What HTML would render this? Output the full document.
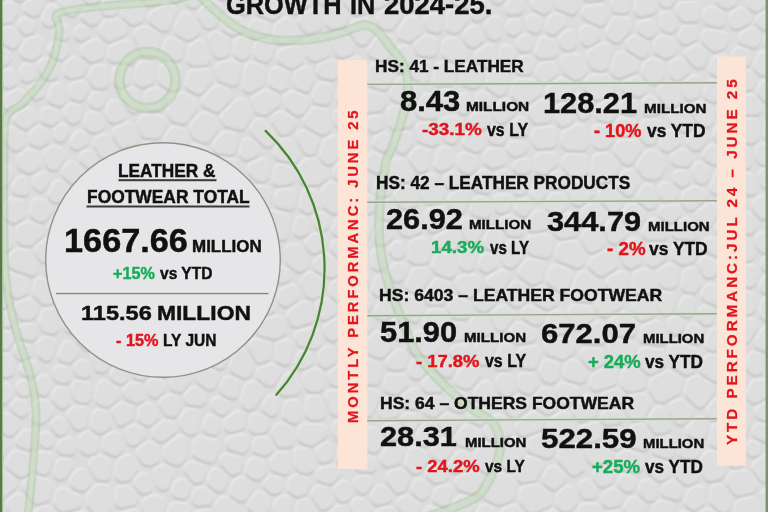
<!DOCTYPE html>
<html><head><meta charset="utf-8">
<style>
html,body{margin:0;padding:0}
body{width:768px;height:512px;overflow:hidden;position:relative;background:#dcdcdc;font-family:"Liberation Sans",Arial,sans-serif}
.t{position:absolute;white-space:nowrap;font-weight:bold;line-height:1;color:#111;transform-origin:0 0;-webkit-text-stroke-width:0.45px}
.abs{position:absolute}
.v{color:#e3141c;-webkit-text-stroke:0.25px #e3141c}
svg{position:absolute;left:0;top:0}
</style></head><body>
<!--BG-->
<svg class="bgx" width="768" height="512" viewBox="0 0 768 512" style="position:absolute;left:0;top:0">
<defs><filter id="bl" x="-2%" y="-2%" width="104%" height="104%"><feGaussianBlur stdDeviation="0.85"/></filter></defs>
<rect width="768" height="512" fill="#dcdcdc"/>
<g filter="url(#bl)">
<path fill="#bdbdbd" transform="translate(-0.2,1.8)" d="M-9 -2 -6 1 -2 2 4 -1 7 -4 8 -7 7 -22 6 -25 3 -27 -1 -28 -5 -26 -12 -14 -12 -9ZM-37 16 -42 19 -43 23 -42 27 -38 30 -13 36 -8 34 -5 28 -5 24 -7 16 -9 13 -11 12 -15 12ZM-6 495 -5 498 -2 499 1 499 4 498 16 488 17 484 15 480 5 472 2 472 -1 473 -8 480 -9 483 -9 486ZM-18 159 -20 161 -21 164 -20 167 -19 170 -14 173 -11 173 -8 173 -6 171 -4 169 -3 166 -4 163 -5 161 -9 158 -12 157 -15 157ZM10 227 -0 221 -3 221 -6 222 -8 224 -9 226 -11 240 -10 244 -8 246 2 251 6 251 9 250 12 247 13 245 12 231ZM-11 61 -7 68 -5 69 -2 69 1 68 10 62 12 58 11 54 9 52 -1 46 -3 46 -7 47 -10 50 -12 58ZM-38 256 -41 259 -42 263 -40 268 -37 270 -4 274 0 272 4 267 4 260 3 256 1 254 -13 248 -17 248ZM-12 135 -8 136 -4 135 6 122 6 120 6 116 5 114 1 111 -2 110 -5 111 -19 119 -22 122 -22 125 -21 129ZM-25 452 -28 451 -42 451 -44 452 -46 454 -48 457 -48 471 -47 473 -45 476 -42 478 -16 480 -14 480 -11 478 -6 471 -5 467 -6 465 -9 462ZM-5 460 -1 461 3 459 4 457 9 447 9 444 7 441 -2 436 -5 436 -7 437 -15 443 -17 447 -17 451 -15 453ZM-39 376 -42 378 -43 381 -43 385 -41 388 -37 389 -15 393 -12 393 -9 392 -3 384 -2 381 -2 378 -4 376 -11 368 -15 367 -18 367ZM-18 300 -16 300 -13 298 -4 288 -3 283 -5 279 -9 277 -40 273 -44 274 -46 276 -48 279 -48 291 -47 294 -45 297 -42 298ZM8 414 4 413 0 415 -3 419 -3 423 -2 428 -0 431 7 436 10 436 14 435 18 430 20 428 20 425 19 423 18 420ZM-11 418 -9 418 -6 416 -4 413 -3 410 -4 406 -11 398 -40 393 -44 393 -47 396 -48 399 -48 409 -47 412 -45 414 -42 415ZM-18 81 -20 83 -21 86 -21 89 -19 92 -9 96 -5 96 -3 94 -1 91 -1 88 -4 81 -5 79 -8 77 -11 77ZM-3 330 -7 331 -9 333 -10 336 -10 339 -7 347 -5 349 -2 350 6 350 8 349 10 347 14 341 14 338 13 335 11 333 9 332ZM-9 189 -16 194 -17 197 -17 200 -16 202 -9 209 -5 210 -2 209 0 206 3 200 3 197 2 194 -3 190 -6 189ZM-8 299 -10 302 -9 305 -8 308 -5 310 -2 310 5 308 7 306 9 304 9 301 8 298 5 294 2 293 -0 293 -3 293ZM11 273 6 273 2 276 1 280 3 286 12 296 15 298 19 298 26 295 28 293 29 290 29 284 28 281 25 278ZM2 84 4 87 7 88 10 88 15 86 17 83 17 81 16 74 14 71 12 69 9 69 6 70 2 73 0 75 -0 78ZM-4 175 -5 180 -4 184 0 187 4 187 7 186 9 184 13 176 14 172 13 170 11 168 8 167 5 167 2 169ZM3 100 2 103 3 107 7 110 10 111 25 105 27 103 28 99 27 97 25 92 22 90 19 89 16 90 6 95 4 97ZM-8 358 -9 362 -8 365 2 376 5 377 8 377 11 376 13 375 14 372 15 364 14 362 10 355 6 354 -3 354 -6 356ZM-16 510 -19 514 -18 519 -17 521 -9 528 -5 528 -2 527 4 521 5 518 6 515 5 513 2 506 -2 504 -5 503 -8 504ZM-3 401 -0 403 4 404 7 403 12 398 13 395 13 393 12 388 10 386 8 384 5 384 2 385 0 386 -5 394 -5 398ZM7 507 11 515 14 516 21 518 24 518 26 517 28 515 30 510 31 506 23 496 20 494 16 494 9 500 7 502ZM12 -6 13 -3 15 -1 18 1 20 1 23 0 32 -5 34 -9 34 -12 28 -43 27 -46 24 -48 18 -48 15 -47 12 -45 11 -43ZM0 6 -2 8 -4 11 -1 21 1 22 4 24 9 23 12 22 18 13 18 10 17 6 13 3 10 2 7 2ZM2 313 -0 315 -2 318 -2 321 -1 324 1 326 4 327 9 327 12 326 14 323 15 320 13 315 11 313 8 312ZM-3 32 -4 36 -2 41 10 48 13 49 16 48 18 46 20 42 21 39 20 36 14 29 11 28 9 27 1 28 -1 30ZM3 211 2 215 4 218 11 223 15 223 23 219 25 217 26 214 26 205 25 202 22 200 11 199 8 200 7 202ZM17 159 17 164 19 169 21 170 27 173 31 173 37 170 39 168 41 166 41 162 38 154 36 151 32 150 29 149 26 151 18 157ZM25 380 21 381 19 382 17 384 16 388 17 391 19 394 21 396 25 396 28 396 30 394 31 392 32 390 31 386 30 383 28 382ZM16 356 18 359 21 360 28 358 31 356 32 354 32 351 32 348 30 346 27 345 21 344 18 344 15 347 14 350 14 353ZM11 149 15 151 20 150 24 146 25 142 24 137 23 134 14 128 10 127 8 128 6 129 3 133 2 136 4 140ZM28 19 25 18 22 19 19 22 18 25 19 29 22 32 24 34 27 35 33 33 35 30 36 28 36 25 34 22ZM7 460 6 465 7 468 19 477 21 477 24 477 29 474 31 471 32 468 31 459 30 456 27 454 18 451 15 451 11 454ZM20 302 16 304 15 308 16 311 19 318 22 320 24 320 31 320 34 318 36 316 38 311 38 307 37 305 32 300 29 299 26 299ZM8 262 9 266 12 269 29 275 32 276 35 275 37 273 38 270 38 266 31 254 30 251 27 250 19 249 15 250 9 256ZM128 549 127 546 112 521 110 518 106 518 99 519 96 522 84 550 83 554 85 558 89 560 122 560 125 559 128 556 128 554ZM40 555 42 558 44 559 49 560 53 558 56 554 58 518 57 515 52 508 48 506 45 506 36 510 34 512 30 521 30 525ZM21 76 22 80 26 82 29 82 33 80 36 77 36 75 36 72 33 67 31 65 28 64 25 64 23 66 20 70ZM13 185 12 188 13 191 14 193 16 195 24 196 27 195 29 192 30 189 29 182 27 179 25 177 21 177 18 178 16 180ZM15 400 11 405 11 408 12 410 14 413 19 416 21 417 25 416 27 414 29 412 29 407 28 404 27 402 24 401 19 399ZM17 239 18 242 21 245 28 246 31 246 42 237 44 234 43 230 42 227 39 226 30 222 26 222 19 226 17 228 16 232ZM18 113 15 116 14 118 14 121 16 124 22 128 25 129 28 129 34 124 36 122 37 119 36 114 35 111 33 109 28 108ZM43 452 39 453 36 456 36 468 36 471 38 473 41 474 45 475 48 473 50 471 54 459 53 455 50 453 47 452ZM21 49 20 54 23 58 25 59 31 60 34 60 41 55 43 52 44 44 44 41 41 38 38 36 28 39 25 41ZM18 437 16 439 16 442 17 445 20 447 29 450 32 449 34 447 35 443 34 435 33 432 31 431 28 430 24 430ZM18 328 17 331 18 335 19 338 22 339 32 341 35 339 38 335 38 332 37 328 35 326 33 324 30 324 23 325 20 326ZM33 -40 39 -8 41 -6 47 -2 51 -1 54 -1 56 -2 62 -8 63 -10 63 -14 54 -44 52 -46 49 -48 38 -48 35 -46 33 -43ZM26 480 23 483 23 488 24 490 33 502 36 504 39 504 46 502 49 500 50 498 53 489 53 485 49 481 47 480 35 477 32 477ZM32 416 32 420 35 423 38 424 44 423 46 422 53 415 54 412 54 409 49 403 47 401 44 400 39 401 36 402 34 405ZM25 363 22 365 20 368 20 372 23 375 25 376 31 377 34 376 38 373 39 370 39 367 38 365 36 363 32 361ZM27 2 25 4 24 7 24 11 26 13 28 14 33 17 36 16 39 15 40 12 43 6 43 3 41 -0 38 -2 35 -2ZM30 213 31 216 33 219 40 222 43 222 47 220 51 214 52 212 53 209 51 206 44 200 42 199 36 199 33 200 31 203ZM33 291 33 295 35 297 42 304 46 305 52 304 55 302 57 300 59 291 58 288 56 285 44 279 41 278 38 278 35 281ZM38 258 40 260 42 262 46 262 48 261 59 253 60 250 59 246 57 244 51 240 48 239 45 240 37 246 36 248 35 252ZM31 96 33 98 36 100 39 99 42 98 44 96 45 91 45 88 44 86 42 84 39 83 36 84 34 85 31 87 30 90 30 92ZM43 311 39 321 39 324 42 330 44 332 46 333 53 334 56 333 59 331 60 327 59 315 58 312 56 310 53 308 45 309ZM39 357 45 361 48 361 51 360 53 357 57 345 56 341 53 339 47 337 44 337 41 339 37 343 37 347 38 355ZM31 132 29 134 29 138 30 143 32 145 37 147 41 147 47 144 49 142 50 139 50 134 48 131 46 129 42 127 39 127 36 128ZM38 378 36 381 35 383 37 392 39 394 41 395 44 396 46 395 49 393 52 386 52 383 50 379 48 376 44 375 41 376ZM33 186 35 189 38 191 41 192 44 190 46 188 50 181 50 179 48 175 46 173 42 173 35 176 33 179ZM41 74 43 77 49 80 51 80 55 79 58 77 59 75 59 67 57 64 49 59 46 58 43 59 40 61 38 65 38 68ZM43 17 42 20 43 23 46 26 50 27 53 26 59 21 61 19 62 15 61 13 58 7 55 6 52 5 49 6 47 8ZM47 149 44 151 43 155 46 165 48 168 51 170 54 170 57 170 59 168 65 159 66 156 65 153 62 149 55 147 51 147ZM49 108 45 108 42 110 41 113 41 118 41 120 43 123 48 125 51 126 54 125 59 121 60 118 60 115 59 113 57 110ZM54 438 49 433 46 432 43 433 41 435 39 437 39 440 40 444 42 446 45 448 48 448 51 447 53 446 54 443 54 441ZM48 228 50 234 52 235 61 241 65 242 69 240 71 238 73 227 72 225 70 222 62 217 58 216 54 218 49 225ZM91 522 91 519 90 516 87 513 84 511 81 512 67 516 64 518 62 522 60 552 60 556 62 558 65 560 71 560 74 559 76 557ZM66 489 62 488 58 490 56 492 54 500 54 504 58 510 60 511 63 512 79 508 81 506 82 503 82 499 80 496ZM59 442 57 448 58 451 60 453 62 454 69 455 72 455 75 453 76 450 77 447 75 442 73 439 71 438 67 438 61 440ZM54 471 54 475 56 478 59 480 63 479 66 478 72 470 73 467 73 464 71 461 69 460 64 459 61 459 57 462ZM53 421 51 424 51 427 52 429 56 434 58 435 61 436 64 435 66 433 68 430 68 427 65 421 64 419 62 418 58 417 56 418ZM62 366 58 366 55 368 53 371 53 375 55 380 58 382 61 383 67 383 69 382 71 380 71 377 71 374 70 370 68 368ZM49 192 48 196 50 199 53 202 57 203 61 202 68 196 69 193 70 190 68 187 63 182 61 181 59 181 56 181 54 183ZM49 265 47 267 46 270 46 273 48 276 56 280 59 280 62 278 63 276 66 268 66 265 65 262 62 260 58 260ZM57 406 60 408 64 409 68 406 70 404 70 399 68 392 66 389 64 388 60 387 57 388 55 390 52 395 52 400ZM56 43 53 43 50 45 48 49 48 52 51 55 57 59 60 60 63 60 65 58 68 55 69 52 69 49 67 46 65 45ZM54 136 55 139 57 141 61 142 64 141 66 139 69 134 70 132 69 128 68 126 65 125 63 124 60 125 54 130 54 133ZM48 96 48 100 50 103 52 104 58 106 60 106 63 105 65 102 66 100 64 87 62 85 59 83 55 84 52 86ZM58 27 55 30 55 32 55 36 57 38 59 39 63 40 66 40 68 38 70 36 70 32 70 29 69 27 66 25 63 25 60 25ZM77 164 73 162 69 162 66 165 62 171 62 175 64 177 70 183 72 184 76 183 81 181 83 179 85 176 85 173 84 171ZM65 251 66 255 70 261 72 263 74 263 81 265 85 264 87 262 91 256 91 252 88 247 85 246 76 243 72 243 68 245 66 248ZM61 299 61 304 64 307 67 308 76 309 78 308 80 306 84 300 84 297 83 294 80 291 68 290 65 291 63 293ZM59 353 58 357 60 361 63 362 69 363 72 362 77 357 78 355 79 352 77 348 72 343 70 342 67 342 65 342 62 345ZM87 28 82 26 79 26 77 28 75 30 74 34 75 37 76 39 79 40 81 41 84 40 87 38 89 36 89 33 89 30ZM64 72 65 76 69 78 71 79 80 77 83 76 85 73 87 70 87 67 85 64 79 59 76 57 74 57 71 59 65 64 64 67ZM72 426 75 429 78 430 83 429 86 427 87 424 88 414 88 410 86 408 83 407 76 407 73 408 69 411 68 414 68 417ZM65 203 63 207 63 211 65 214 72 219 74 220 78 220 82 217 84 215 85 211 84 208 76 201 73 200 71 200ZM64 116 66 119 70 123 73 124 76 123 79 122 81 119 82 113 82 110 81 107 78 105 73 104 70 104 68 106 65 109 64 112ZM70 271 67 280 68 283 70 285 72 286 83 286 86 285 88 282 88 278 85 272 84 270 81 269 75 268 72 269ZM66 13 69 16 74 16 77 14 81 8 81 6 81 3 78 -4 76 -6 71 -7 67 -7 65 -6 61 -1 61 1 61 4ZM64 327 65 330 67 332 70 333 74 333 82 326 83 323 82 319 80 316 77 313 71 313 68 313 65 315 64 317ZM71 478 70 482 71 486 73 488 80 491 83 491 86 490 90 486 91 483 91 480 90 478 86 471 83 469 80 469 77 470ZM79 381 74 382 72 386 71 390 74 398 75 400 78 402 84 403 87 403 89 401 91 398 92 389 92 386 90 384 88 383ZM74 369 76 375 79 377 85 378 88 377 90 375 91 371 91 369 89 363 87 361 84 360 82 360 79 361 76 364 74 367ZM84 45 81 48 81 53 82 56 89 61 91 62 94 62 100 60 103 58 104 56 105 47 103 44 100 41 97 39 94 40ZM71 140 70 144 71 147 74 149 77 150 80 149 87 145 88 143 89 140 89 137 87 135 83 132 80 131 75 133ZM81 450 83 453 87 455 90 455 96 453 98 450 99 448 99 441 97 438 89 432 86 432 82 434 80 437 79 439ZM79 186 77 189 76 191 76 194 78 197 87 205 91 206 95 204 97 201 99 194 99 191 97 188 92 183 89 182 85 183ZM78 101 81 101 84 99 89 92 89 88 87 84 85 82 82 81 73 83 71 85 69 88 70 95 71 98 74 100ZM98 307 96 304 93 303 89 303 86 305 84 309 83 311 84 314 87 319 90 320 92 320 95 320 97 318 99 316 99 313ZM77 232 77 236 80 240 87 242 91 241 97 236 98 233 99 230 96 222 95 220 92 218 89 218 86 219 79 225 77 227ZM83 348 85 350 89 350 97 346 99 343 100 338 100 336 96 329 93 327 90 326 87 327 79 334 77 336 76 339 77 342ZM103 279 99 281 98 285 99 289 101 291 104 292 112 292 114 291 117 288 117 286 117 283 116 279 114 278 109 276ZM90 132 95 133 101 131 103 129 105 125 104 122 101 116 99 114 93 112 90 112 87 114 86 117 84 123 84 125 85 128ZM85 166 88 168 91 168 94 166 97 163 97 160 97 158 93 153 91 151 88 150 85 151 82 153 81 155 80 158 80 161ZM88 494 86 498 87 506 89 508 94 513 97 515 99 515 107 513 109 511 111 508 111 492 111 488 109 486 105 485 97 485 95 486ZM101 410 97 410 93 413 91 425 91 427 93 430 98 433 101 433 104 433 109 429 111 427 112 424 107 413 105 411ZM90 25 94 25 97 24 99 22 100 18 98 12 96 10 93 9 88 8 86 9 83 11 82 14 81 17 84 21ZM100 156 104 159 109 160 113 157 115 153 115 149 110 138 108 136 105 134 101 135 97 137 95 139 94 141 94 146ZM95 171 94 175 94 179 96 181 101 186 105 187 112 185 114 184 116 182 118 176 118 172 114 166 112 164 109 164 103 164ZM92 85 95 88 102 89 105 88 108 86 109 82 108 71 107 68 105 66 102 65 99 65 95 66 92 69 88 77 89 80ZM90 265 89 268 90 272 92 275 95 276 98 276 105 273 108 271 109 269 109 265 107 262 104 260 100 259 97 259 94 260ZM92 359 96 371 99 372 103 373 107 371 112 364 112 361 111 357 103 351 100 350 98 350 94 352 92 355ZM90 98 89 101 90 105 92 107 96 109 99 109 102 107 104 105 105 101 105 98 104 96 102 94 100 93 97 92 94 93 92 95ZM100 28 100 31 101 35 105 40 109 42 112 41 124 36 126 34 128 31 127 28 126 25 121 21 117 19 105 21 103 23ZM83 -4 86 2 89 4 93 5 96 4 98 2 101 -1 101 -4 101 -7 99 -9 95 -13 91 -14 89 -13 85 -11 83 -8ZM107 382 105 381 102 381 100 382 98 384 97 386 95 399 96 402 98 404 106 407 110 406 117 400 119 398 120 395 119 391 118 389ZM94 251 96 253 99 255 110 258 113 257 116 256 118 253 118 244 116 241 114 240 106 237 102 237 100 238 95 244 94 247ZM108 214 104 215 101 219 101 222 103 230 106 233 116 236 119 236 122 235 127 229 127 226 126 223 118 215ZM102 12 104 15 107 16 113 16 116 14 118 11 118 4 118 1 117 -1 115 -3 112 -4 108 -3 106 -2 101 6 101 9ZM121 104 119 102 115 100 111 101 109 104 106 111 105 113 108 120 110 122 113 123 116 123 122 121 125 118 125 116 125 113ZM93 458 90 461 89 466 95 478 97 480 100 480 106 481 109 479 110 477 111 474 112 465 111 461 109 459 102 456 98 456ZM115 474 116 478 119 481 122 482 128 481 131 479 138 470 138 468 138 464 131 456 128 455 125 456 119 459 117 462ZM101 306 103 308 105 310 108 310 110 310 113 308 114 306 115 303 114 300 113 298 110 297 108 296 105 297 103 298 101 300 101 303ZM106 436 104 438 103 441 103 448 105 452 111 455 114 456 117 456 122 452 124 449 124 446 121 436 119 434 117 433 114 432ZM100 321 99 324 100 327 102 331 106 333 108 333 118 330 120 328 121 325 120 318 118 316 115 315 105 316 103 317ZM109 49 108 57 109 60 112 62 114 62 132 64 136 61 137 57 137 55 132 44 130 41 127 40 123 41 111 46ZM115 269 116 273 120 278 122 280 124 281 127 281 130 280 135 275 136 272 135 266 133 263 131 261 124 258 120 259 117 261 116 264ZM108 190 105 192 103 194 101 202 101 205 102 207 105 210 108 210 114 210 116 209 118 206 121 197 121 194 119 191 116 189 113 189ZM123 512 120 514 118 516 117 519 118 522 126 535 130 537 134 536 136 534 143 524 144 521 143 518 140 512 136 510 134 510ZM130 291 127 289 123 289 120 290 118 293 118 297 119 303 121 306 123 308 126 308 129 308 133 305 135 303 135 300 135 297ZM110 337 107 338 105 341 105 344 106 347 116 356 119 356 123 355 125 352 126 349 122 338 120 336 117 335ZM131 -4 126 -3 123 -0 122 14 123 18 130 24 133 25 135 25 138 24 143 21 145 14 145 12 145 9 137 -1 135 -3ZM112 371 110 374 111 378 113 381 117 383 120 384 123 384 127 381 128 379 129 375 128 368 126 365 124 364 120 363 117 364ZM117 127 114 130 113 134 113 136 119 146 121 148 124 148 134 146 137 144 138 142 138 138 135 128 133 125 130 123 127 123ZM116 421 118 425 122 426 125 425 131 421 133 419 134 417 135 412 133 408 130 406 123 403 120 404 115 407 113 409 112 413ZM115 501 116 504 117 506 120 508 123 508 135 505 137 502 138 498 137 495 130 487 127 486 122 486 118 487 116 490ZM120 167 122 169 125 170 135 169 138 168 140 165 141 162 138 154 135 151 132 151 123 152 120 154 118 156 117 161 117 163ZM113 82 115 85 119 88 122 88 128 85 130 83 131 80 131 73 130 70 128 68 125 67 118 67 115 68 113 70 112 73ZM122 208 122 212 124 215 129 220 132 221 134 220 137 219 139 217 145 207 145 202 143 199 141 197 129 197 127 198 125 200ZM134 330 130 332 127 336 127 339 130 348 132 351 134 352 137 353 142 352 144 350 146 347 148 338 147 335 145 332 143 331ZM128 109 131 112 135 113 139 111 141 107 140 94 138 91 134 88 130 88 126 90 124 92 122 95 123 99ZM135 80 136 84 141 87 145 87 153 84 154 81 155 79 154 68 153 64 150 62 144 62 142 62 140 63 137 66 136 69ZM125 435 128 444 130 445 134 446 137 445 145 438 146 435 145 432 144 429 138 426 135 425 132 426 127 428 125 431ZM123 394 125 397 126 399 136 403 138 403 142 402 144 400 145 397 144 394 142 386 140 384 134 383 131 383 125 387 123 391ZM137 357 133 359 131 362 133 375 134 377 136 379 141 380 143 380 146 378 149 374 149 361 147 358 144 356 142 356ZM122 248 123 252 126 255 134 258 138 257 142 255 144 252 146 240 145 237 143 235 138 231 135 230 132 231 123 240 122 242ZM138 295 141 297 144 298 147 297 152 294 154 291 155 287 154 284 152 281 150 280 141 278 138 278 135 281 133 284 133 288ZM151 479 150 476 147 474 145 473 141 474 139 475 135 480 134 483 135 486 139 492 141 493 144 494 148 493 151 491 152 488ZM120 181 120 184 121 187 124 190 127 192 140 193 144 191 146 187 144 177 143 175 140 173 137 173 125 175 122 177ZM156 143 146 143 144 144 141 148 142 152 145 162 148 164 151 165 162 161 164 159 165 155 160 145ZM137 29 134 32 134 36 141 54 143 56 146 58 151 58 154 57 157 54 161 41 161 38 160 36 158 33 147 27 142 27ZM146 516 149 518 152 519 159 519 162 517 164 514 166 504 166 501 164 498 161 497 155 495 146 498 144 500 142 503 142 507ZM147 233 151 234 164 233 167 231 170 225 170 222 168 216 158 207 156 206 152 206 149 208 141 222 140 225 141 228ZM153 262 147 259 145 259 142 260 140 263 139 265 140 270 142 273 144 274 147 275 150 275 152 273 154 271 155 268 155 264ZM125 320 126 323 129 325 139 326 142 326 144 324 145 322 146 319 144 313 142 311 140 309 137 309 134 309 127 314 125 317ZM141 134 143 137 146 138 156 139 159 138 161 136 167 127 168 124 167 120 164 117 161 116 147 115 143 116 139 119 138 122 138 125ZM139 411 138 419 140 422 145 425 148 426 152 425 157 420 159 418 159 415 158 413 154 406 151 404 149 403 146 404 140 407ZM142 463 146 465 150 466 153 465 159 462 160 458 160 451 159 448 157 446 153 443 149 442 146 443 138 449 137 452 137 456ZM149 300 147 303 146 306 149 316 151 318 153 320 156 320 159 319 166 312 167 309 166 306 164 303 157 299 153 298ZM161 333 158 333 155 333 153 336 152 338 151 349 153 352 156 354 162 354 165 353 167 351 172 345 172 341 170 338ZM156 484 157 487 161 490 164 490 168 488 169 486 174 475 174 472 172 469 170 467 163 465 161 466 156 468 155 470 154 473ZM153 169 150 171 148 175 150 186 152 189 155 191 158 191 169 186 171 183 171 180 169 171 167 168 165 166 162 166ZM145 105 147 109 150 111 158 111 161 111 164 108 167 100 168 97 167 95 165 92 158 88 155 88 149 90 147 92 145 95ZM154 428 152 432 153 437 157 441 161 442 165 441 174 434 176 432 177 429 176 426 174 423 171 422 166 420 162 422ZM147 387 149 395 152 397 155 398 158 397 165 391 166 388 166 384 164 382 162 381 155 379 151 379 148 382 147 384ZM146 4 148 6 152 6 161 3 163 0 164 -4 162 -14 160 -17 158 -19 155 -20 151 -18 142 -8 141 -5 142 -2ZM161 -34 161 -31 169 -2 171 0 173 2 176 2 179 1 182 -2 188 -14 188 -17 176 -45 174 -47 172 -48 168 -48 165 -46 163 -43ZM149 17 149 21 151 24 161 31 166 31 169 30 170 28 176 14 177 11 176 8 174 6 170 5 167 5 152 12 150 14ZM148 249 149 253 151 256 156 258 159 257 162 256 163 253 165 245 164 242 162 239 160 238 153 238 150 242ZM158 271 158 274 159 277 162 279 164 280 171 278 173 276 175 273 174 270 173 267 166 264 164 265 161 266 159 268ZM167 64 163 65 159 68 159 71 159 81 161 85 169 90 172 91 175 91 179 89 181 86 183 74 183 71 181 68 179 66ZM163 194 160 197 160 202 161 205 168 209 171 210 174 209 181 202 182 199 181 196 179 191 176 189 171 189ZM172 489 172 493 174 497 177 498 183 499 186 498 188 496 190 491 191 488 190 485 186 481 184 479 181 479 178 480 176 481ZM171 120 174 122 182 124 184 124 187 123 198 109 199 106 197 101 195 99 184 93 180 93 175 95 172 98 168 111 168 115ZM168 152 172 156 174 156 177 156 179 154 188 144 189 142 189 138 186 131 183 129 177 127 175 127 171 128 170 130 164 138 164 141 164 144ZM164 413 166 416 171 417 174 417 177 415 181 409 182 406 181 401 179 398 173 395 170 395 167 396 162 399 160 402 160 405ZM153 364 154 372 156 374 164 377 167 376 169 375 171 372 172 369 171 365 166 360 164 358 161 358 157 359 154 361ZM172 230 171 234 173 238 186 247 189 248 192 248 194 247 196 245 197 243 197 239 191 230 189 228 187 227 177 227 174 228ZM170 386 171 389 174 391 178 392 182 392 191 382 192 379 191 375 189 373 186 371 180 371 178 372 175 374 171 380 170 383ZM165 285 162 286 160 290 160 294 162 297 167 300 171 301 174 300 179 296 181 292 180 288 179 286 177 284 173 282ZM167 515 167 518 169 521 173 524 176 524 186 521 188 520 190 516 191 512 191 509 189 506 187 504 175 503 172 504 170 506ZM164 457 165 460 169 463 176 465 179 465 181 464 187 459 188 456 189 443 188 439 183 436 179 436 167 445 164 449ZM171 359 177 366 180 367 189 367 192 366 196 363 197 361 197 356 196 353 194 351 184 345 181 344 178 345 172 352 170 355ZM175 27 175 30 176 34 178 36 187 40 191 40 197 36 199 34 200 32 200 27 193 16 191 14 187 13 184 13 181 15ZM167 254 167 257 169 260 174 263 176 263 180 263 182 261 184 258 185 255 184 253 182 250 178 247 175 246 172 246 170 248 168 250ZM162 51 162 55 165 59 167 60 178 61 181 60 183 57 185 47 184 44 182 42 174 38 170 38 167 39 165 41ZM165 320 163 323 162 325 163 328 165 330 173 333 176 333 179 330 180 327 180 323 179 321 175 318 172 316 170 316 167 317ZM177 303 175 305 174 308 175 311 177 314 182 318 185 319 190 318 193 316 194 314 195 309 195 306 193 303 187 300 184 299 181 300ZM185 166 182 164 179 164 176 166 174 168 173 172 175 178 176 180 179 182 182 183 184 182 188 179 190 176 191 174 190 171ZM192 280 188 281 185 284 184 288 185 293 188 296 196 300 199 300 202 299 205 297 206 294 204 284 200 281ZM183 333 182 337 184 340 190 344 194 344 197 343 199 340 201 331 201 329 200 326 196 323 194 322 191 322 188 323 186 325ZM178 211 176 215 177 219 181 222 186 223 190 222 192 220 196 215 197 211 196 209 194 206 188 204 184 205ZM186 465 184 468 185 472 192 481 194 483 197 483 200 483 202 482 204 479 206 472 206 470 204 467 201 465 193 462 189 462ZM181 429 184 432 189 435 193 435 197 433 198 430 201 417 201 415 199 412 197 410 194 410 189 409 185 411 180 418 179 421 179 424ZM192 497 192 500 193 503 195 505 198 506 210 505 213 501 214 498 214 495 212 493 206 488 202 487 198 488 196 489ZM185 401 187 404 189 405 201 406 204 404 205 403 207 400 207 397 205 394 199 388 196 387 194 387 190 389 186 394 184 397ZM184 192 187 198 189 200 193 201 196 201 198 200 200 198 201 195 201 192 197 185 194 183 191 183 186 186 184 188ZM189 47 187 60 188 63 191 65 194 66 207 65 210 62 211 59 210 56 206 44 204 42 201 40 197 41 191 45ZM186 152 185 156 185 160 187 162 195 169 198 170 201 169 207 166 209 163 211 157 211 154 209 150 206 147 197 145 194 145 191 147ZM198 234 201 236 203 237 206 237 209 235 216 227 217 224 215 220 207 215 203 214 200 216 196 221 195 225 195 228ZM205 367 200 367 197 369 195 373 196 379 197 382 206 389 209 390 211 390 214 389 216 387 219 380 219 376 216 372ZM201 533 205 535 210 535 213 532 216 526 216 523 212 513 210 511 208 510 205 510 199 511 196 513 195 515 194 520 194 522ZM186 84 186 87 189 90 196 94 200 94 203 93 212 82 213 79 212 74 210 71 207 69 192 70 189 72 188 74ZM186 -2 186 2 187 5 191 8 194 8 197 7 205 0 206 -2 206 -6 205 -9 203 -11 197 -12 194 -12 190 -9ZM184 265 183 268 183 271 185 274 188 276 200 276 203 274 205 271 205 267 201 258 199 256 197 255 193 254 190 256ZM206 201 205 206 207 209 217 216 221 217 224 215 226 213 230 202 230 199 230 196 227 193 224 192 221 192 209 197 207 199ZM193 137 196 140 204 143 207 143 210 141 218 131 219 128 219 125 216 118 214 116 206 113 202 113 200 114 191 124 190 126 190 130ZM198 314 198 317 200 320 204 324 208 325 217 324 219 322 221 320 223 312 222 309 217 303 215 302 210 301 207 301 202 305 200 307ZM207 462 212 463 216 459 220 450 219 444 217 441 214 440 201 437 197 438 195 440 193 443 193 455 196 458ZM203 172 200 175 199 179 200 181 204 189 207 191 209 191 212 191 216 189 218 187 219 183 218 180 213 174 211 172 209 171 206 171ZM200 9 198 13 198 17 204 27 209 29 213 28 216 26 222 14 223 11 223 8 222 5 216 2 214 1 209 2ZM215 252 211 252 207 255 206 259 208 265 210 268 213 269 222 268 224 267 226 264 226 258 223 255ZM220 63 217 65 215 69 216 72 218 80 221 82 231 86 233 86 237 85 239 81 241 70 241 67 240 65 237 62 231 60ZM214 274 211 275 209 276 208 279 208 281 210 292 214 295 217 295 220 294 222 292 228 283 229 279 227 275 224 273ZM208 479 208 482 209 485 216 491 219 492 222 491 225 489 228 482 228 479 226 476 221 471 217 469 214 469 211 471 210 474ZM204 338 204 341 205 344 207 346 211 347 222 343 224 341 225 337 224 335 222 330 219 328 216 328 210 329 207 330 205 333ZM215 416 212 415 209 415 206 417 205 419 203 429 205 432 208 434 215 435 217 434 219 431 220 429 220 422 218 418ZM202 104 204 107 206 108 215 112 219 112 221 110 231 100 232 97 232 93 230 90 221 86 218 86 216 86 213 88 203 98 202 101ZM219 33 216 32 212 33 210 35 209 39 214 55 217 58 221 58 226 57 229 54 229 52 230 42 229 40 227 38ZM229 499 225 497 221 498 219 500 215 506 215 510 218 517 220 519 222 521 225 521 236 518 239 516 240 514 241 510 239 507ZM222 158 218 159 216 161 214 163 214 167 222 178 225 180 229 180 231 179 239 171 240 168 239 165 237 162 235 160ZM210 352 207 353 205 356 205 360 207 363 218 369 222 369 225 367 227 364 229 356 228 353 227 350 224 349 221 348ZM219 -1 224 -0 227 -1 233 -6 235 -9 234 -13 230 -21 228 -23 226 -25 222 -25 219 -23 213 -12 213 -9 214 -6 216 -4ZM225 306 228 308 231 309 242 308 245 305 249 297 249 294 248 288 242 283 240 282 237 281 235 282 232 284 223 298 223 302ZM221 398 217 398 213 399 211 403 211 406 213 410 218 414 221 415 224 415 226 414 229 411 230 408 230 406 228 402ZM221 134 213 145 213 148 214 151 216 153 219 154 231 155 234 154 236 151 238 141 238 138 236 135 234 133 225 132ZM224 425 225 429 229 432 232 432 241 430 244 428 245 426 246 418 245 415 243 413 241 412 238 411 236 412 226 419 225 421ZM220 458 220 462 221 465 230 474 232 475 235 475 239 473 241 471 243 463 242 460 240 457 227 454 223 455ZM218 249 222 249 225 248 227 246 228 243 227 239 225 236 222 234 220 233 217 234 215 235 213 238 212 241 212 244 213 246ZM232 253 230 257 231 266 233 270 236 272 239 271 242 270 250 260 251 258 251 255 250 252 245 248 243 246 240 246 237 247ZM230 339 232 341 235 343 242 342 245 341 251 336 252 332 252 322 247 315 245 313 241 312 232 313 229 314 227 316 225 323 224 325ZM236 223 233 223 230 224 228 227 227 231 228 234 232 239 235 240 238 241 241 239 243 238 245 233 245 231 243 226ZM231 437 228 438 226 441 226 445 228 448 230 450 241 453 244 453 247 451 248 448 249 441 248 439 247 436 244 435 242 434ZM220 386 220 390 222 394 229 398 232 398 236 398 238 395 241 386 240 382 238 380 231 377 229 377 226 378 224 379ZM223 123 225 126 228 127 240 130 243 130 245 128 251 119 252 116 252 113 246 101 244 99 241 99 239 99 236 101 222 115 221 118ZM231 210 231 214 233 218 246 223 248 223 251 222 253 220 255 218 255 215 254 211 245 203 243 201 239 201 236 202 233 205ZM222 22 222 26 223 30 225 32 231 35 234 35 241 33 243 31 245 29 245 23 243 20 241 18 232 16 230 15 226 16 224 18ZM230 489 230 493 231 496 238 501 242 501 245 501 247 499 252 491 253 487 252 484 251 482 245 478 241 477 236 479 234 481ZM241 400 242 405 245 409 249 410 254 409 256 407 263 396 264 392 263 390 262 387 255 382 252 382 249 382 247 384 245 386ZM249 502 248 507 249 509 251 511 254 513 263 514 266 513 269 511 271 502 270 499 269 497 263 493 260 492 257 492 255 494ZM230 366 230 369 232 373 244 378 247 378 250 376 252 374 254 369 253 365 246 352 244 350 241 348 237 349 234 352ZM231 190 235 196 237 197 241 197 245 196 251 187 251 183 250 180 246 177 244 176 241 176 238 177 232 184 230 186ZM243 85 243 88 244 90 246 92 249 93 252 92 262 87 264 83 266 72 266 70 264 67 261 65 253 63 250 63 248 64 245 68ZM238 38 236 40 234 43 234 54 235 56 237 58 241 60 244 60 247 58 250 55 250 42 248 39 245 37 242 37ZM232 0 230 3 229 6 231 9 233 11 245 15 248 14 251 11 253 0 252 -3 249 -5 247 -6 240 -7 238 -5ZM249 426 250 430 253 433 256 434 263 433 266 432 268 430 270 427 270 424 269 420 267 419 259 414 256 414 252 415 250 418ZM247 271 245 275 246 278 247 281 251 282 255 282 262 278 264 275 264 273 264 270 263 268 260 265 257 263 252 265ZM251 36 253 37 256 38 267 36 269 34 270 31 270 28 270 26 267 23 258 20 255 19 253 20 250 24 248 30 249 33ZM257 209 260 211 264 211 267 210 270 206 271 193 270 189 267 187 261 186 257 187 255 188 250 196 250 199 250 202ZM247 238 247 242 248 245 253 249 257 250 260 250 268 245 270 243 271 239 270 236 264 226 261 224 259 223 256 224 251 227ZM251 341 249 345 249 348 256 361 259 363 261 363 267 361 269 360 271 356 272 349 271 346 270 344 267 342 257 339 253 340ZM240 152 240 155 242 158 244 160 248 160 257 156 259 153 260 150 258 146 253 141 250 139 248 139 244 140 242 143ZM250 306 249 309 250 313 253 316 257 318 260 317 272 313 275 311 276 308 275 304 272 301 258 298 255 299 253 300ZM256 458 252 458 249 461 247 463 246 471 246 473 248 476 253 479 257 480 261 479 265 475 267 472 267 470 266 464 264 461 262 460ZM253 517 250 517 248 518 246 520 245 523 248 555 250 558 253 560 267 560 271 557 272 553 270 523 268 521 266 519ZM252 163 249 165 248 168 248 171 249 174 257 181 262 182 266 181 269 177 270 167 270 164 269 162 266 159 262 159ZM264 62 268 62 271 59 275 50 275 47 274 44 272 42 269 40 258 42 256 44 254 47 254 54 255 57 258 60ZM251 126 250 130 252 134 264 146 266 147 269 147 271 146 273 145 276 141 276 136 265 121 262 119 258 119 255 121ZM274 507 275 512 277 515 281 516 287 515 290 513 291 511 293 504 292 501 291 499 288 496 285 496 282 496 276 500 275 502ZM265 251 262 255 262 258 263 261 267 266 270 267 273 267 275 266 280 263 281 260 281 253 280 250 278 248 275 247 273 247ZM253 448 253 451 255 453 265 456 268 455 271 453 273 451 273 448 272 445 269 439 267 438 264 437 258 437 255 439 253 443ZM268 214 266 217 266 222 276 238 278 239 281 240 283 240 286 239 288 235 291 222 291 219 290 217 286 214 275 211 272 211ZM257 372 257 376 258 379 266 385 269 386 272 386 275 384 280 376 281 373 281 370 279 368 275 365 272 364 260 368 258 370ZM274 34 274 37 277 41 279 43 282 44 296 41 299 39 300 35 299 32 292 21 290 19 287 18 283 19 277 24 275 27ZM256 8 256 12 258 15 272 20 275 20 281 15 283 13 283 10 283 7 280 4 266 -2 264 -3 260 -2 258 0 257 2ZM266 480 264 483 264 487 266 489 271 494 274 494 277 494 281 492 283 489 284 483 283 480 281 478 272 476 269 477ZM261 282 259 285 258 288 259 291 260 294 263 295 268 296 272 295 274 294 275 292 276 288 275 286 272 282 270 281 267 280 265 281ZM267 398 262 406 262 409 263 411 266 413 270 416 273 416 276 415 278 412 279 410 280 402 279 399 276 396 273 395 269 396ZM255 111 257 113 260 115 264 115 267 115 279 106 280 102 280 99 279 97 276 94 267 90 263 91 256 95 253 97 252 101ZM280 68 275 68 271 70 270 74 269 83 269 85 272 88 279 91 282 91 286 89 289 87 290 77 289 74 287 72ZM261 336 274 339 277 339 284 335 287 332 287 328 284 320 283 318 280 317 276 316 261 321 258 323 256 326 256 331 258 335ZM271 467 272 470 275 472 284 475 288 474 290 471 291 468 290 457 289 455 287 453 284 452 280 452 277 453 271 459 270 463ZM277 270 275 272 274 276 275 279 277 282 280 283 283 283 287 282 290 280 291 277 291 274 290 271 287 269 282 267ZM273 178 273 183 277 186 280 186 290 184 293 183 295 180 295 177 294 171 292 169 290 167 282 165 278 165 276 166 274 169ZM280 342 278 343 276 346 276 359 277 362 281 364 284 365 287 365 290 364 291 361 294 350 294 346 291 342 288 340 285 340ZM278 296 278 300 280 304 283 306 287 307 289 306 298 300 300 297 300 294 299 289 297 287 294 285 291 285 281 289 280 291ZM284 424 280 423 276 425 272 431 272 435 277 445 279 447 282 448 289 447 292 446 294 442 294 431 291 427ZM279 385 278 388 278 391 281 395 284 396 296 395 299 393 301 390 301 387 297 377 295 375 293 373 289 373 286 375ZM275 149 274 152 274 155 276 158 278 160 293 163 297 162 300 158 300 155 299 152 293 142 290 139 286 139 282 140ZM275 114 272 118 272 122 279 133 282 135 285 135 289 134 291 132 295 128 296 125 296 122 295 120 283 112 280 112ZM288 487 288 490 290 493 295 496 299 497 304 495 307 493 310 486 311 483 309 480 307 478 298 475 295 475 292 477 289 479ZM278 -1 282 -1 285 -3 289 -8 289 -12 278 -31 274 -33 271 -33 268 -31 266 -29 262 -15 262 -12 263 -9 265 -7ZM277 56 277 60 279 63 291 69 294 68 300 65 303 62 303 60 303 57 301 49 299 47 296 46 282 49 279 51ZM303 448 298 448 296 450 294 452 294 455 295 467 297 470 299 472 307 474 309 473 312 472 314 470 315 467 315 464 311 451 308 449ZM279 208 290 210 293 209 295 208 296 205 297 194 295 191 292 189 279 190 277 192 275 196 275 202 276 206ZM284 98 285 105 286 108 295 115 298 116 301 115 304 114 308 108 310 104 309 101 307 98 295 92 292 92 289 92 286 95ZM294 244 289 245 286 248 285 250 286 261 287 264 296 271 299 272 302 272 307 269 308 267 310 261 309 259 300 246 297 245ZM290 323 292 326 296 327 308 324 311 323 313 320 313 317 311 306 310 304 306 302 302 302 289 311 288 313 287 316ZM291 423 295 424 297 423 300 421 301 418 301 405 299 401 296 400 293 400 288 401 285 403 284 406 283 414 283 417 286 420ZM287 5 288 10 290 12 295 14 310 6 312 4 313 1 310 -7 308 -9 305 -10 294 -8 292 -6 288 3ZM303 217 301 217 298 217 296 219 295 222 294 232 295 235 299 237 302 237 304 236 309 233 310 230 310 226 309 220 307 218ZM299 179 301 183 304 185 319 185 326 180 328 178 328 175 327 172 317 160 313 159 307 159 304 161 298 167 298 170ZM314 518 316 516 316 512 315 509 310 502 308 500 305 500 301 500 299 502 297 505 296 511 296 514 297 517 303 521 305 522 309 521ZM300 331 296 333 295 337 296 341 299 346 314 349 318 348 322 344 322 341 322 338 319 331 316 328 312 328ZM303 30 306 33 309 34 318 31 321 29 322 26 322 16 321 13 319 11 316 9 313 9 300 16 299 19 298 22ZM304 276 302 279 301 282 305 294 307 297 310 298 314 299 322 295 324 293 325 291 327 286 326 282 324 280 312 273 308 273ZM296 361 296 364 297 367 300 369 303 369 306 368 312 365 314 362 314 359 313 355 311 353 305 352 302 351 300 352 298 354ZM297 71 295 74 294 76 294 83 295 86 297 89 303 91 306 92 309 91 311 88 315 80 314 77 312 71 310 68 306 67 303 68ZM307 131 303 131 299 132 297 135 297 139 304 152 308 155 312 155 315 153 316 151 319 144 319 141 316 137ZM305 387 307 390 311 392 318 392 322 390 324 388 325 385 324 376 323 373 319 370 316 369 313 369 305 373 304 375 303 378ZM318 1 321 4 325 5 336 0 339 -3 341 -9 341 -13 333 -27 330 -30 326 -30 322 -29 314 -14 313 -10ZM298 437 299 441 302 443 310 446 313 446 326 437 328 433 328 430 327 427 323 425 305 424 302 425 299 428 298 431ZM306 117 304 120 304 123 306 126 308 128 322 135 327 134 330 131 331 127 329 115 327 111 325 110 317 108 314 108 312 110ZM318 458 319 461 323 463 328 462 331 460 333 457 334 450 333 447 332 445 329 443 326 443 318 447 317 449 316 452ZM306 213 309 214 312 212 317 209 318 206 318 194 316 191 313 190 306 190 303 192 302 194 300 208 302 211ZM310 38 306 40 305 44 307 56 309 59 312 61 315 62 328 57 330 54 330 50 327 40 326 37 323 36 320 35ZM312 493 312 495 313 498 320 509 324 510 326 509 329 508 332 505 333 502 333 500 330 492 328 488 321 486 318 486 314 488ZM324 141 320 155 320 158 324 163 328 165 333 164 335 162 342 152 342 149 341 140 338 137 335 136 332 136 327 139ZM317 314 318 317 320 319 323 320 326 320 335 315 337 311 337 308 335 305 329 300 326 299 323 299 318 301 316 305 316 307ZM318 361 319 364 321 366 324 368 328 368 336 363 337 361 337 357 333 349 330 347 326 347 323 348 319 353 318 356ZM308 239 305 242 306 246 309 251 312 253 314 254 317 253 323 250 326 247 327 243 327 240 325 237 323 235 317 234 315 234 312 235ZM312 396 308 397 306 401 305 413 306 416 308 418 311 420 321 420 324 418 326 414 322 400 320 398 318 396ZM326 23 328 27 331 29 334 29 342 28 345 26 348 22 349 19 348 16 342 7 339 5 335 5 329 8 326 11 326 14ZM313 100 315 103 318 104 324 105 328 104 331 101 333 92 333 89 332 86 329 84 324 83 321 83 319 84 317 86 313 94 312 97ZM317 472 317 476 318 480 321 482 328 484 331 484 333 483 338 478 340 474 339 472 338 469 335 466 332 466 322 468 319 469ZM314 225 316 228 318 230 322 231 325 230 328 228 330 223 330 220 330 218 327 215 323 213 320 213 318 213 315 215 313 218 313 221ZM327 277 332 278 338 275 340 272 341 268 339 264 331 256 328 255 325 254 323 255 316 259 314 262 313 265 314 267 315 270ZM333 390 330 391 328 392 326 394 325 397 326 400 331 413 333 415 337 416 347 412 350 410 351 407 350 397 349 394 345 391ZM325 186 323 189 322 191 323 205 324 208 332 213 335 214 344 211 346 210 348 206 348 199 340 186 335 183 332 183 329 183ZM321 64 318 66 317 70 317 73 320 77 322 78 332 80 335 79 337 78 339 74 339 67 338 64 337 62 334 61 331 60ZM337 421 334 424 332 428 333 434 336 439 339 441 351 442 354 442 356 441 358 438 363 427 363 423 361 420 355 416 352 416ZM336 497 339 501 343 502 347 501 351 498 352 495 353 492 351 485 348 482 345 481 342 481 336 486 334 490ZM334 122 335 125 338 127 341 128 345 127 353 120 354 116 353 113 351 110 348 109 340 109 337 110 335 112 334 115ZM326 337 329 340 333 341 335 341 344 335 345 332 346 330 344 324 343 321 340 320 336 319 326 325 324 327 323 330ZM338 241 334 241 332 244 331 247 331 250 333 252 338 257 341 258 344 257 347 255 350 251 351 248 350 245 349 243 346 241ZM335 221 332 230 333 233 335 235 338 237 346 236 349 234 350 231 349 221 348 218 345 216 341 216 337 219ZM330 290 330 293 331 296 338 302 342 304 345 303 348 301 352 291 351 288 347 281 345 279 342 278 339 279 333 282 331 285ZM335 53 337 56 342 58 351 55 354 52 355 49 354 45 346 35 344 33 341 32 336 33 334 35 332 37 332 41ZM332 511 330 514 329 518 331 520 336 526 339 527 342 527 347 524 349 522 350 518 350 516 347 510 345 507 342 506 338 506 336 507ZM336 96 337 101 339 104 342 105 350 105 353 104 355 102 357 96 357 93 356 91 354 88 346 86 344 85 340 87 339 89ZM334 169 333 173 334 177 337 180 341 181 344 179 356 171 358 168 358 165 357 162 355 160 349 157 346 157 342 159ZM342 357 345 360 350 362 353 362 356 361 361 356 363 353 363 345 361 342 358 340 350 337 347 338 340 342 338 345 338 348ZM329 380 330 384 334 386 346 387 349 386 351 384 353 381 351 369 349 367 345 365 343 365 340 365 330 372 328 375ZM337 458 338 462 341 466 344 467 348 466 351 463 354 455 354 453 354 450 352 447 349 446 344 446 342 446 338 450ZM343 -3 343 0 344 3 353 14 356 15 362 15 365 13 367 12 368 8 366 -3 365 -5 363 -7 360 -8 348 -9 345 -6ZM357 142 354 143 352 144 351 147 351 150 352 153 354 154 357 156 360 156 363 155 365 153 366 150 367 148 365 145 363 143 361 142ZM356 314 353 314 351 315 348 318 348 322 350 330 352 333 354 334 361 337 364 336 367 335 373 328 374 325 373 322 371 318 369 316ZM349 259 348 262 349 265 351 268 354 269 356 269 364 267 366 266 367 263 367 253 365 250 362 249 358 249 356 250ZM356 489 358 492 361 494 363 494 366 493 368 491 372 485 373 483 372 479 369 477 367 476 361 476 358 477 356 479 354 482ZM350 25 349 29 350 33 357 43 360 45 364 45 367 44 375 34 376 32 376 28 373 22 371 20 368 18 365 18 356 20 353 21ZM353 501 351 504 351 508 356 519 359 521 362 522 365 522 367 520 370 517 372 510 371 507 367 502 364 499 360 499 356 499ZM362 388 357 390 355 393 354 396 355 409 357 412 363 416 366 417 368 417 371 416 373 413 380 399 380 395 379 392 376 390ZM343 75 344 79 347 81 355 84 358 84 361 83 363 81 363 78 365 64 363 60 360 58 357 57 346 61 344 63 343 66ZM348 191 351 194 354 194 367 191 369 188 371 182 371 179 370 177 369 175 365 173 362 173 359 173 349 181 348 183 347 187ZM357 198 354 200 352 203 353 207 355 210 358 212 368 214 371 213 374 211 375 209 376 203 375 200 372 197 370 196 367 195ZM359 110 362 112 365 113 381 111 384 108 387 103 387 101 387 98 385 96 382 94 369 91 365 91 362 95 359 104 358 107ZM355 235 357 239 360 241 364 242 367 240 369 238 374 226 374 223 372 220 369 218 362 217 359 217 356 219 354 223ZM364 311 368 311 371 309 373 303 373 300 372 297 368 294 365 293 358 293 356 294 354 296 352 302 352 305 354 307 356 309ZM355 462 355 466 356 468 357 470 360 472 373 472 376 469 377 466 377 463 375 459 365 454 362 454 359 455 358 458ZM352 282 356 287 359 288 363 289 366 288 369 285 370 281 370 278 369 275 367 273 364 272 355 274 353 276 352 279ZM371 2 372 6 374 8 377 8 380 8 391 1 393 -2 392 -6 390 -8 386 -11 383 -11 375 -9 372 -7 371 -5 371 -2ZM368 128 370 131 373 132 376 132 381 130 383 128 384 125 383 119 382 117 379 116 376 116 370 117 368 119 366 122 366 125ZM372 493 371 496 371 500 373 503 376 505 379 505 388 503 390 502 392 499 392 496 391 493 386 487 383 486 380 486 378 486ZM358 364 356 367 356 370 357 379 359 383 362 384 374 385 377 385 379 383 381 380 383 372 381 366 379 363 370 359 367 359 364 360ZM362 440 361 444 363 448 365 449 373 453 376 452 379 451 382 446 383 443 383 439 377 430 375 428 373 427 369 428 366 430ZM365 159 364 163 366 168 368 169 376 173 379 173 382 171 386 163 385 159 384 157 375 153 373 153 370 154ZM377 136 374 139 373 142 373 145 375 147 377 149 384 152 387 151 389 150 391 148 392 145 391 139 390 136 387 134 384 133ZM372 264 373 268 376 270 381 270 385 268 388 264 388 260 388 258 384 251 381 250 378 249 375 250 373 251 371 255ZM367 350 368 353 370 355 377 358 381 358 384 357 391 350 393 347 392 344 390 340 382 334 379 332 376 332 373 334 367 340 367 344ZM374 294 377 296 380 296 388 294 391 291 392 289 392 285 387 278 385 277 382 276 379 276 377 277 375 279 372 289 372 291ZM375 311 375 315 377 318 381 320 385 320 393 316 395 313 396 310 395 302 393 300 390 298 387 298 381 301 378 304ZM369 48 368 50 368 53 369 55 371 57 382 61 386 61 388 59 390 57 395 44 395 40 394 37 391 35 384 34 382 34 378 36ZM367 80 368 84 371 86 381 90 384 90 387 89 389 87 393 80 393 76 389 69 387 66 377 64 374 64 371 65 369 68ZM375 183 374 190 375 193 377 196 381 197 383 197 389 195 391 192 392 190 392 187 390 184 386 180 382 179 379 179 377 181ZM379 211 379 216 381 218 384 220 389 220 392 220 394 218 396 215 397 212 396 209 393 203 391 201 387 200 384 201 381 203ZM391 471 388 473 386 475 386 479 387 482 396 493 400 493 404 492 406 489 410 482 410 479 409 476 403 471 401 469 398 469ZM384 384 384 388 386 392 389 393 396 395 398 394 407 387 409 384 409 382 407 377 404 375 392 374 388 375 386 377ZM388 110 387 114 389 125 390 127 393 129 396 130 410 127 412 125 414 123 415 120 414 117 412 112 409 110 395 106 391 107ZM374 235 374 239 376 243 378 245 383 245 386 244 393 238 395 235 395 232 393 228 391 226 389 224 383 224 380 225 378 227ZM400 555 403 559 407 560 419 560 422 558 424 555 425 547 425 545 418 524 417 521 415 520 403 518 400 519 398 522 394 530 394 533ZM381 463 384 466 388 467 396 465 399 464 401 462 404 453 404 450 403 447 401 445 398 445 391 444 388 446 381 456 380 459ZM390 275 394 281 398 282 401 281 404 279 408 270 407 267 405 264 402 263 400 263 395 263 392 266 389 269 389 273ZM380 509 377 511 375 513 375 517 376 520 378 522 385 526 388 526 391 525 393 522 395 516 396 513 395 510 393 508 389 507ZM379 409 379 413 380 416 382 419 385 419 396 417 398 415 400 411 399 408 396 401 393 399 390 398 387 398 384 400ZM388 169 387 172 388 176 394 182 396 184 399 184 409 182 411 180 413 177 413 174 412 172 405 162 402 159 397 159 393 160 391 162ZM397 190 394 196 395 199 399 206 402 208 406 209 414 207 417 205 418 203 418 199 416 190 414 188 412 186 408 186 399 188ZM377 21 381 28 384 29 390 30 393 29 402 18 403 14 402 11 398 7 394 6 391 7 380 13 378 16 377 19ZM390 322 387 324 386 327 386 330 387 333 398 340 402 340 405 339 410 331 410 328 409 325 399 319 396 319ZM396 351 387 360 386 363 387 366 388 368 392 370 399 370 403 369 405 367 408 358 407 355 405 351 403 350 400 349ZM390 97 392 99 394 101 407 105 411 105 414 103 419 95 420 92 420 89 417 86 407 79 404 78 401 78 397 81 391 91 390 94ZM389 423 385 425 383 428 383 432 386 437 388 439 390 440 396 440 399 439 401 437 402 434 402 431 399 426 397 424 395 423ZM389 252 393 257 396 259 399 259 402 257 404 255 405 252 405 248 403 244 401 242 397 242 395 242 392 245 390 247 389 250ZM399 29 398 34 399 38 402 40 408 42 412 41 420 35 421 32 422 29 418 19 416 17 412 16 410 17 407 18ZM409 413 406 413 404 415 402 418 402 421 406 429 409 431 412 431 415 430 416 428 420 423 420 419 418 416 416 414ZM398 220 397 223 397 227 401 234 405 236 410 237 417 234 420 233 422 231 422 228 421 217 420 214 418 212 414 211 403 214 401 216ZM409 295 404 296 400 299 400 302 400 313 403 316 411 321 413 322 416 322 419 321 420 318 424 310 424 306 419 299ZM403 405 405 408 408 409 415 409 418 408 420 405 422 399 422 396 421 394 418 390 416 389 413 389 410 390 403 395 402 397 401 401ZM396 147 397 150 400 153 403 154 407 152 412 146 414 144 414 140 412 135 409 133 407 132 401 133 398 134 396 136 396 139ZM393 66 397 71 399 73 404 72 406 70 413 60 413 58 413 54 409 48 407 46 404 46 402 46 399 47 398 49 392 63ZM402 -8 400 -5 399 -3 398 -0 400 3 408 11 411 12 415 10 417 7 419 -3 419 -6 418 -9 415 -11 412 -12ZM410 352 412 354 415 355 431 356 434 355 438 350 439 348 439 344 437 341 424 332 421 331 418 331 415 333 408 342 407 347ZM402 497 398 500 397 504 399 509 401 512 403 513 414 515 416 515 419 513 420 510 421 508 420 505 418 503 408 496 405 496ZM423 177 419 179 418 184 422 199 424 201 426 203 429 204 439 203 442 201 444 198 445 193 437 178 435 176 431 174 428 175ZM411 262 415 264 423 264 426 263 429 261 432 252 432 250 429 241 427 239 424 237 421 238 414 240 410 242 409 245 409 257 409 260ZM416 170 418 172 422 172 426 171 428 169 432 156 431 152 429 150 421 147 418 148 415 149 411 154 409 157 410 161ZM424 529 426 532 429 533 432 534 435 532 445 519 445 515 444 512 442 511 432 507 429 507 427 508 425 511 422 518ZM423 123 419 124 416 128 416 131 418 140 421 143 430 146 433 146 436 145 439 143 439 139 436 127 434 125 432 123ZM409 369 409 373 411 377 415 379 418 379 421 378 428 371 429 368 429 366 428 362 425 360 416 359 414 360 412 362ZM406 461 405 465 407 468 413 474 417 474 420 473 422 471 427 462 428 459 426 453 424 451 418 448 414 448 411 449 409 451ZM407 282 406 287 409 291 416 293 420 292 422 290 430 278 430 275 430 272 428 270 426 268 416 268 412 271ZM416 63 411 71 411 74 412 77 414 79 420 82 422 83 426 82 429 80 431 67 431 64 428 62 422 60 419 61ZM417 41 415 45 415 48 417 53 419 55 422 56 431 57 434 56 437 54 439 43 438 40 435 38 429 36 426 36ZM422 446 426 446 429 445 437 439 439 436 439 432 436 425 434 423 431 422 427 421 424 423 417 436 417 440 418 442 419 444ZM412 487 411 490 413 494 419 499 422 500 425 499 427 498 429 496 430 491 430 487 429 485 423 480 420 479 416 480 414 482ZM424 320 424 324 425 328 434 334 438 335 441 334 443 333 448 324 449 321 448 318 445 312 443 310 439 309 432 309 429 311 427 313ZM424 408 424 412 427 416 432 417 436 417 442 412 444 410 444 406 443 401 441 398 438 397 430 397 426 400ZM426 302 428 304 431 305 441 305 443 304 452 293 452 290 451 285 447 282 439 279 436 279 434 281 425 294 424 298ZM431 208 427 210 425 214 426 227 429 231 432 232 435 232 449 225 451 223 453 219 452 216 445 208 441 207ZM428 478 434 483 437 483 444 482 446 480 448 477 448 474 446 469 444 467 442 465 435 464 432 464 430 466 427 471 426 475ZM424 390 426 392 428 393 440 392 442 391 443 388 444 386 444 383 442 381 436 376 433 375 430 375 428 377 422 383 422 387ZM434 271 437 274 448 278 451 278 454 277 456 274 457 271 455 259 454 256 452 254 449 254 441 253 437 254 435 257 432 264 432 268ZM417 106 416 109 416 112 418 116 421 118 433 119 436 118 438 115 438 111 435 99 434 97 431 95 428 94 424 95ZM431 14 428 15 425 17 424 21 425 24 427 29 429 31 435 33 438 33 441 31 442 28 443 21 442 18 441 16 438 14ZM435 361 435 368 437 370 443 376 446 377 448 377 452 376 453 373 455 369 455 366 454 364 446 357 443 355 439 356 437 358ZM435 163 434 165 435 168 439 171 443 171 450 168 452 166 454 163 454 154 453 150 451 148 447 147 444 147 441 148 437 152ZM434 78 434 83 438 86 441 86 452 85 454 83 456 81 457 73 457 71 455 68 453 67 444 62 440 63 437 64 436 67ZM446 6 447 3 447 -1 446 -4 443 -6 429 -8 425 -6 423 -3 422 5 424 8 426 10 429 10 441 9 444 8ZM456 10 453 9 450 10 448 12 447 15 447 29 449 32 452 33 456 33 459 32 466 24 468 21 468 18 466 15ZM446 118 442 120 440 124 444 139 445 141 448 143 451 144 454 144 457 142 458 140 465 128 465 123 462 120 456 117 453 116ZM442 440 431 449 431 452 432 456 435 459 442 461 445 460 448 459 453 450 454 447 453 444 452 441 449 440 445 439ZM443 431 445 433 447 435 450 435 453 433 460 424 460 420 458 417 456 416 449 414 446 414 442 417 440 419 439 423ZM433 496 433 500 435 503 441 506 445 506 448 505 449 502 453 494 453 491 452 487 448 485 445 485 439 487 437 488 435 490ZM448 310 453 317 456 319 464 319 467 318 471 315 472 312 472 309 471 305 468 302 460 298 456 298 454 298 449 303 448 306ZM450 38 446 39 443 42 442 52 442 55 445 58 456 63 459 64 461 63 466 61 467 58 468 56 468 52 458 39 455 38ZM456 390 451 390 447 393 447 397 448 406 449 408 452 410 458 412 462 412 464 411 466 409 469 402 470 398 468 396 466 394ZM451 461 449 464 450 468 453 472 456 473 459 472 468 468 471 466 471 463 471 457 469 454 467 452 462 451 460 451 457 453ZM446 185 448 188 451 189 454 189 458 187 460 185 462 182 462 180 461 177 458 173 455 172 452 172 448 174 445 176 444 178 444 182ZM448 199 448 204 449 207 455 212 458 213 460 214 463 212 465 210 470 199 470 195 470 193 468 191 465 190 463 189 451 195 449 197ZM452 326 448 333 448 337 451 340 453 341 456 341 463 340 466 338 467 335 467 332 466 327 465 325 462 323 457 323 454 324ZM440 102 442 105 445 107 448 107 451 106 453 103 454 101 454 96 452 92 450 90 448 90 444 90 441 91 440 94 439 96ZM456 377 455 382 457 386 465 389 468 389 472 387 479 378 481 375 481 372 479 369 475 366 464 368 460 370ZM435 244 436 247 439 249 454 250 457 248 460 245 461 243 461 240 457 231 454 229 451 229 436 237 434 240ZM457 345 453 347 451 349 450 353 452 356 458 362 460 363 463 364 469 362 471 360 472 357 471 349 470 347 468 345 466 344ZM459 477 456 479 455 483 457 488 459 490 473 494 476 494 479 491 482 482 482 479 481 476 477 473 474 471 472 471ZM457 107 458 111 461 114 465 114 469 113 471 110 473 107 472 99 470 96 468 94 465 94 463 94 460 95 458 99ZM458 158 458 167 460 170 464 173 468 174 472 173 478 168 479 165 479 162 478 159 476 157 467 153 464 153 461 154 459 156ZM452 507 451 512 453 515 461 519 465 519 468 518 470 516 475 507 475 503 474 500 471 498 460 496 458 497 456 499ZM467 45 471 47 474 48 477 46 483 42 484 39 483 35 479 29 477 27 474 26 470 27 464 33 463 36 463 39ZM458 -12 454 -11 451 -8 450 -4 452 1 454 4 462 8 465 8 468 8 470 6 475 -1 476 -4 475 -7 473 -9 470 -11ZM457 279 455 284 457 290 459 293 468 297 471 297 474 296 481 286 482 284 481 280 479 278 475 275 473 275 462 276 460 277ZM458 443 460 446 467 448 470 449 473 448 479 443 481 440 481 437 480 432 478 430 471 426 467 425 465 426 462 428 457 436 456 440ZM460 266 462 269 466 271 470 271 474 269 475 266 477 254 476 251 474 248 471 247 466 246 464 248 460 251 459 255ZM469 219 466 218 463 220 461 223 461 227 466 240 470 242 475 243 477 242 479 239 484 231 484 226 483 224 481 222ZM469 412 468 416 469 420 476 424 478 425 481 425 484 423 488 418 489 415 489 411 487 409 477 405 475 405 472 407ZM471 332 474 336 478 338 486 336 489 334 491 332 491 328 485 318 482 316 478 315 476 316 473 318 471 320 470 323ZM461 79 462 83 464 85 471 88 475 88 479 86 481 84 484 76 484 73 482 70 480 69 473 64 469 64 464 67 462 69ZM476 514 475 518 476 521 484 529 487 530 490 530 492 529 494 527 496 524 497 513 496 510 494 508 487 505 483 505 480 507ZM473 178 471 181 471 184 474 190 476 191 479 192 486 193 489 193 491 190 492 186 491 176 490 173 488 171 485 170 481 170ZM464 139 463 143 465 147 467 149 475 152 478 152 481 151 485 146 485 142 483 135 480 133 475 131 471 130 468 132 466 134ZM471 17 473 19 475 21 479 21 481 20 491 13 492 9 491 5 488 2 486 0 482 -0 479 1 471 11 471 14ZM477 450 475 453 474 456 476 465 478 468 484 472 486 473 489 473 493 472 496 470 498 468 498 464 496 450 494 446 489 444 485 444 483 445ZM476 307 478 310 480 311 484 312 487 311 496 304 497 300 496 297 494 294 489 292 486 291 483 292 476 300 475 304ZM479 264 479 268 481 270 484 272 487 273 489 272 496 268 498 265 498 262 497 258 495 256 489 254 486 254 484 254 481 257ZM477 359 478 362 481 365 485 365 489 363 490 361 495 348 494 345 493 342 490 341 487 340 480 342 477 344 475 348ZM502 555 504 558 507 560 518 560 522 559 525 555 528 518 527 516 519 507 516 505 512 505 505 508 502 510 501 512 498 541ZM472 115 470 118 470 122 471 124 474 126 481 129 484 129 487 128 490 124 491 120 490 116 489 114 486 112 477 112 475 113ZM471 206 471 210 471 212 473 214 475 216 485 218 488 217 491 213 491 211 490 202 488 200 485 198 480 197 476 198 474 200ZM475 390 474 393 474 396 475 399 478 401 490 404 493 403 496 400 496 396 493 385 491 383 489 381 486 381 483 382ZM478 51 476 54 475 56 476 60 477 62 487 68 491 68 495 66 496 61 496 51 495 49 494 46 490 45 487 45ZM487 93 484 92 481 92 479 93 476 96 476 99 476 103 478 105 480 107 483 108 487 108 490 106 492 104 493 101 492 98 490 95ZM484 154 483 157 484 163 486 165 491 168 495 168 503 166 505 164 506 162 506 158 504 153 503 151 500 149 490 149 487 150ZM484 239 483 243 485 247 487 249 494 251 497 250 499 249 503 243 504 240 504 237 502 234 498 230 494 229 491 229 489 231ZM483 493 484 497 486 500 497 505 501 505 512 501 514 499 515 496 517 486 513 479 511 477 503 474 500 474 490 477 488 479 487 481ZM487 21 485 24 484 28 488 37 491 39 494 40 497 40 499 39 501 37 502 33 503 23 501 19 499 17 495 17 492 17ZM488 139 490 142 493 144 500 145 503 144 505 142 506 138 504 130 503 128 500 127 497 126 494 127 488 132 488 136ZM495 118 496 121 499 123 503 123 506 122 516 113 517 109 516 106 511 101 509 100 505 99 500 101 499 103 494 110 493 113ZM493 312 491 315 491 318 496 328 498 330 500 331 503 331 505 330 514 318 514 315 513 312 507 306 503 306 499 307ZM485 435 487 438 489 440 496 442 499 441 511 434 512 430 511 424 503 416 500 415 497 415 494 417 485 428 484 431ZM506 194 498 195 496 196 494 199 494 202 495 208 496 211 499 213 503 213 507 212 510 210 513 203 513 200 512 197 509 195ZM497 70 490 73 488 75 486 83 486 87 488 89 498 96 501 96 504 95 506 93 507 91 509 80 508 77 506 74 500 71ZM500 347 494 364 495 366 496 368 498 370 501 370 507 370 511 368 513 366 513 363 514 351 513 346 510 344 507 343 505 343 502 344ZM491 276 487 279 487 282 487 285 490 288 497 291 501 291 504 289 510 278 510 276 509 273 507 271 504 270 500 271ZM494 -11 491 -9 490 -7 490 -4 490 -2 493 2 495 3 497 4 501 3 508 -4 509 -6 508 -10 506 -12 502 -14 500 -14ZM496 184 497 187 501 189 504 190 508 188 510 185 512 178 511 175 509 172 507 170 504 170 498 172 496 176ZM512 48 510 46 506 45 503 46 501 48 500 52 500 59 501 61 504 64 507 65 510 64 513 62 515 58 516 56 516 53ZM501 257 504 265 506 267 510 268 512 268 516 266 523 258 524 256 524 252 522 245 520 242 517 241 513 241 510 241 508 243 501 254ZM506 293 505 297 507 301 513 306 517 307 521 306 527 301 528 298 529 291 528 289 527 287 521 283 517 282 514 282 512 284ZM514 141 510 142 508 146 507 150 510 154 512 156 515 157 523 155 525 153 527 151 528 148 527 146 526 143 522 141ZM504 443 501 445 500 449 502 466 504 468 506 470 508 471 511 471 515 468 523 456 524 453 524 450 521 442 519 440 517 438 512 438ZM516 -11 518 -7 523 -3 526 -2 530 -3 535 -7 536 -9 537 -12 536 -14 528 -30 525 -33 523 -34 520 -33 518 -32 516 -30 513 -20ZM507 4 505 7 505 10 507 14 510 15 513 15 519 14 522 13 524 9 524 6 523 3 520 -1 517 -2 514 -2 512 -1ZM499 392 502 395 506 397 510 396 514 392 515 388 513 379 512 377 510 375 507 374 501 374 499 376 497 378 496 382ZM519 160 516 162 513 165 513 169 515 172 517 173 520 174 526 174 529 172 531 170 532 167 531 164 530 161 528 159 525 159ZM505 217 502 219 500 222 500 225 502 228 508 235 511 236 517 237 521 235 523 233 523 230 523 225 521 222 512 216 509 215ZM507 402 504 406 505 410 510 416 514 418 516 418 519 416 528 409 530 405 530 402 528 399 520 396 516 397ZM516 64 515 68 516 71 518 74 522 75 528 75 531 73 533 70 534 63 533 60 532 58 528 56 525 56 520 58ZM510 331 509 335 510 338 515 343 518 344 532 342 535 340 537 337 537 334 535 331 521 323 518 323 515 324ZM506 28 507 32 509 34 511 35 514 36 517 35 520 32 522 30 522 27 522 24 520 21 518 20 514 19 511 20 508 22 507 25ZM565 523 565 520 564 517 556 511 553 510 550 511 536 517 534 518 532 522 529 552 530 556 531 558 534 559 536 560 551 560 555 558 557 555ZM527 511 531 513 534 513 549 507 551 505 552 502 552 498 550 495 540 486 538 485 534 485 523 487 520 491 519 500 520 503ZM514 186 514 190 515 193 518 195 522 195 525 193 527 191 529 186 529 184 528 181 526 179 524 178 520 178 518 179 516 181ZM520 268 518 272 520 277 530 284 533 285 539 283 542 281 543 278 545 268 545 265 542 262 531 259 526 260ZM516 430 518 433 520 435 523 436 526 436 543 429 545 425 545 420 543 417 536 413 534 412 531 413 518 422 516 426ZM518 480 520 482 523 483 534 481 537 480 538 477 543 468 543 465 542 462 539 460 532 457 530 457 526 458 525 460 517 473 517 476ZM525 373 521 374 518 377 518 381 519 388 520 390 522 392 527 394 530 394 533 392 538 387 539 384 539 382 536 377 534 375 532 374ZM519 215 522 216 526 216 528 214 531 210 532 207 532 205 531 202 528 200 525 199 521 199 519 200 517 202 515 207 515 210 517 213ZM511 124 509 127 509 130 510 134 513 136 515 137 523 137 526 136 528 134 529 128 529 125 526 120 524 118 521 117 518 118ZM535 15 532 15 529 16 526 19 526 22 528 30 531 32 535 33 538 33 541 30 542 28 543 23 542 21 541 18ZM532 236 528 237 526 241 526 245 529 253 532 255 544 258 546 258 550 257 552 254 554 243 554 240 551 237 549 235 546 234ZM513 84 511 95 513 98 520 104 524 105 527 104 538 97 541 94 541 92 540 88 535 81 533 80 529 79 518 79 515 81ZM534 145 536 148 539 149 551 148 554 147 556 145 557 142 558 134 557 130 555 128 551 127 538 128 535 129 533 132 531 137 532 141ZM519 50 522 52 524 52 528 52 531 50 532 48 533 43 533 40 531 37 528 35 525 35 520 37 518 39 517 42 516 44 517 47ZM531 107 529 109 528 113 529 116 533 122 537 124 546 123 548 123 550 121 552 117 551 107 550 104 548 102 545 100 541 100ZM524 308 522 311 522 314 522 316 524 319 534 325 538 325 542 323 544 317 543 314 541 312 532 306 528 306ZM533 199 536 201 540 201 543 199 546 195 547 191 547 189 543 183 541 182 538 182 536 183 534 185 531 194 532 197ZM536 50 535 53 537 56 539 58 542 59 553 58 557 55 558 52 558 49 554 41 552 40 545 37 542 38 539 40ZM528 220 527 224 528 228 531 231 534 232 544 230 547 229 549 226 550 220 550 218 548 215 543 211 540 210 535 212ZM535 396 534 399 534 401 535 406 537 408 545 414 548 414 552 413 556 410 557 407 557 404 552 391 550 389 546 388 542 388ZM518 361 519 366 522 368 531 369 534 369 537 366 541 357 541 354 540 350 538 348 535 346 522 348 520 350 518 353ZM550 339 546 341 544 345 545 351 548 355 560 359 563 360 565 359 572 355 574 353 576 348 576 346 574 341 571 339 568 338ZM536 72 536 76 539 81 542 83 545 83 548 82 556 76 558 73 558 70 557 66 554 63 551 62 543 63 541 64 539 65ZM537 288 534 291 532 296 533 300 535 303 544 308 547 309 550 309 557 305 558 302 558 300 556 295 545 287 541 286ZM527 448 528 451 531 453 545 458 548 458 551 457 553 455 556 450 556 447 555 444 549 436 547 435 543 434 531 438 529 440 527 443ZM534 -1 532 1 531 4 532 7 534 10 543 14 546 14 550 11 551 9 551 6 550 -1 548 -4 545 -5 542 -6ZM559 468 554 466 550 467 548 469 543 477 543 481 544 484 551 489 554 490 557 489 564 483 565 481 566 478 565 475ZM542 153 538 154 536 157 535 159 536 168 536 170 538 173 540 174 543 174 546 174 556 166 558 163 558 159 557 155 554 153ZM548 316 545 329 546 331 548 333 550 335 561 334 565 333 567 330 568 327 565 316 564 313 561 311 558 310 556 311 551 313ZM547 201 546 205 546 208 550 212 553 214 557 214 564 211 566 209 568 206 568 203 565 196 563 194 561 193 555 193 553 194 551 195ZM546 27 547 31 549 34 553 35 556 34 565 26 566 23 566 19 564 17 562 15 557 14 553 14 548 19ZM549 87 546 91 547 95 549 98 552 100 555 101 567 99 573 92 574 89 574 85 572 83 563 78 558 79ZM547 278 547 282 549 285 558 291 562 292 565 291 568 289 572 278 572 275 571 272 569 270 559 266 555 265 553 266 550 268ZM542 379 545 382 550 383 553 383 557 380 559 376 560 369 560 366 558 363 556 362 549 360 546 360 543 362 540 369 539 372 540 374ZM550 186 552 188 555 189 562 188 564 186 566 183 567 181 566 178 563 174 561 172 558 172 555 172 551 175 549 178 548 182ZM556 120 558 124 562 127 566 126 570 124 572 122 574 119 573 116 569 107 567 105 565 104 561 104 559 105 557 107 555 111ZM553 228 553 232 556 236 559 238 561 239 573 237 576 236 579 233 580 229 581 226 576 215 574 213 570 213 557 218 555 221ZM549 427 550 432 558 441 560 443 564 443 571 441 573 439 574 437 576 428 576 425 569 414 566 412 563 412 561 413 552 418 550 421ZM561 143 563 147 567 150 582 151 585 150 588 147 589 144 587 131 587 128 584 125 579 124 565 131 562 134ZM558 493 556 498 556 505 558 508 564 512 567 512 570 511 578 503 578 499 576 491 574 489 572 487 569 486 566 487ZM565 383 562 383 559 385 557 388 556 391 561 403 564 405 567 406 571 404 578 397 579 395 579 392 579 389 576 387ZM576 305 573 305 571 307 569 309 568 313 572 326 575 329 579 329 582 328 592 320 594 318 594 314 593 310 590 307ZM567 55 563 57 561 60 561 63 563 72 565 74 574 80 578 80 581 79 586 74 587 71 587 68 582 57 580 55 577 54ZM554 -2 556 8 559 10 572 15 575 14 577 12 580 6 580 4 578 -4 576 -7 566 -11 563 -12 559 -10 556 -8 554 -5ZM562 163 563 167 568 174 572 177 575 177 584 176 587 174 588 171 588 160 587 157 584 155 570 154 567 155 563 158ZM571 291 571 296 574 300 576 301 589 302 592 301 594 299 599 288 599 283 597 280 588 273 584 271 582 272 579 273 578 275ZM561 36 559 39 559 42 561 47 563 49 565 50 568 51 572 50 575 48 577 45 577 43 576 35 574 32 571 30 567 31 565 32ZM568 188 568 192 572 202 575 205 578 206 582 205 592 197 594 195 595 188 595 185 592 182 590 180 587 179 573 182 570 184ZM576 419 580 421 583 421 593 418 596 416 597 414 598 408 595 399 593 397 589 395 585 396 574 407 573 409 573 413ZM558 455 557 458 558 461 571 475 573 476 577 475 582 472 585 470 585 465 581 450 580 447 578 445 573 445 563 448 560 450ZM556 254 556 258 558 261 576 268 579 268 582 266 584 264 585 260 585 256 579 244 577 242 575 241 572 241 560 243 558 246ZM581 40 582 43 584 45 586 46 590 46 599 40 600 37 600 33 599 31 597 29 589 26 585 26 582 28 580 31ZM571 360 566 364 565 367 564 374 565 378 568 380 579 383 582 383 585 381 587 378 587 374 579 362 577 361 574 360ZM578 509 577 513 577 516 578 518 581 520 591 522 594 522 598 520 600 518 602 512 601 510 600 507 598 505 596 504 584 504 581 505ZM573 98 572 101 572 104 579 117 581 119 583 120 586 119 588 118 591 115 593 108 593 105 591 102 584 95 582 94 577 95ZM584 232 581 238 582 240 586 249 589 252 592 253 595 252 602 249 604 246 605 243 604 240 601 233 598 230 595 230 587 229ZM579 435 580 439 583 443 587 443 596 441 599 439 601 437 602 432 602 429 599 424 596 422 593 423 582 427 580 429ZM585 81 583 85 584 89 593 98 595 100 600 100 610 95 613 93 614 91 615 85 614 83 609 77 607 75 593 75 590 76ZM588 348 585 349 582 350 581 353 580 355 581 359 588 367 591 369 594 369 604 364 605 361 605 359 604 353 603 351 599 349ZM592 173 594 177 599 183 602 183 608 182 611 181 618 172 619 169 619 166 618 163 609 154 606 153 598 154 595 156 593 158ZM591 377 590 385 591 388 593 390 596 391 599 390 613 386 616 384 617 381 617 372 616 370 614 368 610 367 607 367 593 375ZM596 308 600 315 603 316 606 317 608 316 621 308 623 305 622 301 619 298 608 293 605 293 602 293 600 296 596 304ZM589 263 588 266 590 269 597 275 601 276 604 276 615 269 617 267 618 264 615 254 613 251 609 250 606 251 592 258 590 260ZM584 332 582 335 581 339 583 342 587 344 602 344 605 342 608 338 608 334 605 326 603 324 600 322 598 322 595 323ZM591 483 589 480 585 480 581 482 579 485 579 489 582 496 583 498 586 499 593 499 595 498 597 495 597 492 597 490ZM583 -3 585 -0 588 1 600 0 604 -1 605 -4 606 -8 603 -18 602 -20 597 -22 594 -22 592 -21 583 -10 582 -7ZM598 469 595 471 593 476 594 479 598 485 601 487 605 487 612 483 613 480 615 475 614 471 613 469 610 468 608 467ZM608 410 604 412 601 416 601 420 604 424 606 425 610 425 618 424 622 422 623 420 623 417 623 415 621 412 617 411ZM588 460 590 463 594 465 606 463 609 462 611 460 612 458 612 455 610 452 603 445 599 444 592 446 588 448 586 451 586 454ZM583 221 585 223 588 225 599 225 602 224 605 220 606 218 606 214 605 212 598 204 596 203 592 203 584 208 582 211 581 215ZM610 359 612 363 619 366 622 365 630 362 633 359 635 350 636 347 635 345 633 342 630 341 616 340 612 341 610 343 608 347ZM598 194 598 196 599 200 609 210 611 212 614 212 618 211 623 205 623 201 622 198 613 189 611 187 608 187 602 188 600 190ZM600 125 595 126 592 129 592 132 593 144 595 147 597 149 606 149 609 147 614 141 615 139 615 136 612 129 610 127 608 126ZM582 11 582 15 584 19 599 26 602 26 605 24 609 16 609 13 607 8 605 6 602 5 587 6 584 8ZM601 71 605 70 608 68 612 51 612 49 611 46 609 44 606 43 602 44 590 50 588 52 587 55 587 58 591 68 595 70ZM596 112 596 116 598 120 601 121 608 122 610 122 613 120 616 116 617 113 615 104 613 102 609 101 606 101 599 105 597 108ZM616 -3 612 -1 611 3 611 6 613 11 615 13 618 13 624 14 628 12 630 9 631 3 631 1 630 -2 627 -3 625 -4ZM606 225 605 228 605 231 609 241 612 243 615 244 618 243 626 237 627 233 626 230 618 220 615 219 612 220 610 221ZM602 498 602 502 604 505 606 507 609 508 616 507 619 506 622 502 623 498 622 495 618 491 616 489 613 488 610 489 604 493 603 495ZM625 53 623 52 619 53 617 54 615 57 611 71 613 75 617 78 621 78 634 73 637 71 638 69 638 65 637 61ZM607 36 609 39 613 42 617 43 620 42 631 31 632 29 632 25 631 21 629 19 626 18 617 17 614 19 612 20 607 30 606 32ZM611 512 608 513 605 515 604 519 605 522 616 534 619 536 623 535 625 533 627 531 628 524 627 520 620 512 617 511ZM612 448 615 449 618 450 621 448 623 446 625 435 624 432 621 429 618 428 611 429 608 431 606 433 605 438 605 441 607 443ZM616 128 619 134 622 136 630 136 632 135 635 133 636 131 637 126 636 123 634 121 632 120 625 118 621 118 618 120 616 124ZM610 277 608 279 606 283 607 286 609 289 621 294 625 293 627 291 629 287 629 278 628 275 626 273 623 272 620 272ZM606 392 603 394 601 398 602 402 604 405 607 406 616 406 620 405 622 403 624 399 624 396 623 393 621 391 616 389ZM629 99 626 99 623 100 621 103 620 107 621 110 623 113 629 115 632 115 635 114 637 112 638 109 638 106 636 102ZM615 146 614 150 615 154 623 163 627 165 630 165 633 163 640 152 642 149 641 146 640 144 637 141 634 140 621 140 618 142ZM629 417 631 419 634 421 640 420 644 418 650 407 651 405 651 401 647 396 645 394 642 394 632 395 629 398 627 400 625 408 626 411ZM626 475 623 475 621 476 619 479 618 483 619 486 624 491 627 492 629 492 633 491 634 489 636 484 636 481 635 479 633 477ZM617 467 619 469 621 470 636 472 638 472 641 471 643 469 645 462 645 459 643 457 641 455 628 451 625 451 619 454 617 457 616 463ZM623 263 626 267 631 269 638 266 641 264 642 260 642 245 640 241 638 239 635 238 631 239 620 248 619 252ZM621 382 622 386 625 390 627 391 631 392 641 390 643 389 646 386 646 381 645 377 636 368 634 367 631 366 625 369 623 371 622 374ZM611 331 612 334 615 336 631 337 634 336 636 333 637 326 630 314 627 313 624 312 612 318 610 320 609 325ZM627 547 628 555 630 558 632 559 634 560 644 560 647 559 649 558 651 554 654 525 653 521 652 519 649 518 646 518 636 522 633 523 632 526ZM631 498 628 500 625 505 624 509 626 512 629 516 633 518 636 517 643 514 645 512 646 509 646 507 645 504 636 498 634 497ZM618 179 616 183 617 187 624 194 627 196 630 196 633 194 640 183 640 181 639 178 634 172 630 170 627 170 625 171ZM638 300 633 302 632 304 632 307 632 310 638 319 641 321 644 321 653 317 655 315 656 312 654 303 653 301 650 299 648 298ZM626 81 623 83 622 87 623 90 625 93 638 97 642 96 646 92 647 89 646 86 640 78 637 77 635 77ZM623 211 622 215 623 219 630 228 633 229 636 230 639 228 646 218 646 214 644 211 634 204 631 204 628 205ZM628 40 626 43 626 45 627 49 629 51 641 58 645 58 649 54 650 51 650 47 649 44 647 42 636 36 632 37ZM634 9 634 11 636 14 638 16 641 17 653 14 656 11 657 8 656 5 652 -1 646 -5 643 -5 640 -4 637 -2ZM647 120 644 121 641 124 640 136 641 138 645 144 648 145 651 145 653 144 656 142 662 129 662 125 661 122 658 120 655 119ZM639 489 639 492 640 495 647 501 650 501 653 501 655 500 657 497 658 490 657 486 655 484 650 480 646 480 643 481 640 484ZM633 288 635 293 639 295 651 294 654 292 656 290 657 286 653 275 652 272 650 270 644 269 635 272 634 274 633 276ZM628 441 629 445 631 447 641 450 644 451 647 449 649 447 652 440 652 437 650 434 644 426 641 424 635 425 632 426 630 429ZM640 335 640 338 641 341 643 343 646 343 661 345 665 343 667 340 667 337 663 325 661 323 658 321 655 321 643 326 641 329ZM643 177 647 179 655 180 662 176 663 173 666 167 664 158 662 156 655 151 650 150 646 152 637 164 637 167 637 169ZM638 194 637 197 638 201 646 208 648 209 651 209 654 208 656 206 657 203 657 201 655 189 652 186 648 184 644 185 642 187ZM642 104 643 112 644 114 646 116 650 116 656 115 658 114 661 111 661 108 660 105 655 98 653 97 650 96 647 97 643 101ZM637 358 637 361 638 364 646 373 649 374 653 374 663 369 665 367 666 364 664 354 663 351 660 350 646 348 643 348 639 351ZM644 229 642 232 643 236 645 238 648 240 663 240 666 238 668 235 668 231 667 228 658 220 655 219 652 219 649 221ZM643 21 639 22 637 25 637 29 638 32 647 38 650 38 653 37 656 34 657 31 656 25 655 23 653 21 651 20ZM642 69 642 72 643 75 649 83 652 84 655 84 657 84 663 80 665 76 665 67 664 64 662 61 655 59 651 59 645 62 644 64ZM649 388 650 392 655 400 659 402 664 402 678 395 680 393 681 390 683 381 681 379 679 377 671 372 667 371 652 379 650 382ZM672 14 669 12 666 12 662 13 660 16 660 19 661 28 663 31 665 32 670 33 673 33 675 31 678 28 678 25 678 22ZM655 505 653 509 653 513 656 517 659 519 666 519 668 518 671 516 674 512 675 509 674 506 672 504 670 503 663 501 661 501 658 502ZM647 468 647 471 649 474 657 480 659 481 663 481 668 478 670 476 671 474 671 468 669 464 667 463 657 460 653 460 650 462 649 464ZM648 424 655 433 658 434 665 433 669 431 671 428 671 424 666 411 664 409 662 407 658 407 655 409 648 419 648 422ZM655 41 654 45 654 50 655 53 658 55 664 58 668 58 675 55 677 51 678 49 677 46 675 40 672 38 664 36 661 36 658 38ZM646 250 647 263 648 265 651 267 653 267 657 266 664 261 666 260 667 256 668 250 667 247 664 245 661 244 652 244 649 245 647 247ZM671 293 662 292 659 294 658 297 657 300 660 312 663 314 667 315 671 313 673 311 676 299 676 297 673 294ZM661 86 658 89 658 93 659 96 666 106 669 108 671 108 678 105 680 102 680 99 677 88 676 86 671 83 668 82 665 83ZM656 441 653 450 653 453 656 455 658 456 669 459 673 457 675 453 674 442 673 439 670 437 667 437 658 439ZM671 184 668 183 664 183 661 184 659 187 659 190 660 197 662 199 665 201 668 201 674 200 677 198 678 196 678 193 677 190ZM701 -9 703 -6 705 -4 707 -3 711 -4 713 -5 726 -19 727 -22 728 -41 727 -45 724 -47 721 -48 701 -48 698 -47 696 -44 695 -40ZM670 346 669 349 668 352 671 364 672 367 685 375 688 375 694 372 695 369 700 357 700 354 698 351 696 349 680 343 674 344ZM660 142 660 145 661 149 664 151 668 152 679 146 681 143 681 140 681 137 679 135 674 131 670 130 667 131 665 133ZM662 491 662 494 665 497 675 500 678 500 681 498 682 496 683 492 683 489 681 486 675 482 672 481 669 482 664 485 662 488ZM660 283 662 287 665 288 671 289 675 287 678 284 679 274 679 271 678 268 673 265 670 264 667 265 660 269 658 271 658 274ZM669 330 671 333 673 334 676 335 679 334 682 331 684 327 684 324 683 322 681 320 676 317 673 317 671 318 669 320 668 323ZM674 421 677 424 680 425 682 425 685 423 693 415 693 412 692 409 683 400 680 399 678 400 672 403 670 405 670 410ZM670 74 671 77 673 79 676 81 680 80 688 74 689 71 689 68 688 65 681 59 679 59 676 59 672 61 670 63 669 66ZM665 206 662 207 660 209 659 212 659 215 661 218 667 222 669 223 673 222 681 216 682 212 681 209 679 206 676 205ZM660 4 663 7 668 8 671 6 675 2 677 -0 677 -3 675 -10 672 -12 669 -13 665 -13 659 -6 658 -4 658 -1ZM685 500 685 504 687 507 692 510 696 510 704 505 705 503 706 493 706 490 704 487 700 486 697 486 691 489 688 492ZM673 112 671 114 669 117 670 121 671 123 683 132 687 132 691 130 693 126 693 123 687 111 685 109 681 109ZM679 243 675 245 672 248 672 256 673 260 680 264 683 265 685 265 694 262 696 259 699 252 699 249 697 247 693 244ZM675 -27 675 -23 681 -4 684 -2 686 -2 692 -2 694 -3 696 -6 697 -9 691 -38 689 -42 687 -43 684 -44 681 -43 679 -41 678 -39ZM680 170 677 171 675 172 673 175 673 178 674 182 678 185 681 187 684 187 687 185 689 183 690 181 690 178 689 174 687 172 685 171ZM678 5 676 9 676 12 677 15 682 21 686 22 694 22 697 21 699 19 700 16 701 8 700 5 698 3 694 2 683 3 680 3ZM672 233 674 237 677 239 691 240 694 240 696 238 698 236 698 233 697 230 692 221 689 219 687 218 683 219 674 227 673 229ZM679 308 679 312 681 315 686 317 690 317 692 315 694 313 696 305 696 302 694 299 692 297 687 296 685 297 681 300ZM683 463 679 463 676 467 675 473 676 477 684 484 687 485 690 485 696 482 699 480 700 476 696 466 693 464ZM676 517 675 520 675 524 677 528 681 530 684 530 687 529 691 524 692 522 693 518 691 516 686 512 683 511 681 512ZM689 441 684 440 680 443 679 446 679 454 681 457 684 458 692 459 695 459 698 457 700 454 701 451 700 449 698 445ZM675 153 672 155 671 159 672 162 675 165 677 166 686 167 690 165 692 162 693 159 692 156 691 153 686 150 681 149ZM679 40 681 43 685 45 688 44 695 41 697 39 698 37 698 32 697 29 695 27 693 26 687 26 683 27 682 29 679 35 678 37ZM682 199 682 203 685 208 688 210 692 210 695 209 705 200 707 197 707 194 706 192 704 189 696 187 693 187 684 192 683 194ZM682 284 682 288 684 291 687 292 693 293 696 292 698 290 702 285 702 281 696 270 693 268 690 268 686 269 684 272ZM685 391 685 394 687 397 696 406 700 408 703 407 705 405 714 394 715 390 714 387 712 385 699 377 695 377 691 378 688 381ZM684 95 686 99 690 100 693 100 698 97 700 94 702 83 701 80 700 78 697 76 693 76 683 83 682 85 682 88ZM689 136 687 139 687 144 689 147 692 150 695 150 698 150 701 149 707 141 709 138 708 135 707 132 705 131 700 130 696 131ZM686 333 685 337 687 340 689 342 696 344 699 344 702 341 704 334 704 331 702 328 698 325 694 324 692 324 689 326ZM696 45 687 50 685 53 685 55 687 59 696 68 700 68 704 67 705 65 708 59 708 55 707 53 702 47 699 45ZM715 8 710 7 706 9 704 12 703 18 704 20 705 23 708 25 718 27 721 27 724 25 725 23 725 16 723 13ZM711 238 707 239 704 242 703 247 705 251 707 252 722 259 725 259 728 258 730 255 730 253 730 246 729 243 725 241ZM705 419 701 417 697 418 689 426 687 428 687 431 687 433 689 436 698 440 702 440 705 438 706 435 708 425 707 422ZM700 184 703 184 707 182 709 179 711 172 710 169 708 167 703 164 700 163 697 163 695 165 693 168 692 171 695 180 697 182ZM697 122 701 126 708 127 711 125 714 121 713 111 712 108 709 105 702 102 699 102 695 103 693 105 692 108 692 112ZM709 258 705 257 702 258 700 261 699 265 704 276 707 278 710 278 714 277 716 275 719 270 719 267 719 264 717 262ZM699 225 702 227 705 228 708 228 711 226 719 213 719 209 716 204 712 203 709 203 697 212 696 215 696 217ZM698 314 698 317 698 320 704 325 707 325 710 325 712 324 714 321 715 313 713 310 711 308 706 306 702 307 699 310ZM703 43 712 51 715 52 722 50 725 48 728 43 729 40 729 37 727 34 724 33 710 30 707 30 704 31 702 35 702 40ZM704 477 707 481 712 481 721 479 726 473 726 471 726 468 721 455 718 453 712 451 708 451 705 453 701 459 700 462 700 465ZM701 367 700 370 702 374 713 381 715 382 719 381 721 379 727 373 728 369 727 366 721 358 719 356 716 355 710 355 706 357 704 359ZM701 511 699 514 698 516 699 520 701 522 705 525 709 525 712 524 715 521 716 518 716 515 714 512 712 510 709 509 707 509ZM715 527 713 530 713 533 718 555 720 557 722 558 725 559 727 558 730 556 731 554 736 527 735 523 731 518 729 517 725 517 722 519ZM708 147 704 152 703 156 704 158 706 161 712 164 715 165 720 164 723 161 724 157 723 153 716 146 713 145 710 146ZM710 439 710 444 712 446 717 448 720 448 723 447 729 441 731 439 731 435 727 427 725 425 722 424 717 424 714 425 712 427ZM702 291 701 296 703 299 705 301 715 305 717 306 720 305 724 303 726 300 727 296 725 293 714 285 711 284 707 285ZM713 136 716 140 724 148 726 149 731 149 735 146 737 144 738 141 738 139 735 131 734 128 730 127 720 126 717 127 714 131ZM710 66 709 71 711 74 724 79 726 80 730 78 731 76 734 71 734 68 733 66 728 57 724 55 720 55 715 57 713 59ZM706 343 706 347 709 350 712 351 718 351 721 350 727 342 729 339 729 336 728 334 725 332 718 329 714 329 711 330 709 332ZM711 191 714 194 719 195 731 188 733 186 734 184 735 178 733 174 727 169 725 168 722 168 718 169 716 172 711 186 710 188ZM709 418 713 420 721 420 724 419 726 417 728 414 728 411 726 403 723 400 719 398 715 399 708 408 707 410 707 413 708 416ZM704 92 704 96 706 99 711 102 715 102 718 101 727 95 728 93 729 90 728 87 725 84 715 81 712 80 710 81 707 83ZM711 491 710 502 712 505 721 512 724 513 727 512 730 510 733 502 732 498 724 487 722 485 719 485 714 485 712 488ZM718 319 719 322 721 325 726 328 729 328 733 326 736 322 737 320 738 317 736 313 731 308 728 307 726 307 722 309 720 311ZM720 276 719 279 720 282 721 285 726 288 729 289 731 289 734 288 736 286 737 283 736 272 735 269 733 267 730 266 726 267 724 269ZM730 22 731 26 732 28 735 29 739 29 749 24 751 21 751 17 750 15 745 9 743 8 739 8 733 12 731 13 730 17ZM732 372 725 382 725 385 727 389 730 391 738 391 742 390 744 388 747 382 748 379 746 375 743 372 740 371 736 371ZM728 477 726 481 727 485 734 494 737 496 740 496 753 493 755 491 757 488 758 486 757 482 749 472 746 471 743 470 732 472 730 474ZM727 349 725 353 725 356 731 364 733 365 736 366 738 365 740 364 742 362 745 353 744 350 743 347 737 344 734 344 730 345ZM726 237 729 236 732 235 733 233 734 229 732 220 729 217 725 216 723 217 720 219 716 226 715 229 716 232 718 234 720 236ZM742 449 739 445 734 444 731 445 726 450 725 453 725 456 729 464 732 467 735 468 740 467 742 466 744 463 745 459ZM737 518 740 520 742 521 755 519 758 518 760 515 761 512 759 502 757 500 754 498 752 497 740 500 738 502 736 504 734 512 735 515ZM733 88 735 91 738 92 750 90 753 89 754 87 756 82 756 78 752 73 749 71 747 71 740 72 738 74 733 82 732 84ZM718 116 719 120 723 122 732 123 736 121 738 118 739 114 734 103 731 100 728 100 720 105 717 109ZM728 159 728 162 729 165 735 170 738 171 741 171 749 168 751 166 752 163 752 161 750 151 748 148 744 147 740 147 731 153 729 155ZM723 208 725 211 731 213 735 214 746 208 747 205 747 201 745 198 738 193 735 192 733 192 724 197 722 199 721 203ZM731 -21 732 -17 739 -7 741 -6 745 -5 747 -5 752 -9 754 -11 755 -15 749 -43 748 -45 745 -47 742 -48 738 -48 735 -47 733 -45 732 -41ZM724 8 727 9 730 8 736 5 737 2 738 -1 737 -4 733 -9 730 -11 726 -11 724 -10 718 -4 717 -2 716 1 718 4 720 6ZM742 313 746 315 751 314 753 313 756 309 757 300 756 297 753 293 741 290 737 291 733 294 731 296 731 300 732 304ZM736 416 733 418 731 420 730 423 730 425 736 435 739 436 743 436 746 434 747 432 751 424 750 419 748 417 745 415ZM734 255 736 260 740 262 749 261 752 260 754 257 755 253 752 243 750 241 748 239 746 238 741 238 737 240 735 244ZM742 48 738 48 735 49 733 52 732 56 733 59 738 65 741 67 745 67 748 66 750 63 752 58 752 56 749 51ZM735 330 734 334 736 339 743 343 747 343 750 341 751 339 758 328 758 324 756 321 753 319 746 319 742 321ZM756 442 753 441 750 442 748 443 746 446 746 450 747 453 749 455 752 457 754 457 757 456 760 454 761 451 762 448 761 446 759 444ZM740 411 743 410 745 408 746 405 745 402 743 398 741 396 738 395 734 395 732 397 730 400 730 403 731 407 732 410 735 411 737 412ZM767 402 757 408 755 411 755 414 756 416 759 419 766 421 769 421 772 419 776 410 776 407 775 405 773 403 771 402ZM738 184 738 187 740 189 748 195 751 195 754 195 756 193 757 191 757 187 755 178 753 175 751 174 747 173 741 176 739 179ZM743 32 740 34 739 38 739 41 741 44 753 48 757 47 759 45 761 42 760 35 759 33 756 30 753 28 750 28ZM742 120 739 125 739 128 742 139 744 142 747 143 751 144 754 143 758 141 760 137 761 127 760 123 758 121 755 119 745 119ZM738 228 739 231 742 234 750 234 753 233 757 229 758 227 758 223 752 215 749 213 745 213 740 216 738 219 737 222ZM757 353 753 352 750 354 748 357 745 365 746 368 747 370 752 374 755 375 758 375 761 374 763 372 763 369 763 358 761 355ZM748 399 752 403 756 403 758 402 770 396 772 393 772 390 769 382 767 381 764 380 757 380 753 381 751 383 747 392 747 395ZM741 280 742 284 745 286 750 288 754 286 756 284 760 274 759 271 758 268 755 266 753 265 746 266 744 267 742 269 741 271ZM742 110 743 113 746 115 757 115 759 114 761 112 762 109 762 107 761 104 755 96 753 95 749 95 743 96 740 99 739 103ZM766 234 763 233 760 233 757 235 755 239 755 241 758 249 760 251 763 253 766 253 772 251 774 248 775 246 775 242 774 240ZM755 462 753 464 752 467 752 469 754 472 762 482 765 482 769 481 775 474 777 471 777 467 772 458 770 456 766 455ZM763 319 765 321 771 322 776 322 791 315 793 311 792 306 790 303 777 296 774 296 765 299 763 300 761 302 760 312 760 316ZM750 -3 748 1 748 5 750 9 753 11 756 12 759 11 766 7 768 4 769 0 767 -3 765 -5 761 -7 756 -7ZM752 205 752 207 753 210 759 217 762 219 765 219 768 218 774 213 776 210 776 207 774 204 769 198 765 196 761 196 755 200 753 201ZM754 64 754 67 755 70 760 75 764 76 767 75 769 73 775 64 776 60 774 56 772 55 766 52 762 52 760 53 758 55ZM775 118 770 118 766 121 765 123 764 135 765 138 768 140 776 143 778 143 790 136 792 133 793 130 792 127 789 125ZM756 159 758 162 761 165 769 165 772 164 775 162 776 159 776 152 776 149 774 147 771 146 764 144 760 144 756 147 755 150ZM773 169 763 169 761 171 759 174 759 176 762 186 764 188 768 188 772 187 777 180 779 178 779 175 778 172 775 170ZM772 490 769 488 765 490 762 493 762 496 765 513 768 515 774 516 778 515 785 508 786 506 787 503 786 500 784 498ZM763 441 768 442 771 440 773 436 773 432 771 428 769 426 761 424 757 424 755 426 753 428 753 431 753 434 755 437ZM767 363 768 367 770 369 774 370 777 370 785 362 787 359 786 355 785 353 781 351 778 350 775 351 770 354 768 356 767 358ZM756 340 755 343 756 347 758 349 764 351 767 351 772 348 774 346 775 343 773 332 771 329 768 328 764 328 762 330ZM760 284 760 288 761 291 764 293 768 294 771 293 774 290 775 288 775 281 774 279 772 277 770 276 767 276 765 277 763 278ZM760 84 757 90 758 94 763 100 765 101 768 102 771 101 777 95 777 91 776 88 768 81 765 81 762 82ZM760 15 757 18 756 22 758 26 762 29 765 30 767 29 775 26 777 23 778 20 777 15 776 12 773 11 771 10 768 10ZM766 257 762 260 761 264 762 268 765 271 778 273 785 270 787 267 788 263 787 260 779 254 775 254ZM773 219 768 223 767 226 768 229 770 232 774 235 777 236 781 235 784 233 785 230 785 226 784 224 781 220 779 219 776 218ZM765 43 766 46 768 48 773 50 777 50 779 49 788 41 790 37 789 34 787 31 784 29 781 28 778 29 767 34 765 37ZM773 -8 772 -4 773 0 776 3 780 4 812 -8 814 -10 815 -12 816 -15 816 -42 814 -46 812 -47 809 -48 805 -48 802 -46ZM774 104 773 107 773 110 775 113 777 115 805 127 812 127 814 125 815 123 816 120 816 96 815 93 812 90 808 90 784 93 782 95ZM777 201 779 203 784 203 811 193 814 192 815 189 815 187 815 184 813 181 810 180 790 177 786 178 783 179 774 191 773 196ZM774 72 773 76 774 80 780 87 783 88 786 89 797 87 800 85 802 83 802 79 800 75 784 67 781 67 778 68Z"/>
<path fill="#f2f2f2" transform="translate(-0.6,-1.3)" d="M-9 -2 -6 1 -2 2 4 -1 7 -4 8 -7 7 -22 6 -25 3 -27 -1 -28 -5 -26 -12 -14 -12 -9ZM-37 16 -42 19 -43 23 -42 27 -38 30 -13 36 -8 34 -5 28 -5 24 -7 16 -9 13 -11 12 -15 12ZM-6 495 -5 498 -2 499 1 499 4 498 16 488 17 484 15 480 5 472 2 472 -1 473 -8 480 -9 483 -9 486ZM-18 159 -20 161 -21 164 -20 167 -19 170 -14 173 -11 173 -8 173 -6 171 -4 169 -3 166 -4 163 -5 161 -9 158 -12 157 -15 157ZM10 227 -0 221 -3 221 -6 222 -8 224 -9 226 -11 240 -10 244 -8 246 2 251 6 251 9 250 12 247 13 245 12 231ZM-11 61 -7 68 -5 69 -2 69 1 68 10 62 12 58 11 54 9 52 -1 46 -3 46 -7 47 -10 50 -12 58ZM-38 256 -41 259 -42 263 -40 268 -37 270 -4 274 0 272 4 267 4 260 3 256 1 254 -13 248 -17 248ZM-12 135 -8 136 -4 135 6 122 6 120 6 116 5 114 1 111 -2 110 -5 111 -19 119 -22 122 -22 125 -21 129ZM-25 452 -28 451 -42 451 -44 452 -46 454 -48 457 -48 471 -47 473 -45 476 -42 478 -16 480 -14 480 -11 478 -6 471 -5 467 -6 465 -9 462ZM-5 460 -1 461 3 459 4 457 9 447 9 444 7 441 -2 436 -5 436 -7 437 -15 443 -17 447 -17 451 -15 453ZM-39 376 -42 378 -43 381 -43 385 -41 388 -37 389 -15 393 -12 393 -9 392 -3 384 -2 381 -2 378 -4 376 -11 368 -15 367 -18 367ZM-18 300 -16 300 -13 298 -4 288 -3 283 -5 279 -9 277 -40 273 -44 274 -46 276 -48 279 -48 291 -47 294 -45 297 -42 298ZM8 414 4 413 0 415 -3 419 -3 423 -2 428 -0 431 7 436 10 436 14 435 18 430 20 428 20 425 19 423 18 420ZM-11 418 -9 418 -6 416 -4 413 -3 410 -4 406 -11 398 -40 393 -44 393 -47 396 -48 399 -48 409 -47 412 -45 414 -42 415ZM-18 81 -20 83 -21 86 -21 89 -19 92 -9 96 -5 96 -3 94 -1 91 -1 88 -4 81 -5 79 -8 77 -11 77ZM-3 330 -7 331 -9 333 -10 336 -10 339 -7 347 -5 349 -2 350 6 350 8 349 10 347 14 341 14 338 13 335 11 333 9 332ZM-9 189 -16 194 -17 197 -17 200 -16 202 -9 209 -5 210 -2 209 0 206 3 200 3 197 2 194 -3 190 -6 189ZM-8 299 -10 302 -9 305 -8 308 -5 310 -2 310 5 308 7 306 9 304 9 301 8 298 5 294 2 293 -0 293 -3 293ZM11 273 6 273 2 276 1 280 3 286 12 296 15 298 19 298 26 295 28 293 29 290 29 284 28 281 25 278ZM2 84 4 87 7 88 10 88 15 86 17 83 17 81 16 74 14 71 12 69 9 69 6 70 2 73 0 75 -0 78ZM-4 175 -5 180 -4 184 0 187 4 187 7 186 9 184 13 176 14 172 13 170 11 168 8 167 5 167 2 169ZM3 100 2 103 3 107 7 110 10 111 25 105 27 103 28 99 27 97 25 92 22 90 19 89 16 90 6 95 4 97ZM-8 358 -9 362 -8 365 2 376 5 377 8 377 11 376 13 375 14 372 15 364 14 362 10 355 6 354 -3 354 -6 356ZM-16 510 -19 514 -18 519 -17 521 -9 528 -5 528 -2 527 4 521 5 518 6 515 5 513 2 506 -2 504 -5 503 -8 504ZM-3 401 -0 403 4 404 7 403 12 398 13 395 13 393 12 388 10 386 8 384 5 384 2 385 0 386 -5 394 -5 398ZM7 507 11 515 14 516 21 518 24 518 26 517 28 515 30 510 31 506 23 496 20 494 16 494 9 500 7 502ZM12 -6 13 -3 15 -1 18 1 20 1 23 0 32 -5 34 -9 34 -12 28 -43 27 -46 24 -48 18 -48 15 -47 12 -45 11 -43ZM0 6 -2 8 -4 11 -1 21 1 22 4 24 9 23 12 22 18 13 18 10 17 6 13 3 10 2 7 2ZM2 313 -0 315 -2 318 -2 321 -1 324 1 326 4 327 9 327 12 326 14 323 15 320 13 315 11 313 8 312ZM-3 32 -4 36 -2 41 10 48 13 49 16 48 18 46 20 42 21 39 20 36 14 29 11 28 9 27 1 28 -1 30ZM3 211 2 215 4 218 11 223 15 223 23 219 25 217 26 214 26 205 25 202 22 200 11 199 8 200 7 202ZM17 159 17 164 19 169 21 170 27 173 31 173 37 170 39 168 41 166 41 162 38 154 36 151 32 150 29 149 26 151 18 157ZM25 380 21 381 19 382 17 384 16 388 17 391 19 394 21 396 25 396 28 396 30 394 31 392 32 390 31 386 30 383 28 382ZM16 356 18 359 21 360 28 358 31 356 32 354 32 351 32 348 30 346 27 345 21 344 18 344 15 347 14 350 14 353ZM11 149 15 151 20 150 24 146 25 142 24 137 23 134 14 128 10 127 8 128 6 129 3 133 2 136 4 140ZM28 19 25 18 22 19 19 22 18 25 19 29 22 32 24 34 27 35 33 33 35 30 36 28 36 25 34 22ZM7 460 6 465 7 468 19 477 21 477 24 477 29 474 31 471 32 468 31 459 30 456 27 454 18 451 15 451 11 454ZM20 302 16 304 15 308 16 311 19 318 22 320 24 320 31 320 34 318 36 316 38 311 38 307 37 305 32 300 29 299 26 299ZM8 262 9 266 12 269 29 275 32 276 35 275 37 273 38 270 38 266 31 254 30 251 27 250 19 249 15 250 9 256ZM128 549 127 546 112 521 110 518 106 518 99 519 96 522 84 550 83 554 85 558 89 560 122 560 125 559 128 556 128 554ZM40 555 42 558 44 559 49 560 53 558 56 554 58 518 57 515 52 508 48 506 45 506 36 510 34 512 30 521 30 525ZM21 76 22 80 26 82 29 82 33 80 36 77 36 75 36 72 33 67 31 65 28 64 25 64 23 66 20 70ZM13 185 12 188 13 191 14 193 16 195 24 196 27 195 29 192 30 189 29 182 27 179 25 177 21 177 18 178 16 180ZM15 400 11 405 11 408 12 410 14 413 19 416 21 417 25 416 27 414 29 412 29 407 28 404 27 402 24 401 19 399ZM17 239 18 242 21 245 28 246 31 246 42 237 44 234 43 230 42 227 39 226 30 222 26 222 19 226 17 228 16 232ZM18 113 15 116 14 118 14 121 16 124 22 128 25 129 28 129 34 124 36 122 37 119 36 114 35 111 33 109 28 108ZM43 452 39 453 36 456 36 468 36 471 38 473 41 474 45 475 48 473 50 471 54 459 53 455 50 453 47 452ZM21 49 20 54 23 58 25 59 31 60 34 60 41 55 43 52 44 44 44 41 41 38 38 36 28 39 25 41ZM18 437 16 439 16 442 17 445 20 447 29 450 32 449 34 447 35 443 34 435 33 432 31 431 28 430 24 430ZM18 328 17 331 18 335 19 338 22 339 32 341 35 339 38 335 38 332 37 328 35 326 33 324 30 324 23 325 20 326ZM33 -40 39 -8 41 -6 47 -2 51 -1 54 -1 56 -2 62 -8 63 -10 63 -14 54 -44 52 -46 49 -48 38 -48 35 -46 33 -43ZM26 480 23 483 23 488 24 490 33 502 36 504 39 504 46 502 49 500 50 498 53 489 53 485 49 481 47 480 35 477 32 477ZM32 416 32 420 35 423 38 424 44 423 46 422 53 415 54 412 54 409 49 403 47 401 44 400 39 401 36 402 34 405ZM25 363 22 365 20 368 20 372 23 375 25 376 31 377 34 376 38 373 39 370 39 367 38 365 36 363 32 361ZM27 2 25 4 24 7 24 11 26 13 28 14 33 17 36 16 39 15 40 12 43 6 43 3 41 -0 38 -2 35 -2ZM30 213 31 216 33 219 40 222 43 222 47 220 51 214 52 212 53 209 51 206 44 200 42 199 36 199 33 200 31 203ZM33 291 33 295 35 297 42 304 46 305 52 304 55 302 57 300 59 291 58 288 56 285 44 279 41 278 38 278 35 281ZM38 258 40 260 42 262 46 262 48 261 59 253 60 250 59 246 57 244 51 240 48 239 45 240 37 246 36 248 35 252ZM31 96 33 98 36 100 39 99 42 98 44 96 45 91 45 88 44 86 42 84 39 83 36 84 34 85 31 87 30 90 30 92ZM43 311 39 321 39 324 42 330 44 332 46 333 53 334 56 333 59 331 60 327 59 315 58 312 56 310 53 308 45 309ZM39 357 45 361 48 361 51 360 53 357 57 345 56 341 53 339 47 337 44 337 41 339 37 343 37 347 38 355ZM31 132 29 134 29 138 30 143 32 145 37 147 41 147 47 144 49 142 50 139 50 134 48 131 46 129 42 127 39 127 36 128ZM38 378 36 381 35 383 37 392 39 394 41 395 44 396 46 395 49 393 52 386 52 383 50 379 48 376 44 375 41 376ZM33 186 35 189 38 191 41 192 44 190 46 188 50 181 50 179 48 175 46 173 42 173 35 176 33 179ZM41 74 43 77 49 80 51 80 55 79 58 77 59 75 59 67 57 64 49 59 46 58 43 59 40 61 38 65 38 68ZM43 17 42 20 43 23 46 26 50 27 53 26 59 21 61 19 62 15 61 13 58 7 55 6 52 5 49 6 47 8ZM47 149 44 151 43 155 46 165 48 168 51 170 54 170 57 170 59 168 65 159 66 156 65 153 62 149 55 147 51 147ZM49 108 45 108 42 110 41 113 41 118 41 120 43 123 48 125 51 126 54 125 59 121 60 118 60 115 59 113 57 110ZM54 438 49 433 46 432 43 433 41 435 39 437 39 440 40 444 42 446 45 448 48 448 51 447 53 446 54 443 54 441ZM48 228 50 234 52 235 61 241 65 242 69 240 71 238 73 227 72 225 70 222 62 217 58 216 54 218 49 225ZM91 522 91 519 90 516 87 513 84 511 81 512 67 516 64 518 62 522 60 552 60 556 62 558 65 560 71 560 74 559 76 557ZM66 489 62 488 58 490 56 492 54 500 54 504 58 510 60 511 63 512 79 508 81 506 82 503 82 499 80 496ZM59 442 57 448 58 451 60 453 62 454 69 455 72 455 75 453 76 450 77 447 75 442 73 439 71 438 67 438 61 440ZM54 471 54 475 56 478 59 480 63 479 66 478 72 470 73 467 73 464 71 461 69 460 64 459 61 459 57 462ZM53 421 51 424 51 427 52 429 56 434 58 435 61 436 64 435 66 433 68 430 68 427 65 421 64 419 62 418 58 417 56 418ZM62 366 58 366 55 368 53 371 53 375 55 380 58 382 61 383 67 383 69 382 71 380 71 377 71 374 70 370 68 368ZM49 192 48 196 50 199 53 202 57 203 61 202 68 196 69 193 70 190 68 187 63 182 61 181 59 181 56 181 54 183ZM49 265 47 267 46 270 46 273 48 276 56 280 59 280 62 278 63 276 66 268 66 265 65 262 62 260 58 260ZM57 406 60 408 64 409 68 406 70 404 70 399 68 392 66 389 64 388 60 387 57 388 55 390 52 395 52 400ZM56 43 53 43 50 45 48 49 48 52 51 55 57 59 60 60 63 60 65 58 68 55 69 52 69 49 67 46 65 45ZM54 136 55 139 57 141 61 142 64 141 66 139 69 134 70 132 69 128 68 126 65 125 63 124 60 125 54 130 54 133ZM48 96 48 100 50 103 52 104 58 106 60 106 63 105 65 102 66 100 64 87 62 85 59 83 55 84 52 86ZM58 27 55 30 55 32 55 36 57 38 59 39 63 40 66 40 68 38 70 36 70 32 70 29 69 27 66 25 63 25 60 25ZM77 164 73 162 69 162 66 165 62 171 62 175 64 177 70 183 72 184 76 183 81 181 83 179 85 176 85 173 84 171ZM65 251 66 255 70 261 72 263 74 263 81 265 85 264 87 262 91 256 91 252 88 247 85 246 76 243 72 243 68 245 66 248ZM61 299 61 304 64 307 67 308 76 309 78 308 80 306 84 300 84 297 83 294 80 291 68 290 65 291 63 293ZM59 353 58 357 60 361 63 362 69 363 72 362 77 357 78 355 79 352 77 348 72 343 70 342 67 342 65 342 62 345ZM87 28 82 26 79 26 77 28 75 30 74 34 75 37 76 39 79 40 81 41 84 40 87 38 89 36 89 33 89 30ZM64 72 65 76 69 78 71 79 80 77 83 76 85 73 87 70 87 67 85 64 79 59 76 57 74 57 71 59 65 64 64 67ZM72 426 75 429 78 430 83 429 86 427 87 424 88 414 88 410 86 408 83 407 76 407 73 408 69 411 68 414 68 417ZM65 203 63 207 63 211 65 214 72 219 74 220 78 220 82 217 84 215 85 211 84 208 76 201 73 200 71 200ZM64 116 66 119 70 123 73 124 76 123 79 122 81 119 82 113 82 110 81 107 78 105 73 104 70 104 68 106 65 109 64 112ZM70 271 67 280 68 283 70 285 72 286 83 286 86 285 88 282 88 278 85 272 84 270 81 269 75 268 72 269ZM66 13 69 16 74 16 77 14 81 8 81 6 81 3 78 -4 76 -6 71 -7 67 -7 65 -6 61 -1 61 1 61 4ZM64 327 65 330 67 332 70 333 74 333 82 326 83 323 82 319 80 316 77 313 71 313 68 313 65 315 64 317ZM71 478 70 482 71 486 73 488 80 491 83 491 86 490 90 486 91 483 91 480 90 478 86 471 83 469 80 469 77 470ZM79 381 74 382 72 386 71 390 74 398 75 400 78 402 84 403 87 403 89 401 91 398 92 389 92 386 90 384 88 383ZM74 369 76 375 79 377 85 378 88 377 90 375 91 371 91 369 89 363 87 361 84 360 82 360 79 361 76 364 74 367ZM84 45 81 48 81 53 82 56 89 61 91 62 94 62 100 60 103 58 104 56 105 47 103 44 100 41 97 39 94 40ZM71 140 70 144 71 147 74 149 77 150 80 149 87 145 88 143 89 140 89 137 87 135 83 132 80 131 75 133ZM81 450 83 453 87 455 90 455 96 453 98 450 99 448 99 441 97 438 89 432 86 432 82 434 80 437 79 439ZM79 186 77 189 76 191 76 194 78 197 87 205 91 206 95 204 97 201 99 194 99 191 97 188 92 183 89 182 85 183ZM78 101 81 101 84 99 89 92 89 88 87 84 85 82 82 81 73 83 71 85 69 88 70 95 71 98 74 100ZM98 307 96 304 93 303 89 303 86 305 84 309 83 311 84 314 87 319 90 320 92 320 95 320 97 318 99 316 99 313ZM77 232 77 236 80 240 87 242 91 241 97 236 98 233 99 230 96 222 95 220 92 218 89 218 86 219 79 225 77 227ZM83 348 85 350 89 350 97 346 99 343 100 338 100 336 96 329 93 327 90 326 87 327 79 334 77 336 76 339 77 342ZM103 279 99 281 98 285 99 289 101 291 104 292 112 292 114 291 117 288 117 286 117 283 116 279 114 278 109 276ZM90 132 95 133 101 131 103 129 105 125 104 122 101 116 99 114 93 112 90 112 87 114 86 117 84 123 84 125 85 128ZM85 166 88 168 91 168 94 166 97 163 97 160 97 158 93 153 91 151 88 150 85 151 82 153 81 155 80 158 80 161ZM88 494 86 498 87 506 89 508 94 513 97 515 99 515 107 513 109 511 111 508 111 492 111 488 109 486 105 485 97 485 95 486ZM101 410 97 410 93 413 91 425 91 427 93 430 98 433 101 433 104 433 109 429 111 427 112 424 107 413 105 411ZM90 25 94 25 97 24 99 22 100 18 98 12 96 10 93 9 88 8 86 9 83 11 82 14 81 17 84 21ZM100 156 104 159 109 160 113 157 115 153 115 149 110 138 108 136 105 134 101 135 97 137 95 139 94 141 94 146ZM95 171 94 175 94 179 96 181 101 186 105 187 112 185 114 184 116 182 118 176 118 172 114 166 112 164 109 164 103 164ZM92 85 95 88 102 89 105 88 108 86 109 82 108 71 107 68 105 66 102 65 99 65 95 66 92 69 88 77 89 80ZM90 265 89 268 90 272 92 275 95 276 98 276 105 273 108 271 109 269 109 265 107 262 104 260 100 259 97 259 94 260ZM92 359 96 371 99 372 103 373 107 371 112 364 112 361 111 357 103 351 100 350 98 350 94 352 92 355ZM90 98 89 101 90 105 92 107 96 109 99 109 102 107 104 105 105 101 105 98 104 96 102 94 100 93 97 92 94 93 92 95ZM100 28 100 31 101 35 105 40 109 42 112 41 124 36 126 34 128 31 127 28 126 25 121 21 117 19 105 21 103 23ZM83 -4 86 2 89 4 93 5 96 4 98 2 101 -1 101 -4 101 -7 99 -9 95 -13 91 -14 89 -13 85 -11 83 -8ZM107 382 105 381 102 381 100 382 98 384 97 386 95 399 96 402 98 404 106 407 110 406 117 400 119 398 120 395 119 391 118 389ZM94 251 96 253 99 255 110 258 113 257 116 256 118 253 118 244 116 241 114 240 106 237 102 237 100 238 95 244 94 247ZM108 214 104 215 101 219 101 222 103 230 106 233 116 236 119 236 122 235 127 229 127 226 126 223 118 215ZM102 12 104 15 107 16 113 16 116 14 118 11 118 4 118 1 117 -1 115 -3 112 -4 108 -3 106 -2 101 6 101 9ZM121 104 119 102 115 100 111 101 109 104 106 111 105 113 108 120 110 122 113 123 116 123 122 121 125 118 125 116 125 113ZM93 458 90 461 89 466 95 478 97 480 100 480 106 481 109 479 110 477 111 474 112 465 111 461 109 459 102 456 98 456ZM115 474 116 478 119 481 122 482 128 481 131 479 138 470 138 468 138 464 131 456 128 455 125 456 119 459 117 462ZM101 306 103 308 105 310 108 310 110 310 113 308 114 306 115 303 114 300 113 298 110 297 108 296 105 297 103 298 101 300 101 303ZM106 436 104 438 103 441 103 448 105 452 111 455 114 456 117 456 122 452 124 449 124 446 121 436 119 434 117 433 114 432ZM100 321 99 324 100 327 102 331 106 333 108 333 118 330 120 328 121 325 120 318 118 316 115 315 105 316 103 317ZM109 49 108 57 109 60 112 62 114 62 132 64 136 61 137 57 137 55 132 44 130 41 127 40 123 41 111 46ZM115 269 116 273 120 278 122 280 124 281 127 281 130 280 135 275 136 272 135 266 133 263 131 261 124 258 120 259 117 261 116 264ZM108 190 105 192 103 194 101 202 101 205 102 207 105 210 108 210 114 210 116 209 118 206 121 197 121 194 119 191 116 189 113 189ZM123 512 120 514 118 516 117 519 118 522 126 535 130 537 134 536 136 534 143 524 144 521 143 518 140 512 136 510 134 510ZM130 291 127 289 123 289 120 290 118 293 118 297 119 303 121 306 123 308 126 308 129 308 133 305 135 303 135 300 135 297ZM110 337 107 338 105 341 105 344 106 347 116 356 119 356 123 355 125 352 126 349 122 338 120 336 117 335ZM131 -4 126 -3 123 -0 122 14 123 18 130 24 133 25 135 25 138 24 143 21 145 14 145 12 145 9 137 -1 135 -3ZM112 371 110 374 111 378 113 381 117 383 120 384 123 384 127 381 128 379 129 375 128 368 126 365 124 364 120 363 117 364ZM117 127 114 130 113 134 113 136 119 146 121 148 124 148 134 146 137 144 138 142 138 138 135 128 133 125 130 123 127 123ZM116 421 118 425 122 426 125 425 131 421 133 419 134 417 135 412 133 408 130 406 123 403 120 404 115 407 113 409 112 413ZM115 501 116 504 117 506 120 508 123 508 135 505 137 502 138 498 137 495 130 487 127 486 122 486 118 487 116 490ZM120 167 122 169 125 170 135 169 138 168 140 165 141 162 138 154 135 151 132 151 123 152 120 154 118 156 117 161 117 163ZM113 82 115 85 119 88 122 88 128 85 130 83 131 80 131 73 130 70 128 68 125 67 118 67 115 68 113 70 112 73ZM122 208 122 212 124 215 129 220 132 221 134 220 137 219 139 217 145 207 145 202 143 199 141 197 129 197 127 198 125 200ZM134 330 130 332 127 336 127 339 130 348 132 351 134 352 137 353 142 352 144 350 146 347 148 338 147 335 145 332 143 331ZM128 109 131 112 135 113 139 111 141 107 140 94 138 91 134 88 130 88 126 90 124 92 122 95 123 99ZM135 80 136 84 141 87 145 87 153 84 154 81 155 79 154 68 153 64 150 62 144 62 142 62 140 63 137 66 136 69ZM125 435 128 444 130 445 134 446 137 445 145 438 146 435 145 432 144 429 138 426 135 425 132 426 127 428 125 431ZM123 394 125 397 126 399 136 403 138 403 142 402 144 400 145 397 144 394 142 386 140 384 134 383 131 383 125 387 123 391ZM137 357 133 359 131 362 133 375 134 377 136 379 141 380 143 380 146 378 149 374 149 361 147 358 144 356 142 356ZM122 248 123 252 126 255 134 258 138 257 142 255 144 252 146 240 145 237 143 235 138 231 135 230 132 231 123 240 122 242ZM138 295 141 297 144 298 147 297 152 294 154 291 155 287 154 284 152 281 150 280 141 278 138 278 135 281 133 284 133 288ZM151 479 150 476 147 474 145 473 141 474 139 475 135 480 134 483 135 486 139 492 141 493 144 494 148 493 151 491 152 488ZM120 181 120 184 121 187 124 190 127 192 140 193 144 191 146 187 144 177 143 175 140 173 137 173 125 175 122 177ZM156 143 146 143 144 144 141 148 142 152 145 162 148 164 151 165 162 161 164 159 165 155 160 145ZM137 29 134 32 134 36 141 54 143 56 146 58 151 58 154 57 157 54 161 41 161 38 160 36 158 33 147 27 142 27ZM146 516 149 518 152 519 159 519 162 517 164 514 166 504 166 501 164 498 161 497 155 495 146 498 144 500 142 503 142 507ZM147 233 151 234 164 233 167 231 170 225 170 222 168 216 158 207 156 206 152 206 149 208 141 222 140 225 141 228ZM153 262 147 259 145 259 142 260 140 263 139 265 140 270 142 273 144 274 147 275 150 275 152 273 154 271 155 268 155 264ZM125 320 126 323 129 325 139 326 142 326 144 324 145 322 146 319 144 313 142 311 140 309 137 309 134 309 127 314 125 317ZM141 134 143 137 146 138 156 139 159 138 161 136 167 127 168 124 167 120 164 117 161 116 147 115 143 116 139 119 138 122 138 125ZM139 411 138 419 140 422 145 425 148 426 152 425 157 420 159 418 159 415 158 413 154 406 151 404 149 403 146 404 140 407ZM142 463 146 465 150 466 153 465 159 462 160 458 160 451 159 448 157 446 153 443 149 442 146 443 138 449 137 452 137 456ZM149 300 147 303 146 306 149 316 151 318 153 320 156 320 159 319 166 312 167 309 166 306 164 303 157 299 153 298ZM161 333 158 333 155 333 153 336 152 338 151 349 153 352 156 354 162 354 165 353 167 351 172 345 172 341 170 338ZM156 484 157 487 161 490 164 490 168 488 169 486 174 475 174 472 172 469 170 467 163 465 161 466 156 468 155 470 154 473ZM153 169 150 171 148 175 150 186 152 189 155 191 158 191 169 186 171 183 171 180 169 171 167 168 165 166 162 166ZM145 105 147 109 150 111 158 111 161 111 164 108 167 100 168 97 167 95 165 92 158 88 155 88 149 90 147 92 145 95ZM154 428 152 432 153 437 157 441 161 442 165 441 174 434 176 432 177 429 176 426 174 423 171 422 166 420 162 422ZM147 387 149 395 152 397 155 398 158 397 165 391 166 388 166 384 164 382 162 381 155 379 151 379 148 382 147 384ZM146 4 148 6 152 6 161 3 163 0 164 -4 162 -14 160 -17 158 -19 155 -20 151 -18 142 -8 141 -5 142 -2ZM161 -34 161 -31 169 -2 171 0 173 2 176 2 179 1 182 -2 188 -14 188 -17 176 -45 174 -47 172 -48 168 -48 165 -46 163 -43ZM149 17 149 21 151 24 161 31 166 31 169 30 170 28 176 14 177 11 176 8 174 6 170 5 167 5 152 12 150 14ZM148 249 149 253 151 256 156 258 159 257 162 256 163 253 165 245 164 242 162 239 160 238 153 238 150 242ZM158 271 158 274 159 277 162 279 164 280 171 278 173 276 175 273 174 270 173 267 166 264 164 265 161 266 159 268ZM167 64 163 65 159 68 159 71 159 81 161 85 169 90 172 91 175 91 179 89 181 86 183 74 183 71 181 68 179 66ZM163 194 160 197 160 202 161 205 168 209 171 210 174 209 181 202 182 199 181 196 179 191 176 189 171 189ZM172 489 172 493 174 497 177 498 183 499 186 498 188 496 190 491 191 488 190 485 186 481 184 479 181 479 178 480 176 481ZM171 120 174 122 182 124 184 124 187 123 198 109 199 106 197 101 195 99 184 93 180 93 175 95 172 98 168 111 168 115ZM168 152 172 156 174 156 177 156 179 154 188 144 189 142 189 138 186 131 183 129 177 127 175 127 171 128 170 130 164 138 164 141 164 144ZM164 413 166 416 171 417 174 417 177 415 181 409 182 406 181 401 179 398 173 395 170 395 167 396 162 399 160 402 160 405ZM153 364 154 372 156 374 164 377 167 376 169 375 171 372 172 369 171 365 166 360 164 358 161 358 157 359 154 361ZM172 230 171 234 173 238 186 247 189 248 192 248 194 247 196 245 197 243 197 239 191 230 189 228 187 227 177 227 174 228ZM170 386 171 389 174 391 178 392 182 392 191 382 192 379 191 375 189 373 186 371 180 371 178 372 175 374 171 380 170 383ZM165 285 162 286 160 290 160 294 162 297 167 300 171 301 174 300 179 296 181 292 180 288 179 286 177 284 173 282ZM167 515 167 518 169 521 173 524 176 524 186 521 188 520 190 516 191 512 191 509 189 506 187 504 175 503 172 504 170 506ZM164 457 165 460 169 463 176 465 179 465 181 464 187 459 188 456 189 443 188 439 183 436 179 436 167 445 164 449ZM171 359 177 366 180 367 189 367 192 366 196 363 197 361 197 356 196 353 194 351 184 345 181 344 178 345 172 352 170 355ZM175 27 175 30 176 34 178 36 187 40 191 40 197 36 199 34 200 32 200 27 193 16 191 14 187 13 184 13 181 15ZM167 254 167 257 169 260 174 263 176 263 180 263 182 261 184 258 185 255 184 253 182 250 178 247 175 246 172 246 170 248 168 250ZM162 51 162 55 165 59 167 60 178 61 181 60 183 57 185 47 184 44 182 42 174 38 170 38 167 39 165 41ZM165 320 163 323 162 325 163 328 165 330 173 333 176 333 179 330 180 327 180 323 179 321 175 318 172 316 170 316 167 317ZM177 303 175 305 174 308 175 311 177 314 182 318 185 319 190 318 193 316 194 314 195 309 195 306 193 303 187 300 184 299 181 300ZM185 166 182 164 179 164 176 166 174 168 173 172 175 178 176 180 179 182 182 183 184 182 188 179 190 176 191 174 190 171ZM192 280 188 281 185 284 184 288 185 293 188 296 196 300 199 300 202 299 205 297 206 294 204 284 200 281ZM183 333 182 337 184 340 190 344 194 344 197 343 199 340 201 331 201 329 200 326 196 323 194 322 191 322 188 323 186 325ZM178 211 176 215 177 219 181 222 186 223 190 222 192 220 196 215 197 211 196 209 194 206 188 204 184 205ZM186 465 184 468 185 472 192 481 194 483 197 483 200 483 202 482 204 479 206 472 206 470 204 467 201 465 193 462 189 462ZM181 429 184 432 189 435 193 435 197 433 198 430 201 417 201 415 199 412 197 410 194 410 189 409 185 411 180 418 179 421 179 424ZM192 497 192 500 193 503 195 505 198 506 210 505 213 501 214 498 214 495 212 493 206 488 202 487 198 488 196 489ZM185 401 187 404 189 405 201 406 204 404 205 403 207 400 207 397 205 394 199 388 196 387 194 387 190 389 186 394 184 397ZM184 192 187 198 189 200 193 201 196 201 198 200 200 198 201 195 201 192 197 185 194 183 191 183 186 186 184 188ZM189 47 187 60 188 63 191 65 194 66 207 65 210 62 211 59 210 56 206 44 204 42 201 40 197 41 191 45ZM186 152 185 156 185 160 187 162 195 169 198 170 201 169 207 166 209 163 211 157 211 154 209 150 206 147 197 145 194 145 191 147ZM198 234 201 236 203 237 206 237 209 235 216 227 217 224 215 220 207 215 203 214 200 216 196 221 195 225 195 228ZM205 367 200 367 197 369 195 373 196 379 197 382 206 389 209 390 211 390 214 389 216 387 219 380 219 376 216 372ZM201 533 205 535 210 535 213 532 216 526 216 523 212 513 210 511 208 510 205 510 199 511 196 513 195 515 194 520 194 522ZM186 84 186 87 189 90 196 94 200 94 203 93 212 82 213 79 212 74 210 71 207 69 192 70 189 72 188 74ZM186 -2 186 2 187 5 191 8 194 8 197 7 205 0 206 -2 206 -6 205 -9 203 -11 197 -12 194 -12 190 -9ZM184 265 183 268 183 271 185 274 188 276 200 276 203 274 205 271 205 267 201 258 199 256 197 255 193 254 190 256ZM206 201 205 206 207 209 217 216 221 217 224 215 226 213 230 202 230 199 230 196 227 193 224 192 221 192 209 197 207 199ZM193 137 196 140 204 143 207 143 210 141 218 131 219 128 219 125 216 118 214 116 206 113 202 113 200 114 191 124 190 126 190 130ZM198 314 198 317 200 320 204 324 208 325 217 324 219 322 221 320 223 312 222 309 217 303 215 302 210 301 207 301 202 305 200 307ZM207 462 212 463 216 459 220 450 219 444 217 441 214 440 201 437 197 438 195 440 193 443 193 455 196 458ZM203 172 200 175 199 179 200 181 204 189 207 191 209 191 212 191 216 189 218 187 219 183 218 180 213 174 211 172 209 171 206 171ZM200 9 198 13 198 17 204 27 209 29 213 28 216 26 222 14 223 11 223 8 222 5 216 2 214 1 209 2ZM215 252 211 252 207 255 206 259 208 265 210 268 213 269 222 268 224 267 226 264 226 258 223 255ZM220 63 217 65 215 69 216 72 218 80 221 82 231 86 233 86 237 85 239 81 241 70 241 67 240 65 237 62 231 60ZM214 274 211 275 209 276 208 279 208 281 210 292 214 295 217 295 220 294 222 292 228 283 229 279 227 275 224 273ZM208 479 208 482 209 485 216 491 219 492 222 491 225 489 228 482 228 479 226 476 221 471 217 469 214 469 211 471 210 474ZM204 338 204 341 205 344 207 346 211 347 222 343 224 341 225 337 224 335 222 330 219 328 216 328 210 329 207 330 205 333ZM215 416 212 415 209 415 206 417 205 419 203 429 205 432 208 434 215 435 217 434 219 431 220 429 220 422 218 418ZM202 104 204 107 206 108 215 112 219 112 221 110 231 100 232 97 232 93 230 90 221 86 218 86 216 86 213 88 203 98 202 101ZM219 33 216 32 212 33 210 35 209 39 214 55 217 58 221 58 226 57 229 54 229 52 230 42 229 40 227 38ZM229 499 225 497 221 498 219 500 215 506 215 510 218 517 220 519 222 521 225 521 236 518 239 516 240 514 241 510 239 507ZM222 158 218 159 216 161 214 163 214 167 222 178 225 180 229 180 231 179 239 171 240 168 239 165 237 162 235 160ZM210 352 207 353 205 356 205 360 207 363 218 369 222 369 225 367 227 364 229 356 228 353 227 350 224 349 221 348ZM219 -1 224 -0 227 -1 233 -6 235 -9 234 -13 230 -21 228 -23 226 -25 222 -25 219 -23 213 -12 213 -9 214 -6 216 -4ZM225 306 228 308 231 309 242 308 245 305 249 297 249 294 248 288 242 283 240 282 237 281 235 282 232 284 223 298 223 302ZM221 398 217 398 213 399 211 403 211 406 213 410 218 414 221 415 224 415 226 414 229 411 230 408 230 406 228 402ZM221 134 213 145 213 148 214 151 216 153 219 154 231 155 234 154 236 151 238 141 238 138 236 135 234 133 225 132ZM224 425 225 429 229 432 232 432 241 430 244 428 245 426 246 418 245 415 243 413 241 412 238 411 236 412 226 419 225 421ZM220 458 220 462 221 465 230 474 232 475 235 475 239 473 241 471 243 463 242 460 240 457 227 454 223 455ZM218 249 222 249 225 248 227 246 228 243 227 239 225 236 222 234 220 233 217 234 215 235 213 238 212 241 212 244 213 246ZM232 253 230 257 231 266 233 270 236 272 239 271 242 270 250 260 251 258 251 255 250 252 245 248 243 246 240 246 237 247ZM230 339 232 341 235 343 242 342 245 341 251 336 252 332 252 322 247 315 245 313 241 312 232 313 229 314 227 316 225 323 224 325ZM236 223 233 223 230 224 228 227 227 231 228 234 232 239 235 240 238 241 241 239 243 238 245 233 245 231 243 226ZM231 437 228 438 226 441 226 445 228 448 230 450 241 453 244 453 247 451 248 448 249 441 248 439 247 436 244 435 242 434ZM220 386 220 390 222 394 229 398 232 398 236 398 238 395 241 386 240 382 238 380 231 377 229 377 226 378 224 379ZM223 123 225 126 228 127 240 130 243 130 245 128 251 119 252 116 252 113 246 101 244 99 241 99 239 99 236 101 222 115 221 118ZM231 210 231 214 233 218 246 223 248 223 251 222 253 220 255 218 255 215 254 211 245 203 243 201 239 201 236 202 233 205ZM222 22 222 26 223 30 225 32 231 35 234 35 241 33 243 31 245 29 245 23 243 20 241 18 232 16 230 15 226 16 224 18ZM230 489 230 493 231 496 238 501 242 501 245 501 247 499 252 491 253 487 252 484 251 482 245 478 241 477 236 479 234 481ZM241 400 242 405 245 409 249 410 254 409 256 407 263 396 264 392 263 390 262 387 255 382 252 382 249 382 247 384 245 386ZM249 502 248 507 249 509 251 511 254 513 263 514 266 513 269 511 271 502 270 499 269 497 263 493 260 492 257 492 255 494ZM230 366 230 369 232 373 244 378 247 378 250 376 252 374 254 369 253 365 246 352 244 350 241 348 237 349 234 352ZM231 190 235 196 237 197 241 197 245 196 251 187 251 183 250 180 246 177 244 176 241 176 238 177 232 184 230 186ZM243 85 243 88 244 90 246 92 249 93 252 92 262 87 264 83 266 72 266 70 264 67 261 65 253 63 250 63 248 64 245 68ZM238 38 236 40 234 43 234 54 235 56 237 58 241 60 244 60 247 58 250 55 250 42 248 39 245 37 242 37ZM232 0 230 3 229 6 231 9 233 11 245 15 248 14 251 11 253 0 252 -3 249 -5 247 -6 240 -7 238 -5ZM249 426 250 430 253 433 256 434 263 433 266 432 268 430 270 427 270 424 269 420 267 419 259 414 256 414 252 415 250 418ZM247 271 245 275 246 278 247 281 251 282 255 282 262 278 264 275 264 273 264 270 263 268 260 265 257 263 252 265ZM251 36 253 37 256 38 267 36 269 34 270 31 270 28 270 26 267 23 258 20 255 19 253 20 250 24 248 30 249 33ZM257 209 260 211 264 211 267 210 270 206 271 193 270 189 267 187 261 186 257 187 255 188 250 196 250 199 250 202ZM247 238 247 242 248 245 253 249 257 250 260 250 268 245 270 243 271 239 270 236 264 226 261 224 259 223 256 224 251 227ZM251 341 249 345 249 348 256 361 259 363 261 363 267 361 269 360 271 356 272 349 271 346 270 344 267 342 257 339 253 340ZM240 152 240 155 242 158 244 160 248 160 257 156 259 153 260 150 258 146 253 141 250 139 248 139 244 140 242 143ZM250 306 249 309 250 313 253 316 257 318 260 317 272 313 275 311 276 308 275 304 272 301 258 298 255 299 253 300ZM256 458 252 458 249 461 247 463 246 471 246 473 248 476 253 479 257 480 261 479 265 475 267 472 267 470 266 464 264 461 262 460ZM253 517 250 517 248 518 246 520 245 523 248 555 250 558 253 560 267 560 271 557 272 553 270 523 268 521 266 519ZM252 163 249 165 248 168 248 171 249 174 257 181 262 182 266 181 269 177 270 167 270 164 269 162 266 159 262 159ZM264 62 268 62 271 59 275 50 275 47 274 44 272 42 269 40 258 42 256 44 254 47 254 54 255 57 258 60ZM251 126 250 130 252 134 264 146 266 147 269 147 271 146 273 145 276 141 276 136 265 121 262 119 258 119 255 121ZM274 507 275 512 277 515 281 516 287 515 290 513 291 511 293 504 292 501 291 499 288 496 285 496 282 496 276 500 275 502ZM265 251 262 255 262 258 263 261 267 266 270 267 273 267 275 266 280 263 281 260 281 253 280 250 278 248 275 247 273 247ZM253 448 253 451 255 453 265 456 268 455 271 453 273 451 273 448 272 445 269 439 267 438 264 437 258 437 255 439 253 443ZM268 214 266 217 266 222 276 238 278 239 281 240 283 240 286 239 288 235 291 222 291 219 290 217 286 214 275 211 272 211ZM257 372 257 376 258 379 266 385 269 386 272 386 275 384 280 376 281 373 281 370 279 368 275 365 272 364 260 368 258 370ZM274 34 274 37 277 41 279 43 282 44 296 41 299 39 300 35 299 32 292 21 290 19 287 18 283 19 277 24 275 27ZM256 8 256 12 258 15 272 20 275 20 281 15 283 13 283 10 283 7 280 4 266 -2 264 -3 260 -2 258 0 257 2ZM266 480 264 483 264 487 266 489 271 494 274 494 277 494 281 492 283 489 284 483 283 480 281 478 272 476 269 477ZM261 282 259 285 258 288 259 291 260 294 263 295 268 296 272 295 274 294 275 292 276 288 275 286 272 282 270 281 267 280 265 281ZM267 398 262 406 262 409 263 411 266 413 270 416 273 416 276 415 278 412 279 410 280 402 279 399 276 396 273 395 269 396ZM255 111 257 113 260 115 264 115 267 115 279 106 280 102 280 99 279 97 276 94 267 90 263 91 256 95 253 97 252 101ZM280 68 275 68 271 70 270 74 269 83 269 85 272 88 279 91 282 91 286 89 289 87 290 77 289 74 287 72ZM261 336 274 339 277 339 284 335 287 332 287 328 284 320 283 318 280 317 276 316 261 321 258 323 256 326 256 331 258 335ZM271 467 272 470 275 472 284 475 288 474 290 471 291 468 290 457 289 455 287 453 284 452 280 452 277 453 271 459 270 463ZM277 270 275 272 274 276 275 279 277 282 280 283 283 283 287 282 290 280 291 277 291 274 290 271 287 269 282 267ZM273 178 273 183 277 186 280 186 290 184 293 183 295 180 295 177 294 171 292 169 290 167 282 165 278 165 276 166 274 169ZM280 342 278 343 276 346 276 359 277 362 281 364 284 365 287 365 290 364 291 361 294 350 294 346 291 342 288 340 285 340ZM278 296 278 300 280 304 283 306 287 307 289 306 298 300 300 297 300 294 299 289 297 287 294 285 291 285 281 289 280 291ZM284 424 280 423 276 425 272 431 272 435 277 445 279 447 282 448 289 447 292 446 294 442 294 431 291 427ZM279 385 278 388 278 391 281 395 284 396 296 395 299 393 301 390 301 387 297 377 295 375 293 373 289 373 286 375ZM275 149 274 152 274 155 276 158 278 160 293 163 297 162 300 158 300 155 299 152 293 142 290 139 286 139 282 140ZM275 114 272 118 272 122 279 133 282 135 285 135 289 134 291 132 295 128 296 125 296 122 295 120 283 112 280 112ZM288 487 288 490 290 493 295 496 299 497 304 495 307 493 310 486 311 483 309 480 307 478 298 475 295 475 292 477 289 479ZM278 -1 282 -1 285 -3 289 -8 289 -12 278 -31 274 -33 271 -33 268 -31 266 -29 262 -15 262 -12 263 -9 265 -7ZM277 56 277 60 279 63 291 69 294 68 300 65 303 62 303 60 303 57 301 49 299 47 296 46 282 49 279 51ZM303 448 298 448 296 450 294 452 294 455 295 467 297 470 299 472 307 474 309 473 312 472 314 470 315 467 315 464 311 451 308 449ZM279 208 290 210 293 209 295 208 296 205 297 194 295 191 292 189 279 190 277 192 275 196 275 202 276 206ZM284 98 285 105 286 108 295 115 298 116 301 115 304 114 308 108 310 104 309 101 307 98 295 92 292 92 289 92 286 95ZM294 244 289 245 286 248 285 250 286 261 287 264 296 271 299 272 302 272 307 269 308 267 310 261 309 259 300 246 297 245ZM290 323 292 326 296 327 308 324 311 323 313 320 313 317 311 306 310 304 306 302 302 302 289 311 288 313 287 316ZM291 423 295 424 297 423 300 421 301 418 301 405 299 401 296 400 293 400 288 401 285 403 284 406 283 414 283 417 286 420ZM287 5 288 10 290 12 295 14 310 6 312 4 313 1 310 -7 308 -9 305 -10 294 -8 292 -6 288 3ZM303 217 301 217 298 217 296 219 295 222 294 232 295 235 299 237 302 237 304 236 309 233 310 230 310 226 309 220 307 218ZM299 179 301 183 304 185 319 185 326 180 328 178 328 175 327 172 317 160 313 159 307 159 304 161 298 167 298 170ZM314 518 316 516 316 512 315 509 310 502 308 500 305 500 301 500 299 502 297 505 296 511 296 514 297 517 303 521 305 522 309 521ZM300 331 296 333 295 337 296 341 299 346 314 349 318 348 322 344 322 341 322 338 319 331 316 328 312 328ZM303 30 306 33 309 34 318 31 321 29 322 26 322 16 321 13 319 11 316 9 313 9 300 16 299 19 298 22ZM304 276 302 279 301 282 305 294 307 297 310 298 314 299 322 295 324 293 325 291 327 286 326 282 324 280 312 273 308 273ZM296 361 296 364 297 367 300 369 303 369 306 368 312 365 314 362 314 359 313 355 311 353 305 352 302 351 300 352 298 354ZM297 71 295 74 294 76 294 83 295 86 297 89 303 91 306 92 309 91 311 88 315 80 314 77 312 71 310 68 306 67 303 68ZM307 131 303 131 299 132 297 135 297 139 304 152 308 155 312 155 315 153 316 151 319 144 319 141 316 137ZM305 387 307 390 311 392 318 392 322 390 324 388 325 385 324 376 323 373 319 370 316 369 313 369 305 373 304 375 303 378ZM318 1 321 4 325 5 336 0 339 -3 341 -9 341 -13 333 -27 330 -30 326 -30 322 -29 314 -14 313 -10ZM298 437 299 441 302 443 310 446 313 446 326 437 328 433 328 430 327 427 323 425 305 424 302 425 299 428 298 431ZM306 117 304 120 304 123 306 126 308 128 322 135 327 134 330 131 331 127 329 115 327 111 325 110 317 108 314 108 312 110ZM318 458 319 461 323 463 328 462 331 460 333 457 334 450 333 447 332 445 329 443 326 443 318 447 317 449 316 452ZM306 213 309 214 312 212 317 209 318 206 318 194 316 191 313 190 306 190 303 192 302 194 300 208 302 211ZM310 38 306 40 305 44 307 56 309 59 312 61 315 62 328 57 330 54 330 50 327 40 326 37 323 36 320 35ZM312 493 312 495 313 498 320 509 324 510 326 509 329 508 332 505 333 502 333 500 330 492 328 488 321 486 318 486 314 488ZM324 141 320 155 320 158 324 163 328 165 333 164 335 162 342 152 342 149 341 140 338 137 335 136 332 136 327 139ZM317 314 318 317 320 319 323 320 326 320 335 315 337 311 337 308 335 305 329 300 326 299 323 299 318 301 316 305 316 307ZM318 361 319 364 321 366 324 368 328 368 336 363 337 361 337 357 333 349 330 347 326 347 323 348 319 353 318 356ZM308 239 305 242 306 246 309 251 312 253 314 254 317 253 323 250 326 247 327 243 327 240 325 237 323 235 317 234 315 234 312 235ZM312 396 308 397 306 401 305 413 306 416 308 418 311 420 321 420 324 418 326 414 322 400 320 398 318 396ZM326 23 328 27 331 29 334 29 342 28 345 26 348 22 349 19 348 16 342 7 339 5 335 5 329 8 326 11 326 14ZM313 100 315 103 318 104 324 105 328 104 331 101 333 92 333 89 332 86 329 84 324 83 321 83 319 84 317 86 313 94 312 97ZM317 472 317 476 318 480 321 482 328 484 331 484 333 483 338 478 340 474 339 472 338 469 335 466 332 466 322 468 319 469ZM314 225 316 228 318 230 322 231 325 230 328 228 330 223 330 220 330 218 327 215 323 213 320 213 318 213 315 215 313 218 313 221ZM327 277 332 278 338 275 340 272 341 268 339 264 331 256 328 255 325 254 323 255 316 259 314 262 313 265 314 267 315 270ZM333 390 330 391 328 392 326 394 325 397 326 400 331 413 333 415 337 416 347 412 350 410 351 407 350 397 349 394 345 391ZM325 186 323 189 322 191 323 205 324 208 332 213 335 214 344 211 346 210 348 206 348 199 340 186 335 183 332 183 329 183ZM321 64 318 66 317 70 317 73 320 77 322 78 332 80 335 79 337 78 339 74 339 67 338 64 337 62 334 61 331 60ZM337 421 334 424 332 428 333 434 336 439 339 441 351 442 354 442 356 441 358 438 363 427 363 423 361 420 355 416 352 416ZM336 497 339 501 343 502 347 501 351 498 352 495 353 492 351 485 348 482 345 481 342 481 336 486 334 490ZM334 122 335 125 338 127 341 128 345 127 353 120 354 116 353 113 351 110 348 109 340 109 337 110 335 112 334 115ZM326 337 329 340 333 341 335 341 344 335 345 332 346 330 344 324 343 321 340 320 336 319 326 325 324 327 323 330ZM338 241 334 241 332 244 331 247 331 250 333 252 338 257 341 258 344 257 347 255 350 251 351 248 350 245 349 243 346 241ZM335 221 332 230 333 233 335 235 338 237 346 236 349 234 350 231 349 221 348 218 345 216 341 216 337 219ZM330 290 330 293 331 296 338 302 342 304 345 303 348 301 352 291 351 288 347 281 345 279 342 278 339 279 333 282 331 285ZM335 53 337 56 342 58 351 55 354 52 355 49 354 45 346 35 344 33 341 32 336 33 334 35 332 37 332 41ZM332 511 330 514 329 518 331 520 336 526 339 527 342 527 347 524 349 522 350 518 350 516 347 510 345 507 342 506 338 506 336 507ZM336 96 337 101 339 104 342 105 350 105 353 104 355 102 357 96 357 93 356 91 354 88 346 86 344 85 340 87 339 89ZM334 169 333 173 334 177 337 180 341 181 344 179 356 171 358 168 358 165 357 162 355 160 349 157 346 157 342 159ZM342 357 345 360 350 362 353 362 356 361 361 356 363 353 363 345 361 342 358 340 350 337 347 338 340 342 338 345 338 348ZM329 380 330 384 334 386 346 387 349 386 351 384 353 381 351 369 349 367 345 365 343 365 340 365 330 372 328 375ZM337 458 338 462 341 466 344 467 348 466 351 463 354 455 354 453 354 450 352 447 349 446 344 446 342 446 338 450ZM343 -3 343 0 344 3 353 14 356 15 362 15 365 13 367 12 368 8 366 -3 365 -5 363 -7 360 -8 348 -9 345 -6ZM357 142 354 143 352 144 351 147 351 150 352 153 354 154 357 156 360 156 363 155 365 153 366 150 367 148 365 145 363 143 361 142ZM356 314 353 314 351 315 348 318 348 322 350 330 352 333 354 334 361 337 364 336 367 335 373 328 374 325 373 322 371 318 369 316ZM349 259 348 262 349 265 351 268 354 269 356 269 364 267 366 266 367 263 367 253 365 250 362 249 358 249 356 250ZM356 489 358 492 361 494 363 494 366 493 368 491 372 485 373 483 372 479 369 477 367 476 361 476 358 477 356 479 354 482ZM350 25 349 29 350 33 357 43 360 45 364 45 367 44 375 34 376 32 376 28 373 22 371 20 368 18 365 18 356 20 353 21ZM353 501 351 504 351 508 356 519 359 521 362 522 365 522 367 520 370 517 372 510 371 507 367 502 364 499 360 499 356 499ZM362 388 357 390 355 393 354 396 355 409 357 412 363 416 366 417 368 417 371 416 373 413 380 399 380 395 379 392 376 390ZM343 75 344 79 347 81 355 84 358 84 361 83 363 81 363 78 365 64 363 60 360 58 357 57 346 61 344 63 343 66ZM348 191 351 194 354 194 367 191 369 188 371 182 371 179 370 177 369 175 365 173 362 173 359 173 349 181 348 183 347 187ZM357 198 354 200 352 203 353 207 355 210 358 212 368 214 371 213 374 211 375 209 376 203 375 200 372 197 370 196 367 195ZM359 110 362 112 365 113 381 111 384 108 387 103 387 101 387 98 385 96 382 94 369 91 365 91 362 95 359 104 358 107ZM355 235 357 239 360 241 364 242 367 240 369 238 374 226 374 223 372 220 369 218 362 217 359 217 356 219 354 223ZM364 311 368 311 371 309 373 303 373 300 372 297 368 294 365 293 358 293 356 294 354 296 352 302 352 305 354 307 356 309ZM355 462 355 466 356 468 357 470 360 472 373 472 376 469 377 466 377 463 375 459 365 454 362 454 359 455 358 458ZM352 282 356 287 359 288 363 289 366 288 369 285 370 281 370 278 369 275 367 273 364 272 355 274 353 276 352 279ZM371 2 372 6 374 8 377 8 380 8 391 1 393 -2 392 -6 390 -8 386 -11 383 -11 375 -9 372 -7 371 -5 371 -2ZM368 128 370 131 373 132 376 132 381 130 383 128 384 125 383 119 382 117 379 116 376 116 370 117 368 119 366 122 366 125ZM372 493 371 496 371 500 373 503 376 505 379 505 388 503 390 502 392 499 392 496 391 493 386 487 383 486 380 486 378 486ZM358 364 356 367 356 370 357 379 359 383 362 384 374 385 377 385 379 383 381 380 383 372 381 366 379 363 370 359 367 359 364 360ZM362 440 361 444 363 448 365 449 373 453 376 452 379 451 382 446 383 443 383 439 377 430 375 428 373 427 369 428 366 430ZM365 159 364 163 366 168 368 169 376 173 379 173 382 171 386 163 385 159 384 157 375 153 373 153 370 154ZM377 136 374 139 373 142 373 145 375 147 377 149 384 152 387 151 389 150 391 148 392 145 391 139 390 136 387 134 384 133ZM372 264 373 268 376 270 381 270 385 268 388 264 388 260 388 258 384 251 381 250 378 249 375 250 373 251 371 255ZM367 350 368 353 370 355 377 358 381 358 384 357 391 350 393 347 392 344 390 340 382 334 379 332 376 332 373 334 367 340 367 344ZM374 294 377 296 380 296 388 294 391 291 392 289 392 285 387 278 385 277 382 276 379 276 377 277 375 279 372 289 372 291ZM375 311 375 315 377 318 381 320 385 320 393 316 395 313 396 310 395 302 393 300 390 298 387 298 381 301 378 304ZM369 48 368 50 368 53 369 55 371 57 382 61 386 61 388 59 390 57 395 44 395 40 394 37 391 35 384 34 382 34 378 36ZM367 80 368 84 371 86 381 90 384 90 387 89 389 87 393 80 393 76 389 69 387 66 377 64 374 64 371 65 369 68ZM375 183 374 190 375 193 377 196 381 197 383 197 389 195 391 192 392 190 392 187 390 184 386 180 382 179 379 179 377 181ZM379 211 379 216 381 218 384 220 389 220 392 220 394 218 396 215 397 212 396 209 393 203 391 201 387 200 384 201 381 203ZM391 471 388 473 386 475 386 479 387 482 396 493 400 493 404 492 406 489 410 482 410 479 409 476 403 471 401 469 398 469ZM384 384 384 388 386 392 389 393 396 395 398 394 407 387 409 384 409 382 407 377 404 375 392 374 388 375 386 377ZM388 110 387 114 389 125 390 127 393 129 396 130 410 127 412 125 414 123 415 120 414 117 412 112 409 110 395 106 391 107ZM374 235 374 239 376 243 378 245 383 245 386 244 393 238 395 235 395 232 393 228 391 226 389 224 383 224 380 225 378 227ZM400 555 403 559 407 560 419 560 422 558 424 555 425 547 425 545 418 524 417 521 415 520 403 518 400 519 398 522 394 530 394 533ZM381 463 384 466 388 467 396 465 399 464 401 462 404 453 404 450 403 447 401 445 398 445 391 444 388 446 381 456 380 459ZM390 275 394 281 398 282 401 281 404 279 408 270 407 267 405 264 402 263 400 263 395 263 392 266 389 269 389 273ZM380 509 377 511 375 513 375 517 376 520 378 522 385 526 388 526 391 525 393 522 395 516 396 513 395 510 393 508 389 507ZM379 409 379 413 380 416 382 419 385 419 396 417 398 415 400 411 399 408 396 401 393 399 390 398 387 398 384 400ZM388 169 387 172 388 176 394 182 396 184 399 184 409 182 411 180 413 177 413 174 412 172 405 162 402 159 397 159 393 160 391 162ZM397 190 394 196 395 199 399 206 402 208 406 209 414 207 417 205 418 203 418 199 416 190 414 188 412 186 408 186 399 188ZM377 21 381 28 384 29 390 30 393 29 402 18 403 14 402 11 398 7 394 6 391 7 380 13 378 16 377 19ZM390 322 387 324 386 327 386 330 387 333 398 340 402 340 405 339 410 331 410 328 409 325 399 319 396 319ZM396 351 387 360 386 363 387 366 388 368 392 370 399 370 403 369 405 367 408 358 407 355 405 351 403 350 400 349ZM390 97 392 99 394 101 407 105 411 105 414 103 419 95 420 92 420 89 417 86 407 79 404 78 401 78 397 81 391 91 390 94ZM389 423 385 425 383 428 383 432 386 437 388 439 390 440 396 440 399 439 401 437 402 434 402 431 399 426 397 424 395 423ZM389 252 393 257 396 259 399 259 402 257 404 255 405 252 405 248 403 244 401 242 397 242 395 242 392 245 390 247 389 250ZM399 29 398 34 399 38 402 40 408 42 412 41 420 35 421 32 422 29 418 19 416 17 412 16 410 17 407 18ZM409 413 406 413 404 415 402 418 402 421 406 429 409 431 412 431 415 430 416 428 420 423 420 419 418 416 416 414ZM398 220 397 223 397 227 401 234 405 236 410 237 417 234 420 233 422 231 422 228 421 217 420 214 418 212 414 211 403 214 401 216ZM409 295 404 296 400 299 400 302 400 313 403 316 411 321 413 322 416 322 419 321 420 318 424 310 424 306 419 299ZM403 405 405 408 408 409 415 409 418 408 420 405 422 399 422 396 421 394 418 390 416 389 413 389 410 390 403 395 402 397 401 401ZM396 147 397 150 400 153 403 154 407 152 412 146 414 144 414 140 412 135 409 133 407 132 401 133 398 134 396 136 396 139ZM393 66 397 71 399 73 404 72 406 70 413 60 413 58 413 54 409 48 407 46 404 46 402 46 399 47 398 49 392 63ZM402 -8 400 -5 399 -3 398 -0 400 3 408 11 411 12 415 10 417 7 419 -3 419 -6 418 -9 415 -11 412 -12ZM410 352 412 354 415 355 431 356 434 355 438 350 439 348 439 344 437 341 424 332 421 331 418 331 415 333 408 342 407 347ZM402 497 398 500 397 504 399 509 401 512 403 513 414 515 416 515 419 513 420 510 421 508 420 505 418 503 408 496 405 496ZM423 177 419 179 418 184 422 199 424 201 426 203 429 204 439 203 442 201 444 198 445 193 437 178 435 176 431 174 428 175ZM411 262 415 264 423 264 426 263 429 261 432 252 432 250 429 241 427 239 424 237 421 238 414 240 410 242 409 245 409 257 409 260ZM416 170 418 172 422 172 426 171 428 169 432 156 431 152 429 150 421 147 418 148 415 149 411 154 409 157 410 161ZM424 529 426 532 429 533 432 534 435 532 445 519 445 515 444 512 442 511 432 507 429 507 427 508 425 511 422 518ZM423 123 419 124 416 128 416 131 418 140 421 143 430 146 433 146 436 145 439 143 439 139 436 127 434 125 432 123ZM409 369 409 373 411 377 415 379 418 379 421 378 428 371 429 368 429 366 428 362 425 360 416 359 414 360 412 362ZM406 461 405 465 407 468 413 474 417 474 420 473 422 471 427 462 428 459 426 453 424 451 418 448 414 448 411 449 409 451ZM407 282 406 287 409 291 416 293 420 292 422 290 430 278 430 275 430 272 428 270 426 268 416 268 412 271ZM416 63 411 71 411 74 412 77 414 79 420 82 422 83 426 82 429 80 431 67 431 64 428 62 422 60 419 61ZM417 41 415 45 415 48 417 53 419 55 422 56 431 57 434 56 437 54 439 43 438 40 435 38 429 36 426 36ZM422 446 426 446 429 445 437 439 439 436 439 432 436 425 434 423 431 422 427 421 424 423 417 436 417 440 418 442 419 444ZM412 487 411 490 413 494 419 499 422 500 425 499 427 498 429 496 430 491 430 487 429 485 423 480 420 479 416 480 414 482ZM424 320 424 324 425 328 434 334 438 335 441 334 443 333 448 324 449 321 448 318 445 312 443 310 439 309 432 309 429 311 427 313ZM424 408 424 412 427 416 432 417 436 417 442 412 444 410 444 406 443 401 441 398 438 397 430 397 426 400ZM426 302 428 304 431 305 441 305 443 304 452 293 452 290 451 285 447 282 439 279 436 279 434 281 425 294 424 298ZM431 208 427 210 425 214 426 227 429 231 432 232 435 232 449 225 451 223 453 219 452 216 445 208 441 207ZM428 478 434 483 437 483 444 482 446 480 448 477 448 474 446 469 444 467 442 465 435 464 432 464 430 466 427 471 426 475ZM424 390 426 392 428 393 440 392 442 391 443 388 444 386 444 383 442 381 436 376 433 375 430 375 428 377 422 383 422 387ZM434 271 437 274 448 278 451 278 454 277 456 274 457 271 455 259 454 256 452 254 449 254 441 253 437 254 435 257 432 264 432 268ZM417 106 416 109 416 112 418 116 421 118 433 119 436 118 438 115 438 111 435 99 434 97 431 95 428 94 424 95ZM431 14 428 15 425 17 424 21 425 24 427 29 429 31 435 33 438 33 441 31 442 28 443 21 442 18 441 16 438 14ZM435 361 435 368 437 370 443 376 446 377 448 377 452 376 453 373 455 369 455 366 454 364 446 357 443 355 439 356 437 358ZM435 163 434 165 435 168 439 171 443 171 450 168 452 166 454 163 454 154 453 150 451 148 447 147 444 147 441 148 437 152ZM434 78 434 83 438 86 441 86 452 85 454 83 456 81 457 73 457 71 455 68 453 67 444 62 440 63 437 64 436 67ZM446 6 447 3 447 -1 446 -4 443 -6 429 -8 425 -6 423 -3 422 5 424 8 426 10 429 10 441 9 444 8ZM456 10 453 9 450 10 448 12 447 15 447 29 449 32 452 33 456 33 459 32 466 24 468 21 468 18 466 15ZM446 118 442 120 440 124 444 139 445 141 448 143 451 144 454 144 457 142 458 140 465 128 465 123 462 120 456 117 453 116ZM442 440 431 449 431 452 432 456 435 459 442 461 445 460 448 459 453 450 454 447 453 444 452 441 449 440 445 439ZM443 431 445 433 447 435 450 435 453 433 460 424 460 420 458 417 456 416 449 414 446 414 442 417 440 419 439 423ZM433 496 433 500 435 503 441 506 445 506 448 505 449 502 453 494 453 491 452 487 448 485 445 485 439 487 437 488 435 490ZM448 310 453 317 456 319 464 319 467 318 471 315 472 312 472 309 471 305 468 302 460 298 456 298 454 298 449 303 448 306ZM450 38 446 39 443 42 442 52 442 55 445 58 456 63 459 64 461 63 466 61 467 58 468 56 468 52 458 39 455 38ZM456 390 451 390 447 393 447 397 448 406 449 408 452 410 458 412 462 412 464 411 466 409 469 402 470 398 468 396 466 394ZM451 461 449 464 450 468 453 472 456 473 459 472 468 468 471 466 471 463 471 457 469 454 467 452 462 451 460 451 457 453ZM446 185 448 188 451 189 454 189 458 187 460 185 462 182 462 180 461 177 458 173 455 172 452 172 448 174 445 176 444 178 444 182ZM448 199 448 204 449 207 455 212 458 213 460 214 463 212 465 210 470 199 470 195 470 193 468 191 465 190 463 189 451 195 449 197ZM452 326 448 333 448 337 451 340 453 341 456 341 463 340 466 338 467 335 467 332 466 327 465 325 462 323 457 323 454 324ZM440 102 442 105 445 107 448 107 451 106 453 103 454 101 454 96 452 92 450 90 448 90 444 90 441 91 440 94 439 96ZM456 377 455 382 457 386 465 389 468 389 472 387 479 378 481 375 481 372 479 369 475 366 464 368 460 370ZM435 244 436 247 439 249 454 250 457 248 460 245 461 243 461 240 457 231 454 229 451 229 436 237 434 240ZM457 345 453 347 451 349 450 353 452 356 458 362 460 363 463 364 469 362 471 360 472 357 471 349 470 347 468 345 466 344ZM459 477 456 479 455 483 457 488 459 490 473 494 476 494 479 491 482 482 482 479 481 476 477 473 474 471 472 471ZM457 107 458 111 461 114 465 114 469 113 471 110 473 107 472 99 470 96 468 94 465 94 463 94 460 95 458 99ZM458 158 458 167 460 170 464 173 468 174 472 173 478 168 479 165 479 162 478 159 476 157 467 153 464 153 461 154 459 156ZM452 507 451 512 453 515 461 519 465 519 468 518 470 516 475 507 475 503 474 500 471 498 460 496 458 497 456 499ZM467 45 471 47 474 48 477 46 483 42 484 39 483 35 479 29 477 27 474 26 470 27 464 33 463 36 463 39ZM458 -12 454 -11 451 -8 450 -4 452 1 454 4 462 8 465 8 468 8 470 6 475 -1 476 -4 475 -7 473 -9 470 -11ZM457 279 455 284 457 290 459 293 468 297 471 297 474 296 481 286 482 284 481 280 479 278 475 275 473 275 462 276 460 277ZM458 443 460 446 467 448 470 449 473 448 479 443 481 440 481 437 480 432 478 430 471 426 467 425 465 426 462 428 457 436 456 440ZM460 266 462 269 466 271 470 271 474 269 475 266 477 254 476 251 474 248 471 247 466 246 464 248 460 251 459 255ZM469 219 466 218 463 220 461 223 461 227 466 240 470 242 475 243 477 242 479 239 484 231 484 226 483 224 481 222ZM469 412 468 416 469 420 476 424 478 425 481 425 484 423 488 418 489 415 489 411 487 409 477 405 475 405 472 407ZM471 332 474 336 478 338 486 336 489 334 491 332 491 328 485 318 482 316 478 315 476 316 473 318 471 320 470 323ZM461 79 462 83 464 85 471 88 475 88 479 86 481 84 484 76 484 73 482 70 480 69 473 64 469 64 464 67 462 69ZM476 514 475 518 476 521 484 529 487 530 490 530 492 529 494 527 496 524 497 513 496 510 494 508 487 505 483 505 480 507ZM473 178 471 181 471 184 474 190 476 191 479 192 486 193 489 193 491 190 492 186 491 176 490 173 488 171 485 170 481 170ZM464 139 463 143 465 147 467 149 475 152 478 152 481 151 485 146 485 142 483 135 480 133 475 131 471 130 468 132 466 134ZM471 17 473 19 475 21 479 21 481 20 491 13 492 9 491 5 488 2 486 0 482 -0 479 1 471 11 471 14ZM477 450 475 453 474 456 476 465 478 468 484 472 486 473 489 473 493 472 496 470 498 468 498 464 496 450 494 446 489 444 485 444 483 445ZM476 307 478 310 480 311 484 312 487 311 496 304 497 300 496 297 494 294 489 292 486 291 483 292 476 300 475 304ZM479 264 479 268 481 270 484 272 487 273 489 272 496 268 498 265 498 262 497 258 495 256 489 254 486 254 484 254 481 257ZM477 359 478 362 481 365 485 365 489 363 490 361 495 348 494 345 493 342 490 341 487 340 480 342 477 344 475 348ZM502 555 504 558 507 560 518 560 522 559 525 555 528 518 527 516 519 507 516 505 512 505 505 508 502 510 501 512 498 541ZM472 115 470 118 470 122 471 124 474 126 481 129 484 129 487 128 490 124 491 120 490 116 489 114 486 112 477 112 475 113ZM471 206 471 210 471 212 473 214 475 216 485 218 488 217 491 213 491 211 490 202 488 200 485 198 480 197 476 198 474 200ZM475 390 474 393 474 396 475 399 478 401 490 404 493 403 496 400 496 396 493 385 491 383 489 381 486 381 483 382ZM478 51 476 54 475 56 476 60 477 62 487 68 491 68 495 66 496 61 496 51 495 49 494 46 490 45 487 45ZM487 93 484 92 481 92 479 93 476 96 476 99 476 103 478 105 480 107 483 108 487 108 490 106 492 104 493 101 492 98 490 95ZM484 154 483 157 484 163 486 165 491 168 495 168 503 166 505 164 506 162 506 158 504 153 503 151 500 149 490 149 487 150ZM484 239 483 243 485 247 487 249 494 251 497 250 499 249 503 243 504 240 504 237 502 234 498 230 494 229 491 229 489 231ZM483 493 484 497 486 500 497 505 501 505 512 501 514 499 515 496 517 486 513 479 511 477 503 474 500 474 490 477 488 479 487 481ZM487 21 485 24 484 28 488 37 491 39 494 40 497 40 499 39 501 37 502 33 503 23 501 19 499 17 495 17 492 17ZM488 139 490 142 493 144 500 145 503 144 505 142 506 138 504 130 503 128 500 127 497 126 494 127 488 132 488 136ZM495 118 496 121 499 123 503 123 506 122 516 113 517 109 516 106 511 101 509 100 505 99 500 101 499 103 494 110 493 113ZM493 312 491 315 491 318 496 328 498 330 500 331 503 331 505 330 514 318 514 315 513 312 507 306 503 306 499 307ZM485 435 487 438 489 440 496 442 499 441 511 434 512 430 511 424 503 416 500 415 497 415 494 417 485 428 484 431ZM506 194 498 195 496 196 494 199 494 202 495 208 496 211 499 213 503 213 507 212 510 210 513 203 513 200 512 197 509 195ZM497 70 490 73 488 75 486 83 486 87 488 89 498 96 501 96 504 95 506 93 507 91 509 80 508 77 506 74 500 71ZM500 347 494 364 495 366 496 368 498 370 501 370 507 370 511 368 513 366 513 363 514 351 513 346 510 344 507 343 505 343 502 344ZM491 276 487 279 487 282 487 285 490 288 497 291 501 291 504 289 510 278 510 276 509 273 507 271 504 270 500 271ZM494 -11 491 -9 490 -7 490 -4 490 -2 493 2 495 3 497 4 501 3 508 -4 509 -6 508 -10 506 -12 502 -14 500 -14ZM496 184 497 187 501 189 504 190 508 188 510 185 512 178 511 175 509 172 507 170 504 170 498 172 496 176ZM512 48 510 46 506 45 503 46 501 48 500 52 500 59 501 61 504 64 507 65 510 64 513 62 515 58 516 56 516 53ZM501 257 504 265 506 267 510 268 512 268 516 266 523 258 524 256 524 252 522 245 520 242 517 241 513 241 510 241 508 243 501 254ZM506 293 505 297 507 301 513 306 517 307 521 306 527 301 528 298 529 291 528 289 527 287 521 283 517 282 514 282 512 284ZM514 141 510 142 508 146 507 150 510 154 512 156 515 157 523 155 525 153 527 151 528 148 527 146 526 143 522 141ZM504 443 501 445 500 449 502 466 504 468 506 470 508 471 511 471 515 468 523 456 524 453 524 450 521 442 519 440 517 438 512 438ZM516 -11 518 -7 523 -3 526 -2 530 -3 535 -7 536 -9 537 -12 536 -14 528 -30 525 -33 523 -34 520 -33 518 -32 516 -30 513 -20ZM507 4 505 7 505 10 507 14 510 15 513 15 519 14 522 13 524 9 524 6 523 3 520 -1 517 -2 514 -2 512 -1ZM499 392 502 395 506 397 510 396 514 392 515 388 513 379 512 377 510 375 507 374 501 374 499 376 497 378 496 382ZM519 160 516 162 513 165 513 169 515 172 517 173 520 174 526 174 529 172 531 170 532 167 531 164 530 161 528 159 525 159ZM505 217 502 219 500 222 500 225 502 228 508 235 511 236 517 237 521 235 523 233 523 230 523 225 521 222 512 216 509 215ZM507 402 504 406 505 410 510 416 514 418 516 418 519 416 528 409 530 405 530 402 528 399 520 396 516 397ZM516 64 515 68 516 71 518 74 522 75 528 75 531 73 533 70 534 63 533 60 532 58 528 56 525 56 520 58ZM510 331 509 335 510 338 515 343 518 344 532 342 535 340 537 337 537 334 535 331 521 323 518 323 515 324ZM506 28 507 32 509 34 511 35 514 36 517 35 520 32 522 30 522 27 522 24 520 21 518 20 514 19 511 20 508 22 507 25ZM565 523 565 520 564 517 556 511 553 510 550 511 536 517 534 518 532 522 529 552 530 556 531 558 534 559 536 560 551 560 555 558 557 555ZM527 511 531 513 534 513 549 507 551 505 552 502 552 498 550 495 540 486 538 485 534 485 523 487 520 491 519 500 520 503ZM514 186 514 190 515 193 518 195 522 195 525 193 527 191 529 186 529 184 528 181 526 179 524 178 520 178 518 179 516 181ZM520 268 518 272 520 277 530 284 533 285 539 283 542 281 543 278 545 268 545 265 542 262 531 259 526 260ZM516 430 518 433 520 435 523 436 526 436 543 429 545 425 545 420 543 417 536 413 534 412 531 413 518 422 516 426ZM518 480 520 482 523 483 534 481 537 480 538 477 543 468 543 465 542 462 539 460 532 457 530 457 526 458 525 460 517 473 517 476ZM525 373 521 374 518 377 518 381 519 388 520 390 522 392 527 394 530 394 533 392 538 387 539 384 539 382 536 377 534 375 532 374ZM519 215 522 216 526 216 528 214 531 210 532 207 532 205 531 202 528 200 525 199 521 199 519 200 517 202 515 207 515 210 517 213ZM511 124 509 127 509 130 510 134 513 136 515 137 523 137 526 136 528 134 529 128 529 125 526 120 524 118 521 117 518 118ZM535 15 532 15 529 16 526 19 526 22 528 30 531 32 535 33 538 33 541 30 542 28 543 23 542 21 541 18ZM532 236 528 237 526 241 526 245 529 253 532 255 544 258 546 258 550 257 552 254 554 243 554 240 551 237 549 235 546 234ZM513 84 511 95 513 98 520 104 524 105 527 104 538 97 541 94 541 92 540 88 535 81 533 80 529 79 518 79 515 81ZM534 145 536 148 539 149 551 148 554 147 556 145 557 142 558 134 557 130 555 128 551 127 538 128 535 129 533 132 531 137 532 141ZM519 50 522 52 524 52 528 52 531 50 532 48 533 43 533 40 531 37 528 35 525 35 520 37 518 39 517 42 516 44 517 47ZM531 107 529 109 528 113 529 116 533 122 537 124 546 123 548 123 550 121 552 117 551 107 550 104 548 102 545 100 541 100ZM524 308 522 311 522 314 522 316 524 319 534 325 538 325 542 323 544 317 543 314 541 312 532 306 528 306ZM533 199 536 201 540 201 543 199 546 195 547 191 547 189 543 183 541 182 538 182 536 183 534 185 531 194 532 197ZM536 50 535 53 537 56 539 58 542 59 553 58 557 55 558 52 558 49 554 41 552 40 545 37 542 38 539 40ZM528 220 527 224 528 228 531 231 534 232 544 230 547 229 549 226 550 220 550 218 548 215 543 211 540 210 535 212ZM535 396 534 399 534 401 535 406 537 408 545 414 548 414 552 413 556 410 557 407 557 404 552 391 550 389 546 388 542 388ZM518 361 519 366 522 368 531 369 534 369 537 366 541 357 541 354 540 350 538 348 535 346 522 348 520 350 518 353ZM550 339 546 341 544 345 545 351 548 355 560 359 563 360 565 359 572 355 574 353 576 348 576 346 574 341 571 339 568 338ZM536 72 536 76 539 81 542 83 545 83 548 82 556 76 558 73 558 70 557 66 554 63 551 62 543 63 541 64 539 65ZM537 288 534 291 532 296 533 300 535 303 544 308 547 309 550 309 557 305 558 302 558 300 556 295 545 287 541 286ZM527 448 528 451 531 453 545 458 548 458 551 457 553 455 556 450 556 447 555 444 549 436 547 435 543 434 531 438 529 440 527 443ZM534 -1 532 1 531 4 532 7 534 10 543 14 546 14 550 11 551 9 551 6 550 -1 548 -4 545 -5 542 -6ZM559 468 554 466 550 467 548 469 543 477 543 481 544 484 551 489 554 490 557 489 564 483 565 481 566 478 565 475ZM542 153 538 154 536 157 535 159 536 168 536 170 538 173 540 174 543 174 546 174 556 166 558 163 558 159 557 155 554 153ZM548 316 545 329 546 331 548 333 550 335 561 334 565 333 567 330 568 327 565 316 564 313 561 311 558 310 556 311 551 313ZM547 201 546 205 546 208 550 212 553 214 557 214 564 211 566 209 568 206 568 203 565 196 563 194 561 193 555 193 553 194 551 195ZM546 27 547 31 549 34 553 35 556 34 565 26 566 23 566 19 564 17 562 15 557 14 553 14 548 19ZM549 87 546 91 547 95 549 98 552 100 555 101 567 99 573 92 574 89 574 85 572 83 563 78 558 79ZM547 278 547 282 549 285 558 291 562 292 565 291 568 289 572 278 572 275 571 272 569 270 559 266 555 265 553 266 550 268ZM542 379 545 382 550 383 553 383 557 380 559 376 560 369 560 366 558 363 556 362 549 360 546 360 543 362 540 369 539 372 540 374ZM550 186 552 188 555 189 562 188 564 186 566 183 567 181 566 178 563 174 561 172 558 172 555 172 551 175 549 178 548 182ZM556 120 558 124 562 127 566 126 570 124 572 122 574 119 573 116 569 107 567 105 565 104 561 104 559 105 557 107 555 111ZM553 228 553 232 556 236 559 238 561 239 573 237 576 236 579 233 580 229 581 226 576 215 574 213 570 213 557 218 555 221ZM549 427 550 432 558 441 560 443 564 443 571 441 573 439 574 437 576 428 576 425 569 414 566 412 563 412 561 413 552 418 550 421ZM561 143 563 147 567 150 582 151 585 150 588 147 589 144 587 131 587 128 584 125 579 124 565 131 562 134ZM558 493 556 498 556 505 558 508 564 512 567 512 570 511 578 503 578 499 576 491 574 489 572 487 569 486 566 487ZM565 383 562 383 559 385 557 388 556 391 561 403 564 405 567 406 571 404 578 397 579 395 579 392 579 389 576 387ZM576 305 573 305 571 307 569 309 568 313 572 326 575 329 579 329 582 328 592 320 594 318 594 314 593 310 590 307ZM567 55 563 57 561 60 561 63 563 72 565 74 574 80 578 80 581 79 586 74 587 71 587 68 582 57 580 55 577 54ZM554 -2 556 8 559 10 572 15 575 14 577 12 580 6 580 4 578 -4 576 -7 566 -11 563 -12 559 -10 556 -8 554 -5ZM562 163 563 167 568 174 572 177 575 177 584 176 587 174 588 171 588 160 587 157 584 155 570 154 567 155 563 158ZM571 291 571 296 574 300 576 301 589 302 592 301 594 299 599 288 599 283 597 280 588 273 584 271 582 272 579 273 578 275ZM561 36 559 39 559 42 561 47 563 49 565 50 568 51 572 50 575 48 577 45 577 43 576 35 574 32 571 30 567 31 565 32ZM568 188 568 192 572 202 575 205 578 206 582 205 592 197 594 195 595 188 595 185 592 182 590 180 587 179 573 182 570 184ZM576 419 580 421 583 421 593 418 596 416 597 414 598 408 595 399 593 397 589 395 585 396 574 407 573 409 573 413ZM558 455 557 458 558 461 571 475 573 476 577 475 582 472 585 470 585 465 581 450 580 447 578 445 573 445 563 448 560 450ZM556 254 556 258 558 261 576 268 579 268 582 266 584 264 585 260 585 256 579 244 577 242 575 241 572 241 560 243 558 246ZM581 40 582 43 584 45 586 46 590 46 599 40 600 37 600 33 599 31 597 29 589 26 585 26 582 28 580 31ZM571 360 566 364 565 367 564 374 565 378 568 380 579 383 582 383 585 381 587 378 587 374 579 362 577 361 574 360ZM578 509 577 513 577 516 578 518 581 520 591 522 594 522 598 520 600 518 602 512 601 510 600 507 598 505 596 504 584 504 581 505ZM573 98 572 101 572 104 579 117 581 119 583 120 586 119 588 118 591 115 593 108 593 105 591 102 584 95 582 94 577 95ZM584 232 581 238 582 240 586 249 589 252 592 253 595 252 602 249 604 246 605 243 604 240 601 233 598 230 595 230 587 229ZM579 435 580 439 583 443 587 443 596 441 599 439 601 437 602 432 602 429 599 424 596 422 593 423 582 427 580 429ZM585 81 583 85 584 89 593 98 595 100 600 100 610 95 613 93 614 91 615 85 614 83 609 77 607 75 593 75 590 76ZM588 348 585 349 582 350 581 353 580 355 581 359 588 367 591 369 594 369 604 364 605 361 605 359 604 353 603 351 599 349ZM592 173 594 177 599 183 602 183 608 182 611 181 618 172 619 169 619 166 618 163 609 154 606 153 598 154 595 156 593 158ZM591 377 590 385 591 388 593 390 596 391 599 390 613 386 616 384 617 381 617 372 616 370 614 368 610 367 607 367 593 375ZM596 308 600 315 603 316 606 317 608 316 621 308 623 305 622 301 619 298 608 293 605 293 602 293 600 296 596 304ZM589 263 588 266 590 269 597 275 601 276 604 276 615 269 617 267 618 264 615 254 613 251 609 250 606 251 592 258 590 260ZM584 332 582 335 581 339 583 342 587 344 602 344 605 342 608 338 608 334 605 326 603 324 600 322 598 322 595 323ZM591 483 589 480 585 480 581 482 579 485 579 489 582 496 583 498 586 499 593 499 595 498 597 495 597 492 597 490ZM583 -3 585 -0 588 1 600 0 604 -1 605 -4 606 -8 603 -18 602 -20 597 -22 594 -22 592 -21 583 -10 582 -7ZM598 469 595 471 593 476 594 479 598 485 601 487 605 487 612 483 613 480 615 475 614 471 613 469 610 468 608 467ZM608 410 604 412 601 416 601 420 604 424 606 425 610 425 618 424 622 422 623 420 623 417 623 415 621 412 617 411ZM588 460 590 463 594 465 606 463 609 462 611 460 612 458 612 455 610 452 603 445 599 444 592 446 588 448 586 451 586 454ZM583 221 585 223 588 225 599 225 602 224 605 220 606 218 606 214 605 212 598 204 596 203 592 203 584 208 582 211 581 215ZM610 359 612 363 619 366 622 365 630 362 633 359 635 350 636 347 635 345 633 342 630 341 616 340 612 341 610 343 608 347ZM598 194 598 196 599 200 609 210 611 212 614 212 618 211 623 205 623 201 622 198 613 189 611 187 608 187 602 188 600 190ZM600 125 595 126 592 129 592 132 593 144 595 147 597 149 606 149 609 147 614 141 615 139 615 136 612 129 610 127 608 126ZM582 11 582 15 584 19 599 26 602 26 605 24 609 16 609 13 607 8 605 6 602 5 587 6 584 8ZM601 71 605 70 608 68 612 51 612 49 611 46 609 44 606 43 602 44 590 50 588 52 587 55 587 58 591 68 595 70ZM596 112 596 116 598 120 601 121 608 122 610 122 613 120 616 116 617 113 615 104 613 102 609 101 606 101 599 105 597 108ZM616 -3 612 -1 611 3 611 6 613 11 615 13 618 13 624 14 628 12 630 9 631 3 631 1 630 -2 627 -3 625 -4ZM606 225 605 228 605 231 609 241 612 243 615 244 618 243 626 237 627 233 626 230 618 220 615 219 612 220 610 221ZM602 498 602 502 604 505 606 507 609 508 616 507 619 506 622 502 623 498 622 495 618 491 616 489 613 488 610 489 604 493 603 495ZM625 53 623 52 619 53 617 54 615 57 611 71 613 75 617 78 621 78 634 73 637 71 638 69 638 65 637 61ZM607 36 609 39 613 42 617 43 620 42 631 31 632 29 632 25 631 21 629 19 626 18 617 17 614 19 612 20 607 30 606 32ZM611 512 608 513 605 515 604 519 605 522 616 534 619 536 623 535 625 533 627 531 628 524 627 520 620 512 617 511ZM612 448 615 449 618 450 621 448 623 446 625 435 624 432 621 429 618 428 611 429 608 431 606 433 605 438 605 441 607 443ZM616 128 619 134 622 136 630 136 632 135 635 133 636 131 637 126 636 123 634 121 632 120 625 118 621 118 618 120 616 124ZM610 277 608 279 606 283 607 286 609 289 621 294 625 293 627 291 629 287 629 278 628 275 626 273 623 272 620 272ZM606 392 603 394 601 398 602 402 604 405 607 406 616 406 620 405 622 403 624 399 624 396 623 393 621 391 616 389ZM629 99 626 99 623 100 621 103 620 107 621 110 623 113 629 115 632 115 635 114 637 112 638 109 638 106 636 102ZM615 146 614 150 615 154 623 163 627 165 630 165 633 163 640 152 642 149 641 146 640 144 637 141 634 140 621 140 618 142ZM629 417 631 419 634 421 640 420 644 418 650 407 651 405 651 401 647 396 645 394 642 394 632 395 629 398 627 400 625 408 626 411ZM626 475 623 475 621 476 619 479 618 483 619 486 624 491 627 492 629 492 633 491 634 489 636 484 636 481 635 479 633 477ZM617 467 619 469 621 470 636 472 638 472 641 471 643 469 645 462 645 459 643 457 641 455 628 451 625 451 619 454 617 457 616 463ZM623 263 626 267 631 269 638 266 641 264 642 260 642 245 640 241 638 239 635 238 631 239 620 248 619 252ZM621 382 622 386 625 390 627 391 631 392 641 390 643 389 646 386 646 381 645 377 636 368 634 367 631 366 625 369 623 371 622 374ZM611 331 612 334 615 336 631 337 634 336 636 333 637 326 630 314 627 313 624 312 612 318 610 320 609 325ZM627 547 628 555 630 558 632 559 634 560 644 560 647 559 649 558 651 554 654 525 653 521 652 519 649 518 646 518 636 522 633 523 632 526ZM631 498 628 500 625 505 624 509 626 512 629 516 633 518 636 517 643 514 645 512 646 509 646 507 645 504 636 498 634 497ZM618 179 616 183 617 187 624 194 627 196 630 196 633 194 640 183 640 181 639 178 634 172 630 170 627 170 625 171ZM638 300 633 302 632 304 632 307 632 310 638 319 641 321 644 321 653 317 655 315 656 312 654 303 653 301 650 299 648 298ZM626 81 623 83 622 87 623 90 625 93 638 97 642 96 646 92 647 89 646 86 640 78 637 77 635 77ZM623 211 622 215 623 219 630 228 633 229 636 230 639 228 646 218 646 214 644 211 634 204 631 204 628 205ZM628 40 626 43 626 45 627 49 629 51 641 58 645 58 649 54 650 51 650 47 649 44 647 42 636 36 632 37ZM634 9 634 11 636 14 638 16 641 17 653 14 656 11 657 8 656 5 652 -1 646 -5 643 -5 640 -4 637 -2ZM647 120 644 121 641 124 640 136 641 138 645 144 648 145 651 145 653 144 656 142 662 129 662 125 661 122 658 120 655 119ZM639 489 639 492 640 495 647 501 650 501 653 501 655 500 657 497 658 490 657 486 655 484 650 480 646 480 643 481 640 484ZM633 288 635 293 639 295 651 294 654 292 656 290 657 286 653 275 652 272 650 270 644 269 635 272 634 274 633 276ZM628 441 629 445 631 447 641 450 644 451 647 449 649 447 652 440 652 437 650 434 644 426 641 424 635 425 632 426 630 429ZM640 335 640 338 641 341 643 343 646 343 661 345 665 343 667 340 667 337 663 325 661 323 658 321 655 321 643 326 641 329ZM643 177 647 179 655 180 662 176 663 173 666 167 664 158 662 156 655 151 650 150 646 152 637 164 637 167 637 169ZM638 194 637 197 638 201 646 208 648 209 651 209 654 208 656 206 657 203 657 201 655 189 652 186 648 184 644 185 642 187ZM642 104 643 112 644 114 646 116 650 116 656 115 658 114 661 111 661 108 660 105 655 98 653 97 650 96 647 97 643 101ZM637 358 637 361 638 364 646 373 649 374 653 374 663 369 665 367 666 364 664 354 663 351 660 350 646 348 643 348 639 351ZM644 229 642 232 643 236 645 238 648 240 663 240 666 238 668 235 668 231 667 228 658 220 655 219 652 219 649 221ZM643 21 639 22 637 25 637 29 638 32 647 38 650 38 653 37 656 34 657 31 656 25 655 23 653 21 651 20ZM642 69 642 72 643 75 649 83 652 84 655 84 657 84 663 80 665 76 665 67 664 64 662 61 655 59 651 59 645 62 644 64ZM649 388 650 392 655 400 659 402 664 402 678 395 680 393 681 390 683 381 681 379 679 377 671 372 667 371 652 379 650 382ZM672 14 669 12 666 12 662 13 660 16 660 19 661 28 663 31 665 32 670 33 673 33 675 31 678 28 678 25 678 22ZM655 505 653 509 653 513 656 517 659 519 666 519 668 518 671 516 674 512 675 509 674 506 672 504 670 503 663 501 661 501 658 502ZM647 468 647 471 649 474 657 480 659 481 663 481 668 478 670 476 671 474 671 468 669 464 667 463 657 460 653 460 650 462 649 464ZM648 424 655 433 658 434 665 433 669 431 671 428 671 424 666 411 664 409 662 407 658 407 655 409 648 419 648 422ZM655 41 654 45 654 50 655 53 658 55 664 58 668 58 675 55 677 51 678 49 677 46 675 40 672 38 664 36 661 36 658 38ZM646 250 647 263 648 265 651 267 653 267 657 266 664 261 666 260 667 256 668 250 667 247 664 245 661 244 652 244 649 245 647 247ZM671 293 662 292 659 294 658 297 657 300 660 312 663 314 667 315 671 313 673 311 676 299 676 297 673 294ZM661 86 658 89 658 93 659 96 666 106 669 108 671 108 678 105 680 102 680 99 677 88 676 86 671 83 668 82 665 83ZM656 441 653 450 653 453 656 455 658 456 669 459 673 457 675 453 674 442 673 439 670 437 667 437 658 439ZM671 184 668 183 664 183 661 184 659 187 659 190 660 197 662 199 665 201 668 201 674 200 677 198 678 196 678 193 677 190ZM701 -9 703 -6 705 -4 707 -3 711 -4 713 -5 726 -19 727 -22 728 -41 727 -45 724 -47 721 -48 701 -48 698 -47 696 -44 695 -40ZM670 346 669 349 668 352 671 364 672 367 685 375 688 375 694 372 695 369 700 357 700 354 698 351 696 349 680 343 674 344ZM660 142 660 145 661 149 664 151 668 152 679 146 681 143 681 140 681 137 679 135 674 131 670 130 667 131 665 133ZM662 491 662 494 665 497 675 500 678 500 681 498 682 496 683 492 683 489 681 486 675 482 672 481 669 482 664 485 662 488ZM660 283 662 287 665 288 671 289 675 287 678 284 679 274 679 271 678 268 673 265 670 264 667 265 660 269 658 271 658 274ZM669 330 671 333 673 334 676 335 679 334 682 331 684 327 684 324 683 322 681 320 676 317 673 317 671 318 669 320 668 323ZM674 421 677 424 680 425 682 425 685 423 693 415 693 412 692 409 683 400 680 399 678 400 672 403 670 405 670 410ZM670 74 671 77 673 79 676 81 680 80 688 74 689 71 689 68 688 65 681 59 679 59 676 59 672 61 670 63 669 66ZM665 206 662 207 660 209 659 212 659 215 661 218 667 222 669 223 673 222 681 216 682 212 681 209 679 206 676 205ZM660 4 663 7 668 8 671 6 675 2 677 -0 677 -3 675 -10 672 -12 669 -13 665 -13 659 -6 658 -4 658 -1ZM685 500 685 504 687 507 692 510 696 510 704 505 705 503 706 493 706 490 704 487 700 486 697 486 691 489 688 492ZM673 112 671 114 669 117 670 121 671 123 683 132 687 132 691 130 693 126 693 123 687 111 685 109 681 109ZM679 243 675 245 672 248 672 256 673 260 680 264 683 265 685 265 694 262 696 259 699 252 699 249 697 247 693 244ZM675 -27 675 -23 681 -4 684 -2 686 -2 692 -2 694 -3 696 -6 697 -9 691 -38 689 -42 687 -43 684 -44 681 -43 679 -41 678 -39ZM680 170 677 171 675 172 673 175 673 178 674 182 678 185 681 187 684 187 687 185 689 183 690 181 690 178 689 174 687 172 685 171ZM678 5 676 9 676 12 677 15 682 21 686 22 694 22 697 21 699 19 700 16 701 8 700 5 698 3 694 2 683 3 680 3ZM672 233 674 237 677 239 691 240 694 240 696 238 698 236 698 233 697 230 692 221 689 219 687 218 683 219 674 227 673 229ZM679 308 679 312 681 315 686 317 690 317 692 315 694 313 696 305 696 302 694 299 692 297 687 296 685 297 681 300ZM683 463 679 463 676 467 675 473 676 477 684 484 687 485 690 485 696 482 699 480 700 476 696 466 693 464ZM676 517 675 520 675 524 677 528 681 530 684 530 687 529 691 524 692 522 693 518 691 516 686 512 683 511 681 512ZM689 441 684 440 680 443 679 446 679 454 681 457 684 458 692 459 695 459 698 457 700 454 701 451 700 449 698 445ZM675 153 672 155 671 159 672 162 675 165 677 166 686 167 690 165 692 162 693 159 692 156 691 153 686 150 681 149ZM679 40 681 43 685 45 688 44 695 41 697 39 698 37 698 32 697 29 695 27 693 26 687 26 683 27 682 29 679 35 678 37ZM682 199 682 203 685 208 688 210 692 210 695 209 705 200 707 197 707 194 706 192 704 189 696 187 693 187 684 192 683 194ZM682 284 682 288 684 291 687 292 693 293 696 292 698 290 702 285 702 281 696 270 693 268 690 268 686 269 684 272ZM685 391 685 394 687 397 696 406 700 408 703 407 705 405 714 394 715 390 714 387 712 385 699 377 695 377 691 378 688 381ZM684 95 686 99 690 100 693 100 698 97 700 94 702 83 701 80 700 78 697 76 693 76 683 83 682 85 682 88ZM689 136 687 139 687 144 689 147 692 150 695 150 698 150 701 149 707 141 709 138 708 135 707 132 705 131 700 130 696 131ZM686 333 685 337 687 340 689 342 696 344 699 344 702 341 704 334 704 331 702 328 698 325 694 324 692 324 689 326ZM696 45 687 50 685 53 685 55 687 59 696 68 700 68 704 67 705 65 708 59 708 55 707 53 702 47 699 45ZM715 8 710 7 706 9 704 12 703 18 704 20 705 23 708 25 718 27 721 27 724 25 725 23 725 16 723 13ZM711 238 707 239 704 242 703 247 705 251 707 252 722 259 725 259 728 258 730 255 730 253 730 246 729 243 725 241ZM705 419 701 417 697 418 689 426 687 428 687 431 687 433 689 436 698 440 702 440 705 438 706 435 708 425 707 422ZM700 184 703 184 707 182 709 179 711 172 710 169 708 167 703 164 700 163 697 163 695 165 693 168 692 171 695 180 697 182ZM697 122 701 126 708 127 711 125 714 121 713 111 712 108 709 105 702 102 699 102 695 103 693 105 692 108 692 112ZM709 258 705 257 702 258 700 261 699 265 704 276 707 278 710 278 714 277 716 275 719 270 719 267 719 264 717 262ZM699 225 702 227 705 228 708 228 711 226 719 213 719 209 716 204 712 203 709 203 697 212 696 215 696 217ZM698 314 698 317 698 320 704 325 707 325 710 325 712 324 714 321 715 313 713 310 711 308 706 306 702 307 699 310ZM703 43 712 51 715 52 722 50 725 48 728 43 729 40 729 37 727 34 724 33 710 30 707 30 704 31 702 35 702 40ZM704 477 707 481 712 481 721 479 726 473 726 471 726 468 721 455 718 453 712 451 708 451 705 453 701 459 700 462 700 465ZM701 367 700 370 702 374 713 381 715 382 719 381 721 379 727 373 728 369 727 366 721 358 719 356 716 355 710 355 706 357 704 359ZM701 511 699 514 698 516 699 520 701 522 705 525 709 525 712 524 715 521 716 518 716 515 714 512 712 510 709 509 707 509ZM715 527 713 530 713 533 718 555 720 557 722 558 725 559 727 558 730 556 731 554 736 527 735 523 731 518 729 517 725 517 722 519ZM708 147 704 152 703 156 704 158 706 161 712 164 715 165 720 164 723 161 724 157 723 153 716 146 713 145 710 146ZM710 439 710 444 712 446 717 448 720 448 723 447 729 441 731 439 731 435 727 427 725 425 722 424 717 424 714 425 712 427ZM702 291 701 296 703 299 705 301 715 305 717 306 720 305 724 303 726 300 727 296 725 293 714 285 711 284 707 285ZM713 136 716 140 724 148 726 149 731 149 735 146 737 144 738 141 738 139 735 131 734 128 730 127 720 126 717 127 714 131ZM710 66 709 71 711 74 724 79 726 80 730 78 731 76 734 71 734 68 733 66 728 57 724 55 720 55 715 57 713 59ZM706 343 706 347 709 350 712 351 718 351 721 350 727 342 729 339 729 336 728 334 725 332 718 329 714 329 711 330 709 332ZM711 191 714 194 719 195 731 188 733 186 734 184 735 178 733 174 727 169 725 168 722 168 718 169 716 172 711 186 710 188ZM709 418 713 420 721 420 724 419 726 417 728 414 728 411 726 403 723 400 719 398 715 399 708 408 707 410 707 413 708 416ZM704 92 704 96 706 99 711 102 715 102 718 101 727 95 728 93 729 90 728 87 725 84 715 81 712 80 710 81 707 83ZM711 491 710 502 712 505 721 512 724 513 727 512 730 510 733 502 732 498 724 487 722 485 719 485 714 485 712 488ZM718 319 719 322 721 325 726 328 729 328 733 326 736 322 737 320 738 317 736 313 731 308 728 307 726 307 722 309 720 311ZM720 276 719 279 720 282 721 285 726 288 729 289 731 289 734 288 736 286 737 283 736 272 735 269 733 267 730 266 726 267 724 269ZM730 22 731 26 732 28 735 29 739 29 749 24 751 21 751 17 750 15 745 9 743 8 739 8 733 12 731 13 730 17ZM732 372 725 382 725 385 727 389 730 391 738 391 742 390 744 388 747 382 748 379 746 375 743 372 740 371 736 371ZM728 477 726 481 727 485 734 494 737 496 740 496 753 493 755 491 757 488 758 486 757 482 749 472 746 471 743 470 732 472 730 474ZM727 349 725 353 725 356 731 364 733 365 736 366 738 365 740 364 742 362 745 353 744 350 743 347 737 344 734 344 730 345ZM726 237 729 236 732 235 733 233 734 229 732 220 729 217 725 216 723 217 720 219 716 226 715 229 716 232 718 234 720 236ZM742 449 739 445 734 444 731 445 726 450 725 453 725 456 729 464 732 467 735 468 740 467 742 466 744 463 745 459ZM737 518 740 520 742 521 755 519 758 518 760 515 761 512 759 502 757 500 754 498 752 497 740 500 738 502 736 504 734 512 735 515ZM733 88 735 91 738 92 750 90 753 89 754 87 756 82 756 78 752 73 749 71 747 71 740 72 738 74 733 82 732 84ZM718 116 719 120 723 122 732 123 736 121 738 118 739 114 734 103 731 100 728 100 720 105 717 109ZM728 159 728 162 729 165 735 170 738 171 741 171 749 168 751 166 752 163 752 161 750 151 748 148 744 147 740 147 731 153 729 155ZM723 208 725 211 731 213 735 214 746 208 747 205 747 201 745 198 738 193 735 192 733 192 724 197 722 199 721 203ZM731 -21 732 -17 739 -7 741 -6 745 -5 747 -5 752 -9 754 -11 755 -15 749 -43 748 -45 745 -47 742 -48 738 -48 735 -47 733 -45 732 -41ZM724 8 727 9 730 8 736 5 737 2 738 -1 737 -4 733 -9 730 -11 726 -11 724 -10 718 -4 717 -2 716 1 718 4 720 6ZM742 313 746 315 751 314 753 313 756 309 757 300 756 297 753 293 741 290 737 291 733 294 731 296 731 300 732 304ZM736 416 733 418 731 420 730 423 730 425 736 435 739 436 743 436 746 434 747 432 751 424 750 419 748 417 745 415ZM734 255 736 260 740 262 749 261 752 260 754 257 755 253 752 243 750 241 748 239 746 238 741 238 737 240 735 244ZM742 48 738 48 735 49 733 52 732 56 733 59 738 65 741 67 745 67 748 66 750 63 752 58 752 56 749 51ZM735 330 734 334 736 339 743 343 747 343 750 341 751 339 758 328 758 324 756 321 753 319 746 319 742 321ZM756 442 753 441 750 442 748 443 746 446 746 450 747 453 749 455 752 457 754 457 757 456 760 454 761 451 762 448 761 446 759 444ZM740 411 743 410 745 408 746 405 745 402 743 398 741 396 738 395 734 395 732 397 730 400 730 403 731 407 732 410 735 411 737 412ZM767 402 757 408 755 411 755 414 756 416 759 419 766 421 769 421 772 419 776 410 776 407 775 405 773 403 771 402ZM738 184 738 187 740 189 748 195 751 195 754 195 756 193 757 191 757 187 755 178 753 175 751 174 747 173 741 176 739 179ZM743 32 740 34 739 38 739 41 741 44 753 48 757 47 759 45 761 42 760 35 759 33 756 30 753 28 750 28ZM742 120 739 125 739 128 742 139 744 142 747 143 751 144 754 143 758 141 760 137 761 127 760 123 758 121 755 119 745 119ZM738 228 739 231 742 234 750 234 753 233 757 229 758 227 758 223 752 215 749 213 745 213 740 216 738 219 737 222ZM757 353 753 352 750 354 748 357 745 365 746 368 747 370 752 374 755 375 758 375 761 374 763 372 763 369 763 358 761 355ZM748 399 752 403 756 403 758 402 770 396 772 393 772 390 769 382 767 381 764 380 757 380 753 381 751 383 747 392 747 395ZM741 280 742 284 745 286 750 288 754 286 756 284 760 274 759 271 758 268 755 266 753 265 746 266 744 267 742 269 741 271ZM742 110 743 113 746 115 757 115 759 114 761 112 762 109 762 107 761 104 755 96 753 95 749 95 743 96 740 99 739 103ZM766 234 763 233 760 233 757 235 755 239 755 241 758 249 760 251 763 253 766 253 772 251 774 248 775 246 775 242 774 240ZM755 462 753 464 752 467 752 469 754 472 762 482 765 482 769 481 775 474 777 471 777 467 772 458 770 456 766 455ZM763 319 765 321 771 322 776 322 791 315 793 311 792 306 790 303 777 296 774 296 765 299 763 300 761 302 760 312 760 316ZM750 -3 748 1 748 5 750 9 753 11 756 12 759 11 766 7 768 4 769 0 767 -3 765 -5 761 -7 756 -7ZM752 205 752 207 753 210 759 217 762 219 765 219 768 218 774 213 776 210 776 207 774 204 769 198 765 196 761 196 755 200 753 201ZM754 64 754 67 755 70 760 75 764 76 767 75 769 73 775 64 776 60 774 56 772 55 766 52 762 52 760 53 758 55ZM775 118 770 118 766 121 765 123 764 135 765 138 768 140 776 143 778 143 790 136 792 133 793 130 792 127 789 125ZM756 159 758 162 761 165 769 165 772 164 775 162 776 159 776 152 776 149 774 147 771 146 764 144 760 144 756 147 755 150ZM773 169 763 169 761 171 759 174 759 176 762 186 764 188 768 188 772 187 777 180 779 178 779 175 778 172 775 170ZM772 490 769 488 765 490 762 493 762 496 765 513 768 515 774 516 778 515 785 508 786 506 787 503 786 500 784 498ZM763 441 768 442 771 440 773 436 773 432 771 428 769 426 761 424 757 424 755 426 753 428 753 431 753 434 755 437ZM767 363 768 367 770 369 774 370 777 370 785 362 787 359 786 355 785 353 781 351 778 350 775 351 770 354 768 356 767 358ZM756 340 755 343 756 347 758 349 764 351 767 351 772 348 774 346 775 343 773 332 771 329 768 328 764 328 762 330ZM760 284 760 288 761 291 764 293 768 294 771 293 774 290 775 288 775 281 774 279 772 277 770 276 767 276 765 277 763 278ZM760 84 757 90 758 94 763 100 765 101 768 102 771 101 777 95 777 91 776 88 768 81 765 81 762 82ZM760 15 757 18 756 22 758 26 762 29 765 30 767 29 775 26 777 23 778 20 777 15 776 12 773 11 771 10 768 10ZM766 257 762 260 761 264 762 268 765 271 778 273 785 270 787 267 788 263 787 260 779 254 775 254ZM773 219 768 223 767 226 768 229 770 232 774 235 777 236 781 235 784 233 785 230 785 226 784 224 781 220 779 219 776 218ZM765 43 766 46 768 48 773 50 777 50 779 49 788 41 790 37 789 34 787 31 784 29 781 28 778 29 767 34 765 37ZM773 -8 772 -4 773 0 776 3 780 4 812 -8 814 -10 815 -12 816 -15 816 -42 814 -46 812 -47 809 -48 805 -48 802 -46ZM774 104 773 107 773 110 775 113 777 115 805 127 812 127 814 125 815 123 816 120 816 96 815 93 812 90 808 90 784 93 782 95ZM777 201 779 203 784 203 811 193 814 192 815 189 815 187 815 184 813 181 810 180 790 177 786 178 783 179 774 191 773 196ZM774 72 773 76 774 80 780 87 783 88 786 89 797 87 800 85 802 83 802 79 800 75 784 67 781 67 778 68Z"/>
<path fill="#dedede" d="M-9 -2 -6 1 -2 2 4 -1 7 -4 8 -7 7 -22 6 -25 3 -27 -1 -28 -5 -26 -12 -14 -12 -9ZM-37 16 -42 19 -43 23 -42 27 -38 30 -13 36 -8 34 -5 28 -5 24 -7 16 -9 13 -11 12 -15 12ZM-6 495 -5 498 -2 499 1 499 4 498 16 488 17 484 15 480 5 472 2 472 -1 473 -8 480 -9 483 -9 486ZM-18 159 -20 161 -21 164 -20 167 -19 170 -14 173 -11 173 -8 173 -6 171 -4 169 -3 166 -4 163 -5 161 -9 158 -12 157 -15 157ZM10 227 -0 221 -3 221 -6 222 -8 224 -9 226 -11 240 -10 244 -8 246 2 251 6 251 9 250 12 247 13 245 12 231ZM-11 61 -7 68 -5 69 -2 69 1 68 10 62 12 58 11 54 9 52 -1 46 -3 46 -7 47 -10 50 -12 58ZM-38 256 -41 259 -42 263 -40 268 -37 270 -4 274 0 272 4 267 4 260 3 256 1 254 -13 248 -17 248ZM-12 135 -8 136 -4 135 6 122 6 120 6 116 5 114 1 111 -2 110 -5 111 -19 119 -22 122 -22 125 -21 129ZM-25 452 -28 451 -42 451 -44 452 -46 454 -48 457 -48 471 -47 473 -45 476 -42 478 -16 480 -14 480 -11 478 -6 471 -5 467 -6 465 -9 462ZM-5 460 -1 461 3 459 4 457 9 447 9 444 7 441 -2 436 -5 436 -7 437 -15 443 -17 447 -17 451 -15 453ZM-39 376 -42 378 -43 381 -43 385 -41 388 -37 389 -15 393 -12 393 -9 392 -3 384 -2 381 -2 378 -4 376 -11 368 -15 367 -18 367ZM-18 300 -16 300 -13 298 -4 288 -3 283 -5 279 -9 277 -40 273 -44 274 -46 276 -48 279 -48 291 -47 294 -45 297 -42 298ZM8 414 4 413 0 415 -3 419 -3 423 -2 428 -0 431 7 436 10 436 14 435 18 430 20 428 20 425 19 423 18 420ZM-11 418 -9 418 -6 416 -4 413 -3 410 -4 406 -11 398 -40 393 -44 393 -47 396 -48 399 -48 409 -47 412 -45 414 -42 415ZM-18 81 -20 83 -21 86 -21 89 -19 92 -9 96 -5 96 -3 94 -1 91 -1 88 -4 81 -5 79 -8 77 -11 77ZM-3 330 -7 331 -9 333 -10 336 -10 339 -7 347 -5 349 -2 350 6 350 8 349 10 347 14 341 14 338 13 335 11 333 9 332ZM-9 189 -16 194 -17 197 -17 200 -16 202 -9 209 -5 210 -2 209 0 206 3 200 3 197 2 194 -3 190 -6 189ZM-8 299 -10 302 -9 305 -8 308 -5 310 -2 310 5 308 7 306 9 304 9 301 8 298 5 294 2 293 -0 293 -3 293ZM11 273 6 273 2 276 1 280 3 286 12 296 15 298 19 298 26 295 28 293 29 290 29 284 28 281 25 278ZM2 84 4 87 7 88 10 88 15 86 17 83 17 81 16 74 14 71 12 69 9 69 6 70 2 73 0 75 -0 78ZM-4 175 -5 180 -4 184 0 187 4 187 7 186 9 184 13 176 14 172 13 170 11 168 8 167 5 167 2 169ZM3 100 2 103 3 107 7 110 10 111 25 105 27 103 28 99 27 97 25 92 22 90 19 89 16 90 6 95 4 97ZM-8 358 -9 362 -8 365 2 376 5 377 8 377 11 376 13 375 14 372 15 364 14 362 10 355 6 354 -3 354 -6 356ZM-16 510 -19 514 -18 519 -17 521 -9 528 -5 528 -2 527 4 521 5 518 6 515 5 513 2 506 -2 504 -5 503 -8 504ZM-3 401 -0 403 4 404 7 403 12 398 13 395 13 393 12 388 10 386 8 384 5 384 2 385 0 386 -5 394 -5 398ZM7 507 11 515 14 516 21 518 24 518 26 517 28 515 30 510 31 506 23 496 20 494 16 494 9 500 7 502ZM12 -6 13 -3 15 -1 18 1 20 1 23 0 32 -5 34 -9 34 -12 28 -43 27 -46 24 -48 18 -48 15 -47 12 -45 11 -43ZM0 6 -2 8 -4 11 -1 21 1 22 4 24 9 23 12 22 18 13 18 10 17 6 13 3 10 2 7 2ZM2 313 -0 315 -2 318 -2 321 -1 324 1 326 4 327 9 327 12 326 14 323 15 320 13 315 11 313 8 312ZM-3 32 -4 36 -2 41 10 48 13 49 16 48 18 46 20 42 21 39 20 36 14 29 11 28 9 27 1 28 -1 30ZM3 211 2 215 4 218 11 223 15 223 23 219 25 217 26 214 26 205 25 202 22 200 11 199 8 200 7 202ZM17 159 17 164 19 169 21 170 27 173 31 173 37 170 39 168 41 166 41 162 38 154 36 151 32 150 29 149 26 151 18 157ZM25 380 21 381 19 382 17 384 16 388 17 391 19 394 21 396 25 396 28 396 30 394 31 392 32 390 31 386 30 383 28 382ZM16 356 18 359 21 360 28 358 31 356 32 354 32 351 32 348 30 346 27 345 21 344 18 344 15 347 14 350 14 353ZM11 149 15 151 20 150 24 146 25 142 24 137 23 134 14 128 10 127 8 128 6 129 3 133 2 136 4 140ZM28 19 25 18 22 19 19 22 18 25 19 29 22 32 24 34 27 35 33 33 35 30 36 28 36 25 34 22ZM7 460 6 465 7 468 19 477 21 477 24 477 29 474 31 471 32 468 31 459 30 456 27 454 18 451 15 451 11 454ZM20 302 16 304 15 308 16 311 19 318 22 320 24 320 31 320 34 318 36 316 38 311 38 307 37 305 32 300 29 299 26 299ZM8 262 9 266 12 269 29 275 32 276 35 275 37 273 38 270 38 266 31 254 30 251 27 250 19 249 15 250 9 256ZM128 549 127 546 112 521 110 518 106 518 99 519 96 522 84 550 83 554 85 558 89 560 122 560 125 559 128 556 128 554ZM40 555 42 558 44 559 49 560 53 558 56 554 58 518 57 515 52 508 48 506 45 506 36 510 34 512 30 521 30 525ZM21 76 22 80 26 82 29 82 33 80 36 77 36 75 36 72 33 67 31 65 28 64 25 64 23 66 20 70ZM13 185 12 188 13 191 14 193 16 195 24 196 27 195 29 192 30 189 29 182 27 179 25 177 21 177 18 178 16 180ZM15 400 11 405 11 408 12 410 14 413 19 416 21 417 25 416 27 414 29 412 29 407 28 404 27 402 24 401 19 399ZM17 239 18 242 21 245 28 246 31 246 42 237 44 234 43 230 42 227 39 226 30 222 26 222 19 226 17 228 16 232ZM18 113 15 116 14 118 14 121 16 124 22 128 25 129 28 129 34 124 36 122 37 119 36 114 35 111 33 109 28 108ZM43 452 39 453 36 456 36 468 36 471 38 473 41 474 45 475 48 473 50 471 54 459 53 455 50 453 47 452ZM21 49 20 54 23 58 25 59 31 60 34 60 41 55 43 52 44 44 44 41 41 38 38 36 28 39 25 41ZM18 437 16 439 16 442 17 445 20 447 29 450 32 449 34 447 35 443 34 435 33 432 31 431 28 430 24 430ZM18 328 17 331 18 335 19 338 22 339 32 341 35 339 38 335 38 332 37 328 35 326 33 324 30 324 23 325 20 326ZM33 -40 39 -8 41 -6 47 -2 51 -1 54 -1 56 -2 62 -8 63 -10 63 -14 54 -44 52 -46 49 -48 38 -48 35 -46 33 -43ZM26 480 23 483 23 488 24 490 33 502 36 504 39 504 46 502 49 500 50 498 53 489 53 485 49 481 47 480 35 477 32 477ZM32 416 32 420 35 423 38 424 44 423 46 422 53 415 54 412 54 409 49 403 47 401 44 400 39 401 36 402 34 405ZM25 363 22 365 20 368 20 372 23 375 25 376 31 377 34 376 38 373 39 370 39 367 38 365 36 363 32 361ZM27 2 25 4 24 7 24 11 26 13 28 14 33 17 36 16 39 15 40 12 43 6 43 3 41 -0 38 -2 35 -2ZM30 213 31 216 33 219 40 222 43 222 47 220 51 214 52 212 53 209 51 206 44 200 42 199 36 199 33 200 31 203ZM33 291 33 295 35 297 42 304 46 305 52 304 55 302 57 300 59 291 58 288 56 285 44 279 41 278 38 278 35 281ZM38 258 40 260 42 262 46 262 48 261 59 253 60 250 59 246 57 244 51 240 48 239 45 240 37 246 36 248 35 252ZM31 96 33 98 36 100 39 99 42 98 44 96 45 91 45 88 44 86 42 84 39 83 36 84 34 85 31 87 30 90 30 92ZM43 311 39 321 39 324 42 330 44 332 46 333 53 334 56 333 59 331 60 327 59 315 58 312 56 310 53 308 45 309ZM39 357 45 361 48 361 51 360 53 357 57 345 56 341 53 339 47 337 44 337 41 339 37 343 37 347 38 355ZM31 132 29 134 29 138 30 143 32 145 37 147 41 147 47 144 49 142 50 139 50 134 48 131 46 129 42 127 39 127 36 128ZM38 378 36 381 35 383 37 392 39 394 41 395 44 396 46 395 49 393 52 386 52 383 50 379 48 376 44 375 41 376ZM33 186 35 189 38 191 41 192 44 190 46 188 50 181 50 179 48 175 46 173 42 173 35 176 33 179ZM41 74 43 77 49 80 51 80 55 79 58 77 59 75 59 67 57 64 49 59 46 58 43 59 40 61 38 65 38 68ZM43 17 42 20 43 23 46 26 50 27 53 26 59 21 61 19 62 15 61 13 58 7 55 6 52 5 49 6 47 8ZM47 149 44 151 43 155 46 165 48 168 51 170 54 170 57 170 59 168 65 159 66 156 65 153 62 149 55 147 51 147ZM49 108 45 108 42 110 41 113 41 118 41 120 43 123 48 125 51 126 54 125 59 121 60 118 60 115 59 113 57 110ZM54 438 49 433 46 432 43 433 41 435 39 437 39 440 40 444 42 446 45 448 48 448 51 447 53 446 54 443 54 441ZM48 228 50 234 52 235 61 241 65 242 69 240 71 238 73 227 72 225 70 222 62 217 58 216 54 218 49 225ZM91 522 91 519 90 516 87 513 84 511 81 512 67 516 64 518 62 522 60 552 60 556 62 558 65 560 71 560 74 559 76 557ZM66 489 62 488 58 490 56 492 54 500 54 504 58 510 60 511 63 512 79 508 81 506 82 503 82 499 80 496ZM59 442 57 448 58 451 60 453 62 454 69 455 72 455 75 453 76 450 77 447 75 442 73 439 71 438 67 438 61 440ZM54 471 54 475 56 478 59 480 63 479 66 478 72 470 73 467 73 464 71 461 69 460 64 459 61 459 57 462ZM53 421 51 424 51 427 52 429 56 434 58 435 61 436 64 435 66 433 68 430 68 427 65 421 64 419 62 418 58 417 56 418ZM62 366 58 366 55 368 53 371 53 375 55 380 58 382 61 383 67 383 69 382 71 380 71 377 71 374 70 370 68 368ZM49 192 48 196 50 199 53 202 57 203 61 202 68 196 69 193 70 190 68 187 63 182 61 181 59 181 56 181 54 183ZM49 265 47 267 46 270 46 273 48 276 56 280 59 280 62 278 63 276 66 268 66 265 65 262 62 260 58 260ZM57 406 60 408 64 409 68 406 70 404 70 399 68 392 66 389 64 388 60 387 57 388 55 390 52 395 52 400ZM56 43 53 43 50 45 48 49 48 52 51 55 57 59 60 60 63 60 65 58 68 55 69 52 69 49 67 46 65 45ZM54 136 55 139 57 141 61 142 64 141 66 139 69 134 70 132 69 128 68 126 65 125 63 124 60 125 54 130 54 133ZM48 96 48 100 50 103 52 104 58 106 60 106 63 105 65 102 66 100 64 87 62 85 59 83 55 84 52 86ZM58 27 55 30 55 32 55 36 57 38 59 39 63 40 66 40 68 38 70 36 70 32 70 29 69 27 66 25 63 25 60 25ZM77 164 73 162 69 162 66 165 62 171 62 175 64 177 70 183 72 184 76 183 81 181 83 179 85 176 85 173 84 171ZM65 251 66 255 70 261 72 263 74 263 81 265 85 264 87 262 91 256 91 252 88 247 85 246 76 243 72 243 68 245 66 248ZM61 299 61 304 64 307 67 308 76 309 78 308 80 306 84 300 84 297 83 294 80 291 68 290 65 291 63 293ZM59 353 58 357 60 361 63 362 69 363 72 362 77 357 78 355 79 352 77 348 72 343 70 342 67 342 65 342 62 345ZM87 28 82 26 79 26 77 28 75 30 74 34 75 37 76 39 79 40 81 41 84 40 87 38 89 36 89 33 89 30ZM64 72 65 76 69 78 71 79 80 77 83 76 85 73 87 70 87 67 85 64 79 59 76 57 74 57 71 59 65 64 64 67ZM72 426 75 429 78 430 83 429 86 427 87 424 88 414 88 410 86 408 83 407 76 407 73 408 69 411 68 414 68 417ZM65 203 63 207 63 211 65 214 72 219 74 220 78 220 82 217 84 215 85 211 84 208 76 201 73 200 71 200ZM64 116 66 119 70 123 73 124 76 123 79 122 81 119 82 113 82 110 81 107 78 105 73 104 70 104 68 106 65 109 64 112ZM70 271 67 280 68 283 70 285 72 286 83 286 86 285 88 282 88 278 85 272 84 270 81 269 75 268 72 269ZM66 13 69 16 74 16 77 14 81 8 81 6 81 3 78 -4 76 -6 71 -7 67 -7 65 -6 61 -1 61 1 61 4ZM64 327 65 330 67 332 70 333 74 333 82 326 83 323 82 319 80 316 77 313 71 313 68 313 65 315 64 317ZM71 478 70 482 71 486 73 488 80 491 83 491 86 490 90 486 91 483 91 480 90 478 86 471 83 469 80 469 77 470ZM79 381 74 382 72 386 71 390 74 398 75 400 78 402 84 403 87 403 89 401 91 398 92 389 92 386 90 384 88 383ZM74 369 76 375 79 377 85 378 88 377 90 375 91 371 91 369 89 363 87 361 84 360 82 360 79 361 76 364 74 367ZM84 45 81 48 81 53 82 56 89 61 91 62 94 62 100 60 103 58 104 56 105 47 103 44 100 41 97 39 94 40ZM71 140 70 144 71 147 74 149 77 150 80 149 87 145 88 143 89 140 89 137 87 135 83 132 80 131 75 133ZM81 450 83 453 87 455 90 455 96 453 98 450 99 448 99 441 97 438 89 432 86 432 82 434 80 437 79 439ZM79 186 77 189 76 191 76 194 78 197 87 205 91 206 95 204 97 201 99 194 99 191 97 188 92 183 89 182 85 183ZM78 101 81 101 84 99 89 92 89 88 87 84 85 82 82 81 73 83 71 85 69 88 70 95 71 98 74 100ZM98 307 96 304 93 303 89 303 86 305 84 309 83 311 84 314 87 319 90 320 92 320 95 320 97 318 99 316 99 313ZM77 232 77 236 80 240 87 242 91 241 97 236 98 233 99 230 96 222 95 220 92 218 89 218 86 219 79 225 77 227ZM83 348 85 350 89 350 97 346 99 343 100 338 100 336 96 329 93 327 90 326 87 327 79 334 77 336 76 339 77 342ZM103 279 99 281 98 285 99 289 101 291 104 292 112 292 114 291 117 288 117 286 117 283 116 279 114 278 109 276ZM90 132 95 133 101 131 103 129 105 125 104 122 101 116 99 114 93 112 90 112 87 114 86 117 84 123 84 125 85 128ZM85 166 88 168 91 168 94 166 97 163 97 160 97 158 93 153 91 151 88 150 85 151 82 153 81 155 80 158 80 161ZM88 494 86 498 87 506 89 508 94 513 97 515 99 515 107 513 109 511 111 508 111 492 111 488 109 486 105 485 97 485 95 486ZM101 410 97 410 93 413 91 425 91 427 93 430 98 433 101 433 104 433 109 429 111 427 112 424 107 413 105 411ZM90 25 94 25 97 24 99 22 100 18 98 12 96 10 93 9 88 8 86 9 83 11 82 14 81 17 84 21ZM100 156 104 159 109 160 113 157 115 153 115 149 110 138 108 136 105 134 101 135 97 137 95 139 94 141 94 146ZM95 171 94 175 94 179 96 181 101 186 105 187 112 185 114 184 116 182 118 176 118 172 114 166 112 164 109 164 103 164ZM92 85 95 88 102 89 105 88 108 86 109 82 108 71 107 68 105 66 102 65 99 65 95 66 92 69 88 77 89 80ZM90 265 89 268 90 272 92 275 95 276 98 276 105 273 108 271 109 269 109 265 107 262 104 260 100 259 97 259 94 260ZM92 359 96 371 99 372 103 373 107 371 112 364 112 361 111 357 103 351 100 350 98 350 94 352 92 355ZM90 98 89 101 90 105 92 107 96 109 99 109 102 107 104 105 105 101 105 98 104 96 102 94 100 93 97 92 94 93 92 95ZM100 28 100 31 101 35 105 40 109 42 112 41 124 36 126 34 128 31 127 28 126 25 121 21 117 19 105 21 103 23ZM83 -4 86 2 89 4 93 5 96 4 98 2 101 -1 101 -4 101 -7 99 -9 95 -13 91 -14 89 -13 85 -11 83 -8ZM107 382 105 381 102 381 100 382 98 384 97 386 95 399 96 402 98 404 106 407 110 406 117 400 119 398 120 395 119 391 118 389ZM94 251 96 253 99 255 110 258 113 257 116 256 118 253 118 244 116 241 114 240 106 237 102 237 100 238 95 244 94 247ZM108 214 104 215 101 219 101 222 103 230 106 233 116 236 119 236 122 235 127 229 127 226 126 223 118 215ZM102 12 104 15 107 16 113 16 116 14 118 11 118 4 118 1 117 -1 115 -3 112 -4 108 -3 106 -2 101 6 101 9ZM121 104 119 102 115 100 111 101 109 104 106 111 105 113 108 120 110 122 113 123 116 123 122 121 125 118 125 116 125 113ZM93 458 90 461 89 466 95 478 97 480 100 480 106 481 109 479 110 477 111 474 112 465 111 461 109 459 102 456 98 456ZM115 474 116 478 119 481 122 482 128 481 131 479 138 470 138 468 138 464 131 456 128 455 125 456 119 459 117 462ZM101 306 103 308 105 310 108 310 110 310 113 308 114 306 115 303 114 300 113 298 110 297 108 296 105 297 103 298 101 300 101 303ZM106 436 104 438 103 441 103 448 105 452 111 455 114 456 117 456 122 452 124 449 124 446 121 436 119 434 117 433 114 432ZM100 321 99 324 100 327 102 331 106 333 108 333 118 330 120 328 121 325 120 318 118 316 115 315 105 316 103 317ZM109 49 108 57 109 60 112 62 114 62 132 64 136 61 137 57 137 55 132 44 130 41 127 40 123 41 111 46ZM115 269 116 273 120 278 122 280 124 281 127 281 130 280 135 275 136 272 135 266 133 263 131 261 124 258 120 259 117 261 116 264ZM108 190 105 192 103 194 101 202 101 205 102 207 105 210 108 210 114 210 116 209 118 206 121 197 121 194 119 191 116 189 113 189ZM123 512 120 514 118 516 117 519 118 522 126 535 130 537 134 536 136 534 143 524 144 521 143 518 140 512 136 510 134 510ZM130 291 127 289 123 289 120 290 118 293 118 297 119 303 121 306 123 308 126 308 129 308 133 305 135 303 135 300 135 297ZM110 337 107 338 105 341 105 344 106 347 116 356 119 356 123 355 125 352 126 349 122 338 120 336 117 335ZM131 -4 126 -3 123 -0 122 14 123 18 130 24 133 25 135 25 138 24 143 21 145 14 145 12 145 9 137 -1 135 -3ZM112 371 110 374 111 378 113 381 117 383 120 384 123 384 127 381 128 379 129 375 128 368 126 365 124 364 120 363 117 364ZM117 127 114 130 113 134 113 136 119 146 121 148 124 148 134 146 137 144 138 142 138 138 135 128 133 125 130 123 127 123ZM116 421 118 425 122 426 125 425 131 421 133 419 134 417 135 412 133 408 130 406 123 403 120 404 115 407 113 409 112 413ZM115 501 116 504 117 506 120 508 123 508 135 505 137 502 138 498 137 495 130 487 127 486 122 486 118 487 116 490ZM120 167 122 169 125 170 135 169 138 168 140 165 141 162 138 154 135 151 132 151 123 152 120 154 118 156 117 161 117 163ZM113 82 115 85 119 88 122 88 128 85 130 83 131 80 131 73 130 70 128 68 125 67 118 67 115 68 113 70 112 73ZM122 208 122 212 124 215 129 220 132 221 134 220 137 219 139 217 145 207 145 202 143 199 141 197 129 197 127 198 125 200ZM134 330 130 332 127 336 127 339 130 348 132 351 134 352 137 353 142 352 144 350 146 347 148 338 147 335 145 332 143 331ZM128 109 131 112 135 113 139 111 141 107 140 94 138 91 134 88 130 88 126 90 124 92 122 95 123 99ZM135 80 136 84 141 87 145 87 153 84 154 81 155 79 154 68 153 64 150 62 144 62 142 62 140 63 137 66 136 69ZM125 435 128 444 130 445 134 446 137 445 145 438 146 435 145 432 144 429 138 426 135 425 132 426 127 428 125 431ZM123 394 125 397 126 399 136 403 138 403 142 402 144 400 145 397 144 394 142 386 140 384 134 383 131 383 125 387 123 391ZM137 357 133 359 131 362 133 375 134 377 136 379 141 380 143 380 146 378 149 374 149 361 147 358 144 356 142 356ZM122 248 123 252 126 255 134 258 138 257 142 255 144 252 146 240 145 237 143 235 138 231 135 230 132 231 123 240 122 242ZM138 295 141 297 144 298 147 297 152 294 154 291 155 287 154 284 152 281 150 280 141 278 138 278 135 281 133 284 133 288ZM151 479 150 476 147 474 145 473 141 474 139 475 135 480 134 483 135 486 139 492 141 493 144 494 148 493 151 491 152 488ZM120 181 120 184 121 187 124 190 127 192 140 193 144 191 146 187 144 177 143 175 140 173 137 173 125 175 122 177ZM156 143 146 143 144 144 141 148 142 152 145 162 148 164 151 165 162 161 164 159 165 155 160 145ZM137 29 134 32 134 36 141 54 143 56 146 58 151 58 154 57 157 54 161 41 161 38 160 36 158 33 147 27 142 27ZM146 516 149 518 152 519 159 519 162 517 164 514 166 504 166 501 164 498 161 497 155 495 146 498 144 500 142 503 142 507ZM147 233 151 234 164 233 167 231 170 225 170 222 168 216 158 207 156 206 152 206 149 208 141 222 140 225 141 228ZM153 262 147 259 145 259 142 260 140 263 139 265 140 270 142 273 144 274 147 275 150 275 152 273 154 271 155 268 155 264ZM125 320 126 323 129 325 139 326 142 326 144 324 145 322 146 319 144 313 142 311 140 309 137 309 134 309 127 314 125 317ZM141 134 143 137 146 138 156 139 159 138 161 136 167 127 168 124 167 120 164 117 161 116 147 115 143 116 139 119 138 122 138 125ZM139 411 138 419 140 422 145 425 148 426 152 425 157 420 159 418 159 415 158 413 154 406 151 404 149 403 146 404 140 407ZM142 463 146 465 150 466 153 465 159 462 160 458 160 451 159 448 157 446 153 443 149 442 146 443 138 449 137 452 137 456ZM149 300 147 303 146 306 149 316 151 318 153 320 156 320 159 319 166 312 167 309 166 306 164 303 157 299 153 298ZM161 333 158 333 155 333 153 336 152 338 151 349 153 352 156 354 162 354 165 353 167 351 172 345 172 341 170 338ZM156 484 157 487 161 490 164 490 168 488 169 486 174 475 174 472 172 469 170 467 163 465 161 466 156 468 155 470 154 473ZM153 169 150 171 148 175 150 186 152 189 155 191 158 191 169 186 171 183 171 180 169 171 167 168 165 166 162 166ZM145 105 147 109 150 111 158 111 161 111 164 108 167 100 168 97 167 95 165 92 158 88 155 88 149 90 147 92 145 95ZM154 428 152 432 153 437 157 441 161 442 165 441 174 434 176 432 177 429 176 426 174 423 171 422 166 420 162 422ZM147 387 149 395 152 397 155 398 158 397 165 391 166 388 166 384 164 382 162 381 155 379 151 379 148 382 147 384ZM146 4 148 6 152 6 161 3 163 0 164 -4 162 -14 160 -17 158 -19 155 -20 151 -18 142 -8 141 -5 142 -2ZM161 -34 161 -31 169 -2 171 0 173 2 176 2 179 1 182 -2 188 -14 188 -17 176 -45 174 -47 172 -48 168 -48 165 -46 163 -43ZM149 17 149 21 151 24 161 31 166 31 169 30 170 28 176 14 177 11 176 8 174 6 170 5 167 5 152 12 150 14ZM148 249 149 253 151 256 156 258 159 257 162 256 163 253 165 245 164 242 162 239 160 238 153 238 150 242ZM158 271 158 274 159 277 162 279 164 280 171 278 173 276 175 273 174 270 173 267 166 264 164 265 161 266 159 268ZM167 64 163 65 159 68 159 71 159 81 161 85 169 90 172 91 175 91 179 89 181 86 183 74 183 71 181 68 179 66ZM163 194 160 197 160 202 161 205 168 209 171 210 174 209 181 202 182 199 181 196 179 191 176 189 171 189ZM172 489 172 493 174 497 177 498 183 499 186 498 188 496 190 491 191 488 190 485 186 481 184 479 181 479 178 480 176 481ZM171 120 174 122 182 124 184 124 187 123 198 109 199 106 197 101 195 99 184 93 180 93 175 95 172 98 168 111 168 115ZM168 152 172 156 174 156 177 156 179 154 188 144 189 142 189 138 186 131 183 129 177 127 175 127 171 128 170 130 164 138 164 141 164 144ZM164 413 166 416 171 417 174 417 177 415 181 409 182 406 181 401 179 398 173 395 170 395 167 396 162 399 160 402 160 405ZM153 364 154 372 156 374 164 377 167 376 169 375 171 372 172 369 171 365 166 360 164 358 161 358 157 359 154 361ZM172 230 171 234 173 238 186 247 189 248 192 248 194 247 196 245 197 243 197 239 191 230 189 228 187 227 177 227 174 228ZM170 386 171 389 174 391 178 392 182 392 191 382 192 379 191 375 189 373 186 371 180 371 178 372 175 374 171 380 170 383ZM165 285 162 286 160 290 160 294 162 297 167 300 171 301 174 300 179 296 181 292 180 288 179 286 177 284 173 282ZM167 515 167 518 169 521 173 524 176 524 186 521 188 520 190 516 191 512 191 509 189 506 187 504 175 503 172 504 170 506ZM164 457 165 460 169 463 176 465 179 465 181 464 187 459 188 456 189 443 188 439 183 436 179 436 167 445 164 449ZM171 359 177 366 180 367 189 367 192 366 196 363 197 361 197 356 196 353 194 351 184 345 181 344 178 345 172 352 170 355ZM175 27 175 30 176 34 178 36 187 40 191 40 197 36 199 34 200 32 200 27 193 16 191 14 187 13 184 13 181 15ZM167 254 167 257 169 260 174 263 176 263 180 263 182 261 184 258 185 255 184 253 182 250 178 247 175 246 172 246 170 248 168 250ZM162 51 162 55 165 59 167 60 178 61 181 60 183 57 185 47 184 44 182 42 174 38 170 38 167 39 165 41ZM165 320 163 323 162 325 163 328 165 330 173 333 176 333 179 330 180 327 180 323 179 321 175 318 172 316 170 316 167 317ZM177 303 175 305 174 308 175 311 177 314 182 318 185 319 190 318 193 316 194 314 195 309 195 306 193 303 187 300 184 299 181 300ZM185 166 182 164 179 164 176 166 174 168 173 172 175 178 176 180 179 182 182 183 184 182 188 179 190 176 191 174 190 171ZM192 280 188 281 185 284 184 288 185 293 188 296 196 300 199 300 202 299 205 297 206 294 204 284 200 281ZM183 333 182 337 184 340 190 344 194 344 197 343 199 340 201 331 201 329 200 326 196 323 194 322 191 322 188 323 186 325ZM178 211 176 215 177 219 181 222 186 223 190 222 192 220 196 215 197 211 196 209 194 206 188 204 184 205ZM186 465 184 468 185 472 192 481 194 483 197 483 200 483 202 482 204 479 206 472 206 470 204 467 201 465 193 462 189 462ZM181 429 184 432 189 435 193 435 197 433 198 430 201 417 201 415 199 412 197 410 194 410 189 409 185 411 180 418 179 421 179 424ZM192 497 192 500 193 503 195 505 198 506 210 505 213 501 214 498 214 495 212 493 206 488 202 487 198 488 196 489ZM185 401 187 404 189 405 201 406 204 404 205 403 207 400 207 397 205 394 199 388 196 387 194 387 190 389 186 394 184 397ZM184 192 187 198 189 200 193 201 196 201 198 200 200 198 201 195 201 192 197 185 194 183 191 183 186 186 184 188ZM189 47 187 60 188 63 191 65 194 66 207 65 210 62 211 59 210 56 206 44 204 42 201 40 197 41 191 45ZM186 152 185 156 185 160 187 162 195 169 198 170 201 169 207 166 209 163 211 157 211 154 209 150 206 147 197 145 194 145 191 147ZM198 234 201 236 203 237 206 237 209 235 216 227 217 224 215 220 207 215 203 214 200 216 196 221 195 225 195 228ZM205 367 200 367 197 369 195 373 196 379 197 382 206 389 209 390 211 390 214 389 216 387 219 380 219 376 216 372ZM201 533 205 535 210 535 213 532 216 526 216 523 212 513 210 511 208 510 205 510 199 511 196 513 195 515 194 520 194 522ZM186 84 186 87 189 90 196 94 200 94 203 93 212 82 213 79 212 74 210 71 207 69 192 70 189 72 188 74ZM186 -2 186 2 187 5 191 8 194 8 197 7 205 0 206 -2 206 -6 205 -9 203 -11 197 -12 194 -12 190 -9ZM184 265 183 268 183 271 185 274 188 276 200 276 203 274 205 271 205 267 201 258 199 256 197 255 193 254 190 256ZM206 201 205 206 207 209 217 216 221 217 224 215 226 213 230 202 230 199 230 196 227 193 224 192 221 192 209 197 207 199ZM193 137 196 140 204 143 207 143 210 141 218 131 219 128 219 125 216 118 214 116 206 113 202 113 200 114 191 124 190 126 190 130ZM198 314 198 317 200 320 204 324 208 325 217 324 219 322 221 320 223 312 222 309 217 303 215 302 210 301 207 301 202 305 200 307ZM207 462 212 463 216 459 220 450 219 444 217 441 214 440 201 437 197 438 195 440 193 443 193 455 196 458ZM203 172 200 175 199 179 200 181 204 189 207 191 209 191 212 191 216 189 218 187 219 183 218 180 213 174 211 172 209 171 206 171ZM200 9 198 13 198 17 204 27 209 29 213 28 216 26 222 14 223 11 223 8 222 5 216 2 214 1 209 2ZM215 252 211 252 207 255 206 259 208 265 210 268 213 269 222 268 224 267 226 264 226 258 223 255ZM220 63 217 65 215 69 216 72 218 80 221 82 231 86 233 86 237 85 239 81 241 70 241 67 240 65 237 62 231 60ZM214 274 211 275 209 276 208 279 208 281 210 292 214 295 217 295 220 294 222 292 228 283 229 279 227 275 224 273ZM208 479 208 482 209 485 216 491 219 492 222 491 225 489 228 482 228 479 226 476 221 471 217 469 214 469 211 471 210 474ZM204 338 204 341 205 344 207 346 211 347 222 343 224 341 225 337 224 335 222 330 219 328 216 328 210 329 207 330 205 333ZM215 416 212 415 209 415 206 417 205 419 203 429 205 432 208 434 215 435 217 434 219 431 220 429 220 422 218 418ZM202 104 204 107 206 108 215 112 219 112 221 110 231 100 232 97 232 93 230 90 221 86 218 86 216 86 213 88 203 98 202 101ZM219 33 216 32 212 33 210 35 209 39 214 55 217 58 221 58 226 57 229 54 229 52 230 42 229 40 227 38ZM229 499 225 497 221 498 219 500 215 506 215 510 218 517 220 519 222 521 225 521 236 518 239 516 240 514 241 510 239 507ZM222 158 218 159 216 161 214 163 214 167 222 178 225 180 229 180 231 179 239 171 240 168 239 165 237 162 235 160ZM210 352 207 353 205 356 205 360 207 363 218 369 222 369 225 367 227 364 229 356 228 353 227 350 224 349 221 348ZM219 -1 224 -0 227 -1 233 -6 235 -9 234 -13 230 -21 228 -23 226 -25 222 -25 219 -23 213 -12 213 -9 214 -6 216 -4ZM225 306 228 308 231 309 242 308 245 305 249 297 249 294 248 288 242 283 240 282 237 281 235 282 232 284 223 298 223 302ZM221 398 217 398 213 399 211 403 211 406 213 410 218 414 221 415 224 415 226 414 229 411 230 408 230 406 228 402ZM221 134 213 145 213 148 214 151 216 153 219 154 231 155 234 154 236 151 238 141 238 138 236 135 234 133 225 132ZM224 425 225 429 229 432 232 432 241 430 244 428 245 426 246 418 245 415 243 413 241 412 238 411 236 412 226 419 225 421ZM220 458 220 462 221 465 230 474 232 475 235 475 239 473 241 471 243 463 242 460 240 457 227 454 223 455ZM218 249 222 249 225 248 227 246 228 243 227 239 225 236 222 234 220 233 217 234 215 235 213 238 212 241 212 244 213 246ZM232 253 230 257 231 266 233 270 236 272 239 271 242 270 250 260 251 258 251 255 250 252 245 248 243 246 240 246 237 247ZM230 339 232 341 235 343 242 342 245 341 251 336 252 332 252 322 247 315 245 313 241 312 232 313 229 314 227 316 225 323 224 325ZM236 223 233 223 230 224 228 227 227 231 228 234 232 239 235 240 238 241 241 239 243 238 245 233 245 231 243 226ZM231 437 228 438 226 441 226 445 228 448 230 450 241 453 244 453 247 451 248 448 249 441 248 439 247 436 244 435 242 434ZM220 386 220 390 222 394 229 398 232 398 236 398 238 395 241 386 240 382 238 380 231 377 229 377 226 378 224 379ZM223 123 225 126 228 127 240 130 243 130 245 128 251 119 252 116 252 113 246 101 244 99 241 99 239 99 236 101 222 115 221 118ZM231 210 231 214 233 218 246 223 248 223 251 222 253 220 255 218 255 215 254 211 245 203 243 201 239 201 236 202 233 205ZM222 22 222 26 223 30 225 32 231 35 234 35 241 33 243 31 245 29 245 23 243 20 241 18 232 16 230 15 226 16 224 18ZM230 489 230 493 231 496 238 501 242 501 245 501 247 499 252 491 253 487 252 484 251 482 245 478 241 477 236 479 234 481ZM241 400 242 405 245 409 249 410 254 409 256 407 263 396 264 392 263 390 262 387 255 382 252 382 249 382 247 384 245 386ZM249 502 248 507 249 509 251 511 254 513 263 514 266 513 269 511 271 502 270 499 269 497 263 493 260 492 257 492 255 494ZM230 366 230 369 232 373 244 378 247 378 250 376 252 374 254 369 253 365 246 352 244 350 241 348 237 349 234 352ZM231 190 235 196 237 197 241 197 245 196 251 187 251 183 250 180 246 177 244 176 241 176 238 177 232 184 230 186ZM243 85 243 88 244 90 246 92 249 93 252 92 262 87 264 83 266 72 266 70 264 67 261 65 253 63 250 63 248 64 245 68ZM238 38 236 40 234 43 234 54 235 56 237 58 241 60 244 60 247 58 250 55 250 42 248 39 245 37 242 37ZM232 0 230 3 229 6 231 9 233 11 245 15 248 14 251 11 253 0 252 -3 249 -5 247 -6 240 -7 238 -5ZM249 426 250 430 253 433 256 434 263 433 266 432 268 430 270 427 270 424 269 420 267 419 259 414 256 414 252 415 250 418ZM247 271 245 275 246 278 247 281 251 282 255 282 262 278 264 275 264 273 264 270 263 268 260 265 257 263 252 265ZM251 36 253 37 256 38 267 36 269 34 270 31 270 28 270 26 267 23 258 20 255 19 253 20 250 24 248 30 249 33ZM257 209 260 211 264 211 267 210 270 206 271 193 270 189 267 187 261 186 257 187 255 188 250 196 250 199 250 202ZM247 238 247 242 248 245 253 249 257 250 260 250 268 245 270 243 271 239 270 236 264 226 261 224 259 223 256 224 251 227ZM251 341 249 345 249 348 256 361 259 363 261 363 267 361 269 360 271 356 272 349 271 346 270 344 267 342 257 339 253 340ZM240 152 240 155 242 158 244 160 248 160 257 156 259 153 260 150 258 146 253 141 250 139 248 139 244 140 242 143ZM250 306 249 309 250 313 253 316 257 318 260 317 272 313 275 311 276 308 275 304 272 301 258 298 255 299 253 300ZM256 458 252 458 249 461 247 463 246 471 246 473 248 476 253 479 257 480 261 479 265 475 267 472 267 470 266 464 264 461 262 460ZM253 517 250 517 248 518 246 520 245 523 248 555 250 558 253 560 267 560 271 557 272 553 270 523 268 521 266 519ZM252 163 249 165 248 168 248 171 249 174 257 181 262 182 266 181 269 177 270 167 270 164 269 162 266 159 262 159ZM264 62 268 62 271 59 275 50 275 47 274 44 272 42 269 40 258 42 256 44 254 47 254 54 255 57 258 60ZM251 126 250 130 252 134 264 146 266 147 269 147 271 146 273 145 276 141 276 136 265 121 262 119 258 119 255 121ZM274 507 275 512 277 515 281 516 287 515 290 513 291 511 293 504 292 501 291 499 288 496 285 496 282 496 276 500 275 502ZM265 251 262 255 262 258 263 261 267 266 270 267 273 267 275 266 280 263 281 260 281 253 280 250 278 248 275 247 273 247ZM253 448 253 451 255 453 265 456 268 455 271 453 273 451 273 448 272 445 269 439 267 438 264 437 258 437 255 439 253 443ZM268 214 266 217 266 222 276 238 278 239 281 240 283 240 286 239 288 235 291 222 291 219 290 217 286 214 275 211 272 211ZM257 372 257 376 258 379 266 385 269 386 272 386 275 384 280 376 281 373 281 370 279 368 275 365 272 364 260 368 258 370ZM274 34 274 37 277 41 279 43 282 44 296 41 299 39 300 35 299 32 292 21 290 19 287 18 283 19 277 24 275 27ZM256 8 256 12 258 15 272 20 275 20 281 15 283 13 283 10 283 7 280 4 266 -2 264 -3 260 -2 258 0 257 2ZM266 480 264 483 264 487 266 489 271 494 274 494 277 494 281 492 283 489 284 483 283 480 281 478 272 476 269 477ZM261 282 259 285 258 288 259 291 260 294 263 295 268 296 272 295 274 294 275 292 276 288 275 286 272 282 270 281 267 280 265 281ZM267 398 262 406 262 409 263 411 266 413 270 416 273 416 276 415 278 412 279 410 280 402 279 399 276 396 273 395 269 396ZM255 111 257 113 260 115 264 115 267 115 279 106 280 102 280 99 279 97 276 94 267 90 263 91 256 95 253 97 252 101ZM280 68 275 68 271 70 270 74 269 83 269 85 272 88 279 91 282 91 286 89 289 87 290 77 289 74 287 72ZM261 336 274 339 277 339 284 335 287 332 287 328 284 320 283 318 280 317 276 316 261 321 258 323 256 326 256 331 258 335ZM271 467 272 470 275 472 284 475 288 474 290 471 291 468 290 457 289 455 287 453 284 452 280 452 277 453 271 459 270 463ZM277 270 275 272 274 276 275 279 277 282 280 283 283 283 287 282 290 280 291 277 291 274 290 271 287 269 282 267ZM273 178 273 183 277 186 280 186 290 184 293 183 295 180 295 177 294 171 292 169 290 167 282 165 278 165 276 166 274 169ZM280 342 278 343 276 346 276 359 277 362 281 364 284 365 287 365 290 364 291 361 294 350 294 346 291 342 288 340 285 340ZM278 296 278 300 280 304 283 306 287 307 289 306 298 300 300 297 300 294 299 289 297 287 294 285 291 285 281 289 280 291ZM284 424 280 423 276 425 272 431 272 435 277 445 279 447 282 448 289 447 292 446 294 442 294 431 291 427ZM279 385 278 388 278 391 281 395 284 396 296 395 299 393 301 390 301 387 297 377 295 375 293 373 289 373 286 375ZM275 149 274 152 274 155 276 158 278 160 293 163 297 162 300 158 300 155 299 152 293 142 290 139 286 139 282 140ZM275 114 272 118 272 122 279 133 282 135 285 135 289 134 291 132 295 128 296 125 296 122 295 120 283 112 280 112ZM288 487 288 490 290 493 295 496 299 497 304 495 307 493 310 486 311 483 309 480 307 478 298 475 295 475 292 477 289 479ZM278 -1 282 -1 285 -3 289 -8 289 -12 278 -31 274 -33 271 -33 268 -31 266 -29 262 -15 262 -12 263 -9 265 -7ZM277 56 277 60 279 63 291 69 294 68 300 65 303 62 303 60 303 57 301 49 299 47 296 46 282 49 279 51ZM303 448 298 448 296 450 294 452 294 455 295 467 297 470 299 472 307 474 309 473 312 472 314 470 315 467 315 464 311 451 308 449ZM279 208 290 210 293 209 295 208 296 205 297 194 295 191 292 189 279 190 277 192 275 196 275 202 276 206ZM284 98 285 105 286 108 295 115 298 116 301 115 304 114 308 108 310 104 309 101 307 98 295 92 292 92 289 92 286 95ZM294 244 289 245 286 248 285 250 286 261 287 264 296 271 299 272 302 272 307 269 308 267 310 261 309 259 300 246 297 245ZM290 323 292 326 296 327 308 324 311 323 313 320 313 317 311 306 310 304 306 302 302 302 289 311 288 313 287 316ZM291 423 295 424 297 423 300 421 301 418 301 405 299 401 296 400 293 400 288 401 285 403 284 406 283 414 283 417 286 420ZM287 5 288 10 290 12 295 14 310 6 312 4 313 1 310 -7 308 -9 305 -10 294 -8 292 -6 288 3ZM303 217 301 217 298 217 296 219 295 222 294 232 295 235 299 237 302 237 304 236 309 233 310 230 310 226 309 220 307 218ZM299 179 301 183 304 185 319 185 326 180 328 178 328 175 327 172 317 160 313 159 307 159 304 161 298 167 298 170ZM314 518 316 516 316 512 315 509 310 502 308 500 305 500 301 500 299 502 297 505 296 511 296 514 297 517 303 521 305 522 309 521ZM300 331 296 333 295 337 296 341 299 346 314 349 318 348 322 344 322 341 322 338 319 331 316 328 312 328ZM303 30 306 33 309 34 318 31 321 29 322 26 322 16 321 13 319 11 316 9 313 9 300 16 299 19 298 22ZM304 276 302 279 301 282 305 294 307 297 310 298 314 299 322 295 324 293 325 291 327 286 326 282 324 280 312 273 308 273ZM296 361 296 364 297 367 300 369 303 369 306 368 312 365 314 362 314 359 313 355 311 353 305 352 302 351 300 352 298 354ZM297 71 295 74 294 76 294 83 295 86 297 89 303 91 306 92 309 91 311 88 315 80 314 77 312 71 310 68 306 67 303 68ZM307 131 303 131 299 132 297 135 297 139 304 152 308 155 312 155 315 153 316 151 319 144 319 141 316 137ZM305 387 307 390 311 392 318 392 322 390 324 388 325 385 324 376 323 373 319 370 316 369 313 369 305 373 304 375 303 378ZM318 1 321 4 325 5 336 0 339 -3 341 -9 341 -13 333 -27 330 -30 326 -30 322 -29 314 -14 313 -10ZM298 437 299 441 302 443 310 446 313 446 326 437 328 433 328 430 327 427 323 425 305 424 302 425 299 428 298 431ZM306 117 304 120 304 123 306 126 308 128 322 135 327 134 330 131 331 127 329 115 327 111 325 110 317 108 314 108 312 110ZM318 458 319 461 323 463 328 462 331 460 333 457 334 450 333 447 332 445 329 443 326 443 318 447 317 449 316 452ZM306 213 309 214 312 212 317 209 318 206 318 194 316 191 313 190 306 190 303 192 302 194 300 208 302 211ZM310 38 306 40 305 44 307 56 309 59 312 61 315 62 328 57 330 54 330 50 327 40 326 37 323 36 320 35ZM312 493 312 495 313 498 320 509 324 510 326 509 329 508 332 505 333 502 333 500 330 492 328 488 321 486 318 486 314 488ZM324 141 320 155 320 158 324 163 328 165 333 164 335 162 342 152 342 149 341 140 338 137 335 136 332 136 327 139ZM317 314 318 317 320 319 323 320 326 320 335 315 337 311 337 308 335 305 329 300 326 299 323 299 318 301 316 305 316 307ZM318 361 319 364 321 366 324 368 328 368 336 363 337 361 337 357 333 349 330 347 326 347 323 348 319 353 318 356ZM308 239 305 242 306 246 309 251 312 253 314 254 317 253 323 250 326 247 327 243 327 240 325 237 323 235 317 234 315 234 312 235ZM312 396 308 397 306 401 305 413 306 416 308 418 311 420 321 420 324 418 326 414 322 400 320 398 318 396ZM326 23 328 27 331 29 334 29 342 28 345 26 348 22 349 19 348 16 342 7 339 5 335 5 329 8 326 11 326 14ZM313 100 315 103 318 104 324 105 328 104 331 101 333 92 333 89 332 86 329 84 324 83 321 83 319 84 317 86 313 94 312 97ZM317 472 317 476 318 480 321 482 328 484 331 484 333 483 338 478 340 474 339 472 338 469 335 466 332 466 322 468 319 469ZM314 225 316 228 318 230 322 231 325 230 328 228 330 223 330 220 330 218 327 215 323 213 320 213 318 213 315 215 313 218 313 221ZM327 277 332 278 338 275 340 272 341 268 339 264 331 256 328 255 325 254 323 255 316 259 314 262 313 265 314 267 315 270ZM333 390 330 391 328 392 326 394 325 397 326 400 331 413 333 415 337 416 347 412 350 410 351 407 350 397 349 394 345 391ZM325 186 323 189 322 191 323 205 324 208 332 213 335 214 344 211 346 210 348 206 348 199 340 186 335 183 332 183 329 183ZM321 64 318 66 317 70 317 73 320 77 322 78 332 80 335 79 337 78 339 74 339 67 338 64 337 62 334 61 331 60ZM337 421 334 424 332 428 333 434 336 439 339 441 351 442 354 442 356 441 358 438 363 427 363 423 361 420 355 416 352 416ZM336 497 339 501 343 502 347 501 351 498 352 495 353 492 351 485 348 482 345 481 342 481 336 486 334 490ZM334 122 335 125 338 127 341 128 345 127 353 120 354 116 353 113 351 110 348 109 340 109 337 110 335 112 334 115ZM326 337 329 340 333 341 335 341 344 335 345 332 346 330 344 324 343 321 340 320 336 319 326 325 324 327 323 330ZM338 241 334 241 332 244 331 247 331 250 333 252 338 257 341 258 344 257 347 255 350 251 351 248 350 245 349 243 346 241ZM335 221 332 230 333 233 335 235 338 237 346 236 349 234 350 231 349 221 348 218 345 216 341 216 337 219ZM330 290 330 293 331 296 338 302 342 304 345 303 348 301 352 291 351 288 347 281 345 279 342 278 339 279 333 282 331 285ZM335 53 337 56 342 58 351 55 354 52 355 49 354 45 346 35 344 33 341 32 336 33 334 35 332 37 332 41ZM332 511 330 514 329 518 331 520 336 526 339 527 342 527 347 524 349 522 350 518 350 516 347 510 345 507 342 506 338 506 336 507ZM336 96 337 101 339 104 342 105 350 105 353 104 355 102 357 96 357 93 356 91 354 88 346 86 344 85 340 87 339 89ZM334 169 333 173 334 177 337 180 341 181 344 179 356 171 358 168 358 165 357 162 355 160 349 157 346 157 342 159ZM342 357 345 360 350 362 353 362 356 361 361 356 363 353 363 345 361 342 358 340 350 337 347 338 340 342 338 345 338 348ZM329 380 330 384 334 386 346 387 349 386 351 384 353 381 351 369 349 367 345 365 343 365 340 365 330 372 328 375ZM337 458 338 462 341 466 344 467 348 466 351 463 354 455 354 453 354 450 352 447 349 446 344 446 342 446 338 450ZM343 -3 343 0 344 3 353 14 356 15 362 15 365 13 367 12 368 8 366 -3 365 -5 363 -7 360 -8 348 -9 345 -6ZM357 142 354 143 352 144 351 147 351 150 352 153 354 154 357 156 360 156 363 155 365 153 366 150 367 148 365 145 363 143 361 142ZM356 314 353 314 351 315 348 318 348 322 350 330 352 333 354 334 361 337 364 336 367 335 373 328 374 325 373 322 371 318 369 316ZM349 259 348 262 349 265 351 268 354 269 356 269 364 267 366 266 367 263 367 253 365 250 362 249 358 249 356 250ZM356 489 358 492 361 494 363 494 366 493 368 491 372 485 373 483 372 479 369 477 367 476 361 476 358 477 356 479 354 482ZM350 25 349 29 350 33 357 43 360 45 364 45 367 44 375 34 376 32 376 28 373 22 371 20 368 18 365 18 356 20 353 21ZM353 501 351 504 351 508 356 519 359 521 362 522 365 522 367 520 370 517 372 510 371 507 367 502 364 499 360 499 356 499ZM362 388 357 390 355 393 354 396 355 409 357 412 363 416 366 417 368 417 371 416 373 413 380 399 380 395 379 392 376 390ZM343 75 344 79 347 81 355 84 358 84 361 83 363 81 363 78 365 64 363 60 360 58 357 57 346 61 344 63 343 66ZM348 191 351 194 354 194 367 191 369 188 371 182 371 179 370 177 369 175 365 173 362 173 359 173 349 181 348 183 347 187ZM357 198 354 200 352 203 353 207 355 210 358 212 368 214 371 213 374 211 375 209 376 203 375 200 372 197 370 196 367 195ZM359 110 362 112 365 113 381 111 384 108 387 103 387 101 387 98 385 96 382 94 369 91 365 91 362 95 359 104 358 107ZM355 235 357 239 360 241 364 242 367 240 369 238 374 226 374 223 372 220 369 218 362 217 359 217 356 219 354 223ZM364 311 368 311 371 309 373 303 373 300 372 297 368 294 365 293 358 293 356 294 354 296 352 302 352 305 354 307 356 309ZM355 462 355 466 356 468 357 470 360 472 373 472 376 469 377 466 377 463 375 459 365 454 362 454 359 455 358 458ZM352 282 356 287 359 288 363 289 366 288 369 285 370 281 370 278 369 275 367 273 364 272 355 274 353 276 352 279ZM371 2 372 6 374 8 377 8 380 8 391 1 393 -2 392 -6 390 -8 386 -11 383 -11 375 -9 372 -7 371 -5 371 -2ZM368 128 370 131 373 132 376 132 381 130 383 128 384 125 383 119 382 117 379 116 376 116 370 117 368 119 366 122 366 125ZM372 493 371 496 371 500 373 503 376 505 379 505 388 503 390 502 392 499 392 496 391 493 386 487 383 486 380 486 378 486ZM358 364 356 367 356 370 357 379 359 383 362 384 374 385 377 385 379 383 381 380 383 372 381 366 379 363 370 359 367 359 364 360ZM362 440 361 444 363 448 365 449 373 453 376 452 379 451 382 446 383 443 383 439 377 430 375 428 373 427 369 428 366 430ZM365 159 364 163 366 168 368 169 376 173 379 173 382 171 386 163 385 159 384 157 375 153 373 153 370 154ZM377 136 374 139 373 142 373 145 375 147 377 149 384 152 387 151 389 150 391 148 392 145 391 139 390 136 387 134 384 133ZM372 264 373 268 376 270 381 270 385 268 388 264 388 260 388 258 384 251 381 250 378 249 375 250 373 251 371 255ZM367 350 368 353 370 355 377 358 381 358 384 357 391 350 393 347 392 344 390 340 382 334 379 332 376 332 373 334 367 340 367 344ZM374 294 377 296 380 296 388 294 391 291 392 289 392 285 387 278 385 277 382 276 379 276 377 277 375 279 372 289 372 291ZM375 311 375 315 377 318 381 320 385 320 393 316 395 313 396 310 395 302 393 300 390 298 387 298 381 301 378 304ZM369 48 368 50 368 53 369 55 371 57 382 61 386 61 388 59 390 57 395 44 395 40 394 37 391 35 384 34 382 34 378 36ZM367 80 368 84 371 86 381 90 384 90 387 89 389 87 393 80 393 76 389 69 387 66 377 64 374 64 371 65 369 68ZM375 183 374 190 375 193 377 196 381 197 383 197 389 195 391 192 392 190 392 187 390 184 386 180 382 179 379 179 377 181ZM379 211 379 216 381 218 384 220 389 220 392 220 394 218 396 215 397 212 396 209 393 203 391 201 387 200 384 201 381 203ZM391 471 388 473 386 475 386 479 387 482 396 493 400 493 404 492 406 489 410 482 410 479 409 476 403 471 401 469 398 469ZM384 384 384 388 386 392 389 393 396 395 398 394 407 387 409 384 409 382 407 377 404 375 392 374 388 375 386 377ZM388 110 387 114 389 125 390 127 393 129 396 130 410 127 412 125 414 123 415 120 414 117 412 112 409 110 395 106 391 107ZM374 235 374 239 376 243 378 245 383 245 386 244 393 238 395 235 395 232 393 228 391 226 389 224 383 224 380 225 378 227ZM400 555 403 559 407 560 419 560 422 558 424 555 425 547 425 545 418 524 417 521 415 520 403 518 400 519 398 522 394 530 394 533ZM381 463 384 466 388 467 396 465 399 464 401 462 404 453 404 450 403 447 401 445 398 445 391 444 388 446 381 456 380 459ZM390 275 394 281 398 282 401 281 404 279 408 270 407 267 405 264 402 263 400 263 395 263 392 266 389 269 389 273ZM380 509 377 511 375 513 375 517 376 520 378 522 385 526 388 526 391 525 393 522 395 516 396 513 395 510 393 508 389 507ZM379 409 379 413 380 416 382 419 385 419 396 417 398 415 400 411 399 408 396 401 393 399 390 398 387 398 384 400ZM388 169 387 172 388 176 394 182 396 184 399 184 409 182 411 180 413 177 413 174 412 172 405 162 402 159 397 159 393 160 391 162ZM397 190 394 196 395 199 399 206 402 208 406 209 414 207 417 205 418 203 418 199 416 190 414 188 412 186 408 186 399 188ZM377 21 381 28 384 29 390 30 393 29 402 18 403 14 402 11 398 7 394 6 391 7 380 13 378 16 377 19ZM390 322 387 324 386 327 386 330 387 333 398 340 402 340 405 339 410 331 410 328 409 325 399 319 396 319ZM396 351 387 360 386 363 387 366 388 368 392 370 399 370 403 369 405 367 408 358 407 355 405 351 403 350 400 349ZM390 97 392 99 394 101 407 105 411 105 414 103 419 95 420 92 420 89 417 86 407 79 404 78 401 78 397 81 391 91 390 94ZM389 423 385 425 383 428 383 432 386 437 388 439 390 440 396 440 399 439 401 437 402 434 402 431 399 426 397 424 395 423ZM389 252 393 257 396 259 399 259 402 257 404 255 405 252 405 248 403 244 401 242 397 242 395 242 392 245 390 247 389 250ZM399 29 398 34 399 38 402 40 408 42 412 41 420 35 421 32 422 29 418 19 416 17 412 16 410 17 407 18ZM409 413 406 413 404 415 402 418 402 421 406 429 409 431 412 431 415 430 416 428 420 423 420 419 418 416 416 414ZM398 220 397 223 397 227 401 234 405 236 410 237 417 234 420 233 422 231 422 228 421 217 420 214 418 212 414 211 403 214 401 216ZM409 295 404 296 400 299 400 302 400 313 403 316 411 321 413 322 416 322 419 321 420 318 424 310 424 306 419 299ZM403 405 405 408 408 409 415 409 418 408 420 405 422 399 422 396 421 394 418 390 416 389 413 389 410 390 403 395 402 397 401 401ZM396 147 397 150 400 153 403 154 407 152 412 146 414 144 414 140 412 135 409 133 407 132 401 133 398 134 396 136 396 139ZM393 66 397 71 399 73 404 72 406 70 413 60 413 58 413 54 409 48 407 46 404 46 402 46 399 47 398 49 392 63ZM402 -8 400 -5 399 -3 398 -0 400 3 408 11 411 12 415 10 417 7 419 -3 419 -6 418 -9 415 -11 412 -12ZM410 352 412 354 415 355 431 356 434 355 438 350 439 348 439 344 437 341 424 332 421 331 418 331 415 333 408 342 407 347ZM402 497 398 500 397 504 399 509 401 512 403 513 414 515 416 515 419 513 420 510 421 508 420 505 418 503 408 496 405 496ZM423 177 419 179 418 184 422 199 424 201 426 203 429 204 439 203 442 201 444 198 445 193 437 178 435 176 431 174 428 175ZM411 262 415 264 423 264 426 263 429 261 432 252 432 250 429 241 427 239 424 237 421 238 414 240 410 242 409 245 409 257 409 260ZM416 170 418 172 422 172 426 171 428 169 432 156 431 152 429 150 421 147 418 148 415 149 411 154 409 157 410 161ZM424 529 426 532 429 533 432 534 435 532 445 519 445 515 444 512 442 511 432 507 429 507 427 508 425 511 422 518ZM423 123 419 124 416 128 416 131 418 140 421 143 430 146 433 146 436 145 439 143 439 139 436 127 434 125 432 123ZM409 369 409 373 411 377 415 379 418 379 421 378 428 371 429 368 429 366 428 362 425 360 416 359 414 360 412 362ZM406 461 405 465 407 468 413 474 417 474 420 473 422 471 427 462 428 459 426 453 424 451 418 448 414 448 411 449 409 451ZM407 282 406 287 409 291 416 293 420 292 422 290 430 278 430 275 430 272 428 270 426 268 416 268 412 271ZM416 63 411 71 411 74 412 77 414 79 420 82 422 83 426 82 429 80 431 67 431 64 428 62 422 60 419 61ZM417 41 415 45 415 48 417 53 419 55 422 56 431 57 434 56 437 54 439 43 438 40 435 38 429 36 426 36ZM422 446 426 446 429 445 437 439 439 436 439 432 436 425 434 423 431 422 427 421 424 423 417 436 417 440 418 442 419 444ZM412 487 411 490 413 494 419 499 422 500 425 499 427 498 429 496 430 491 430 487 429 485 423 480 420 479 416 480 414 482ZM424 320 424 324 425 328 434 334 438 335 441 334 443 333 448 324 449 321 448 318 445 312 443 310 439 309 432 309 429 311 427 313ZM424 408 424 412 427 416 432 417 436 417 442 412 444 410 444 406 443 401 441 398 438 397 430 397 426 400ZM426 302 428 304 431 305 441 305 443 304 452 293 452 290 451 285 447 282 439 279 436 279 434 281 425 294 424 298ZM431 208 427 210 425 214 426 227 429 231 432 232 435 232 449 225 451 223 453 219 452 216 445 208 441 207ZM428 478 434 483 437 483 444 482 446 480 448 477 448 474 446 469 444 467 442 465 435 464 432 464 430 466 427 471 426 475ZM424 390 426 392 428 393 440 392 442 391 443 388 444 386 444 383 442 381 436 376 433 375 430 375 428 377 422 383 422 387ZM434 271 437 274 448 278 451 278 454 277 456 274 457 271 455 259 454 256 452 254 449 254 441 253 437 254 435 257 432 264 432 268ZM417 106 416 109 416 112 418 116 421 118 433 119 436 118 438 115 438 111 435 99 434 97 431 95 428 94 424 95ZM431 14 428 15 425 17 424 21 425 24 427 29 429 31 435 33 438 33 441 31 442 28 443 21 442 18 441 16 438 14ZM435 361 435 368 437 370 443 376 446 377 448 377 452 376 453 373 455 369 455 366 454 364 446 357 443 355 439 356 437 358ZM435 163 434 165 435 168 439 171 443 171 450 168 452 166 454 163 454 154 453 150 451 148 447 147 444 147 441 148 437 152ZM434 78 434 83 438 86 441 86 452 85 454 83 456 81 457 73 457 71 455 68 453 67 444 62 440 63 437 64 436 67ZM446 6 447 3 447 -1 446 -4 443 -6 429 -8 425 -6 423 -3 422 5 424 8 426 10 429 10 441 9 444 8ZM456 10 453 9 450 10 448 12 447 15 447 29 449 32 452 33 456 33 459 32 466 24 468 21 468 18 466 15ZM446 118 442 120 440 124 444 139 445 141 448 143 451 144 454 144 457 142 458 140 465 128 465 123 462 120 456 117 453 116ZM442 440 431 449 431 452 432 456 435 459 442 461 445 460 448 459 453 450 454 447 453 444 452 441 449 440 445 439ZM443 431 445 433 447 435 450 435 453 433 460 424 460 420 458 417 456 416 449 414 446 414 442 417 440 419 439 423ZM433 496 433 500 435 503 441 506 445 506 448 505 449 502 453 494 453 491 452 487 448 485 445 485 439 487 437 488 435 490ZM448 310 453 317 456 319 464 319 467 318 471 315 472 312 472 309 471 305 468 302 460 298 456 298 454 298 449 303 448 306ZM450 38 446 39 443 42 442 52 442 55 445 58 456 63 459 64 461 63 466 61 467 58 468 56 468 52 458 39 455 38ZM456 390 451 390 447 393 447 397 448 406 449 408 452 410 458 412 462 412 464 411 466 409 469 402 470 398 468 396 466 394ZM451 461 449 464 450 468 453 472 456 473 459 472 468 468 471 466 471 463 471 457 469 454 467 452 462 451 460 451 457 453ZM446 185 448 188 451 189 454 189 458 187 460 185 462 182 462 180 461 177 458 173 455 172 452 172 448 174 445 176 444 178 444 182ZM448 199 448 204 449 207 455 212 458 213 460 214 463 212 465 210 470 199 470 195 470 193 468 191 465 190 463 189 451 195 449 197ZM452 326 448 333 448 337 451 340 453 341 456 341 463 340 466 338 467 335 467 332 466 327 465 325 462 323 457 323 454 324ZM440 102 442 105 445 107 448 107 451 106 453 103 454 101 454 96 452 92 450 90 448 90 444 90 441 91 440 94 439 96ZM456 377 455 382 457 386 465 389 468 389 472 387 479 378 481 375 481 372 479 369 475 366 464 368 460 370ZM435 244 436 247 439 249 454 250 457 248 460 245 461 243 461 240 457 231 454 229 451 229 436 237 434 240ZM457 345 453 347 451 349 450 353 452 356 458 362 460 363 463 364 469 362 471 360 472 357 471 349 470 347 468 345 466 344ZM459 477 456 479 455 483 457 488 459 490 473 494 476 494 479 491 482 482 482 479 481 476 477 473 474 471 472 471ZM457 107 458 111 461 114 465 114 469 113 471 110 473 107 472 99 470 96 468 94 465 94 463 94 460 95 458 99ZM458 158 458 167 460 170 464 173 468 174 472 173 478 168 479 165 479 162 478 159 476 157 467 153 464 153 461 154 459 156ZM452 507 451 512 453 515 461 519 465 519 468 518 470 516 475 507 475 503 474 500 471 498 460 496 458 497 456 499ZM467 45 471 47 474 48 477 46 483 42 484 39 483 35 479 29 477 27 474 26 470 27 464 33 463 36 463 39ZM458 -12 454 -11 451 -8 450 -4 452 1 454 4 462 8 465 8 468 8 470 6 475 -1 476 -4 475 -7 473 -9 470 -11ZM457 279 455 284 457 290 459 293 468 297 471 297 474 296 481 286 482 284 481 280 479 278 475 275 473 275 462 276 460 277ZM458 443 460 446 467 448 470 449 473 448 479 443 481 440 481 437 480 432 478 430 471 426 467 425 465 426 462 428 457 436 456 440ZM460 266 462 269 466 271 470 271 474 269 475 266 477 254 476 251 474 248 471 247 466 246 464 248 460 251 459 255ZM469 219 466 218 463 220 461 223 461 227 466 240 470 242 475 243 477 242 479 239 484 231 484 226 483 224 481 222ZM469 412 468 416 469 420 476 424 478 425 481 425 484 423 488 418 489 415 489 411 487 409 477 405 475 405 472 407ZM471 332 474 336 478 338 486 336 489 334 491 332 491 328 485 318 482 316 478 315 476 316 473 318 471 320 470 323ZM461 79 462 83 464 85 471 88 475 88 479 86 481 84 484 76 484 73 482 70 480 69 473 64 469 64 464 67 462 69ZM476 514 475 518 476 521 484 529 487 530 490 530 492 529 494 527 496 524 497 513 496 510 494 508 487 505 483 505 480 507ZM473 178 471 181 471 184 474 190 476 191 479 192 486 193 489 193 491 190 492 186 491 176 490 173 488 171 485 170 481 170ZM464 139 463 143 465 147 467 149 475 152 478 152 481 151 485 146 485 142 483 135 480 133 475 131 471 130 468 132 466 134ZM471 17 473 19 475 21 479 21 481 20 491 13 492 9 491 5 488 2 486 0 482 -0 479 1 471 11 471 14ZM477 450 475 453 474 456 476 465 478 468 484 472 486 473 489 473 493 472 496 470 498 468 498 464 496 450 494 446 489 444 485 444 483 445ZM476 307 478 310 480 311 484 312 487 311 496 304 497 300 496 297 494 294 489 292 486 291 483 292 476 300 475 304ZM479 264 479 268 481 270 484 272 487 273 489 272 496 268 498 265 498 262 497 258 495 256 489 254 486 254 484 254 481 257ZM477 359 478 362 481 365 485 365 489 363 490 361 495 348 494 345 493 342 490 341 487 340 480 342 477 344 475 348ZM502 555 504 558 507 560 518 560 522 559 525 555 528 518 527 516 519 507 516 505 512 505 505 508 502 510 501 512 498 541ZM472 115 470 118 470 122 471 124 474 126 481 129 484 129 487 128 490 124 491 120 490 116 489 114 486 112 477 112 475 113ZM471 206 471 210 471 212 473 214 475 216 485 218 488 217 491 213 491 211 490 202 488 200 485 198 480 197 476 198 474 200ZM475 390 474 393 474 396 475 399 478 401 490 404 493 403 496 400 496 396 493 385 491 383 489 381 486 381 483 382ZM478 51 476 54 475 56 476 60 477 62 487 68 491 68 495 66 496 61 496 51 495 49 494 46 490 45 487 45ZM487 93 484 92 481 92 479 93 476 96 476 99 476 103 478 105 480 107 483 108 487 108 490 106 492 104 493 101 492 98 490 95ZM484 154 483 157 484 163 486 165 491 168 495 168 503 166 505 164 506 162 506 158 504 153 503 151 500 149 490 149 487 150ZM484 239 483 243 485 247 487 249 494 251 497 250 499 249 503 243 504 240 504 237 502 234 498 230 494 229 491 229 489 231ZM483 493 484 497 486 500 497 505 501 505 512 501 514 499 515 496 517 486 513 479 511 477 503 474 500 474 490 477 488 479 487 481ZM487 21 485 24 484 28 488 37 491 39 494 40 497 40 499 39 501 37 502 33 503 23 501 19 499 17 495 17 492 17ZM488 139 490 142 493 144 500 145 503 144 505 142 506 138 504 130 503 128 500 127 497 126 494 127 488 132 488 136ZM495 118 496 121 499 123 503 123 506 122 516 113 517 109 516 106 511 101 509 100 505 99 500 101 499 103 494 110 493 113ZM493 312 491 315 491 318 496 328 498 330 500 331 503 331 505 330 514 318 514 315 513 312 507 306 503 306 499 307ZM485 435 487 438 489 440 496 442 499 441 511 434 512 430 511 424 503 416 500 415 497 415 494 417 485 428 484 431ZM506 194 498 195 496 196 494 199 494 202 495 208 496 211 499 213 503 213 507 212 510 210 513 203 513 200 512 197 509 195ZM497 70 490 73 488 75 486 83 486 87 488 89 498 96 501 96 504 95 506 93 507 91 509 80 508 77 506 74 500 71ZM500 347 494 364 495 366 496 368 498 370 501 370 507 370 511 368 513 366 513 363 514 351 513 346 510 344 507 343 505 343 502 344ZM491 276 487 279 487 282 487 285 490 288 497 291 501 291 504 289 510 278 510 276 509 273 507 271 504 270 500 271ZM494 -11 491 -9 490 -7 490 -4 490 -2 493 2 495 3 497 4 501 3 508 -4 509 -6 508 -10 506 -12 502 -14 500 -14ZM496 184 497 187 501 189 504 190 508 188 510 185 512 178 511 175 509 172 507 170 504 170 498 172 496 176ZM512 48 510 46 506 45 503 46 501 48 500 52 500 59 501 61 504 64 507 65 510 64 513 62 515 58 516 56 516 53ZM501 257 504 265 506 267 510 268 512 268 516 266 523 258 524 256 524 252 522 245 520 242 517 241 513 241 510 241 508 243 501 254ZM506 293 505 297 507 301 513 306 517 307 521 306 527 301 528 298 529 291 528 289 527 287 521 283 517 282 514 282 512 284ZM514 141 510 142 508 146 507 150 510 154 512 156 515 157 523 155 525 153 527 151 528 148 527 146 526 143 522 141ZM504 443 501 445 500 449 502 466 504 468 506 470 508 471 511 471 515 468 523 456 524 453 524 450 521 442 519 440 517 438 512 438ZM516 -11 518 -7 523 -3 526 -2 530 -3 535 -7 536 -9 537 -12 536 -14 528 -30 525 -33 523 -34 520 -33 518 -32 516 -30 513 -20ZM507 4 505 7 505 10 507 14 510 15 513 15 519 14 522 13 524 9 524 6 523 3 520 -1 517 -2 514 -2 512 -1ZM499 392 502 395 506 397 510 396 514 392 515 388 513 379 512 377 510 375 507 374 501 374 499 376 497 378 496 382ZM519 160 516 162 513 165 513 169 515 172 517 173 520 174 526 174 529 172 531 170 532 167 531 164 530 161 528 159 525 159ZM505 217 502 219 500 222 500 225 502 228 508 235 511 236 517 237 521 235 523 233 523 230 523 225 521 222 512 216 509 215ZM507 402 504 406 505 410 510 416 514 418 516 418 519 416 528 409 530 405 530 402 528 399 520 396 516 397ZM516 64 515 68 516 71 518 74 522 75 528 75 531 73 533 70 534 63 533 60 532 58 528 56 525 56 520 58ZM510 331 509 335 510 338 515 343 518 344 532 342 535 340 537 337 537 334 535 331 521 323 518 323 515 324ZM506 28 507 32 509 34 511 35 514 36 517 35 520 32 522 30 522 27 522 24 520 21 518 20 514 19 511 20 508 22 507 25ZM565 523 565 520 564 517 556 511 553 510 550 511 536 517 534 518 532 522 529 552 530 556 531 558 534 559 536 560 551 560 555 558 557 555ZM527 511 531 513 534 513 549 507 551 505 552 502 552 498 550 495 540 486 538 485 534 485 523 487 520 491 519 500 520 503ZM514 186 514 190 515 193 518 195 522 195 525 193 527 191 529 186 529 184 528 181 526 179 524 178 520 178 518 179 516 181ZM520 268 518 272 520 277 530 284 533 285 539 283 542 281 543 278 545 268 545 265 542 262 531 259 526 260ZM516 430 518 433 520 435 523 436 526 436 543 429 545 425 545 420 543 417 536 413 534 412 531 413 518 422 516 426ZM518 480 520 482 523 483 534 481 537 480 538 477 543 468 543 465 542 462 539 460 532 457 530 457 526 458 525 460 517 473 517 476ZM525 373 521 374 518 377 518 381 519 388 520 390 522 392 527 394 530 394 533 392 538 387 539 384 539 382 536 377 534 375 532 374ZM519 215 522 216 526 216 528 214 531 210 532 207 532 205 531 202 528 200 525 199 521 199 519 200 517 202 515 207 515 210 517 213ZM511 124 509 127 509 130 510 134 513 136 515 137 523 137 526 136 528 134 529 128 529 125 526 120 524 118 521 117 518 118ZM535 15 532 15 529 16 526 19 526 22 528 30 531 32 535 33 538 33 541 30 542 28 543 23 542 21 541 18ZM532 236 528 237 526 241 526 245 529 253 532 255 544 258 546 258 550 257 552 254 554 243 554 240 551 237 549 235 546 234ZM513 84 511 95 513 98 520 104 524 105 527 104 538 97 541 94 541 92 540 88 535 81 533 80 529 79 518 79 515 81ZM534 145 536 148 539 149 551 148 554 147 556 145 557 142 558 134 557 130 555 128 551 127 538 128 535 129 533 132 531 137 532 141ZM519 50 522 52 524 52 528 52 531 50 532 48 533 43 533 40 531 37 528 35 525 35 520 37 518 39 517 42 516 44 517 47ZM531 107 529 109 528 113 529 116 533 122 537 124 546 123 548 123 550 121 552 117 551 107 550 104 548 102 545 100 541 100ZM524 308 522 311 522 314 522 316 524 319 534 325 538 325 542 323 544 317 543 314 541 312 532 306 528 306ZM533 199 536 201 540 201 543 199 546 195 547 191 547 189 543 183 541 182 538 182 536 183 534 185 531 194 532 197ZM536 50 535 53 537 56 539 58 542 59 553 58 557 55 558 52 558 49 554 41 552 40 545 37 542 38 539 40ZM528 220 527 224 528 228 531 231 534 232 544 230 547 229 549 226 550 220 550 218 548 215 543 211 540 210 535 212ZM535 396 534 399 534 401 535 406 537 408 545 414 548 414 552 413 556 410 557 407 557 404 552 391 550 389 546 388 542 388ZM518 361 519 366 522 368 531 369 534 369 537 366 541 357 541 354 540 350 538 348 535 346 522 348 520 350 518 353ZM550 339 546 341 544 345 545 351 548 355 560 359 563 360 565 359 572 355 574 353 576 348 576 346 574 341 571 339 568 338ZM536 72 536 76 539 81 542 83 545 83 548 82 556 76 558 73 558 70 557 66 554 63 551 62 543 63 541 64 539 65ZM537 288 534 291 532 296 533 300 535 303 544 308 547 309 550 309 557 305 558 302 558 300 556 295 545 287 541 286ZM527 448 528 451 531 453 545 458 548 458 551 457 553 455 556 450 556 447 555 444 549 436 547 435 543 434 531 438 529 440 527 443ZM534 -1 532 1 531 4 532 7 534 10 543 14 546 14 550 11 551 9 551 6 550 -1 548 -4 545 -5 542 -6ZM559 468 554 466 550 467 548 469 543 477 543 481 544 484 551 489 554 490 557 489 564 483 565 481 566 478 565 475ZM542 153 538 154 536 157 535 159 536 168 536 170 538 173 540 174 543 174 546 174 556 166 558 163 558 159 557 155 554 153ZM548 316 545 329 546 331 548 333 550 335 561 334 565 333 567 330 568 327 565 316 564 313 561 311 558 310 556 311 551 313ZM547 201 546 205 546 208 550 212 553 214 557 214 564 211 566 209 568 206 568 203 565 196 563 194 561 193 555 193 553 194 551 195ZM546 27 547 31 549 34 553 35 556 34 565 26 566 23 566 19 564 17 562 15 557 14 553 14 548 19ZM549 87 546 91 547 95 549 98 552 100 555 101 567 99 573 92 574 89 574 85 572 83 563 78 558 79ZM547 278 547 282 549 285 558 291 562 292 565 291 568 289 572 278 572 275 571 272 569 270 559 266 555 265 553 266 550 268ZM542 379 545 382 550 383 553 383 557 380 559 376 560 369 560 366 558 363 556 362 549 360 546 360 543 362 540 369 539 372 540 374ZM550 186 552 188 555 189 562 188 564 186 566 183 567 181 566 178 563 174 561 172 558 172 555 172 551 175 549 178 548 182ZM556 120 558 124 562 127 566 126 570 124 572 122 574 119 573 116 569 107 567 105 565 104 561 104 559 105 557 107 555 111ZM553 228 553 232 556 236 559 238 561 239 573 237 576 236 579 233 580 229 581 226 576 215 574 213 570 213 557 218 555 221ZM549 427 550 432 558 441 560 443 564 443 571 441 573 439 574 437 576 428 576 425 569 414 566 412 563 412 561 413 552 418 550 421ZM561 143 563 147 567 150 582 151 585 150 588 147 589 144 587 131 587 128 584 125 579 124 565 131 562 134ZM558 493 556 498 556 505 558 508 564 512 567 512 570 511 578 503 578 499 576 491 574 489 572 487 569 486 566 487ZM565 383 562 383 559 385 557 388 556 391 561 403 564 405 567 406 571 404 578 397 579 395 579 392 579 389 576 387ZM576 305 573 305 571 307 569 309 568 313 572 326 575 329 579 329 582 328 592 320 594 318 594 314 593 310 590 307ZM567 55 563 57 561 60 561 63 563 72 565 74 574 80 578 80 581 79 586 74 587 71 587 68 582 57 580 55 577 54ZM554 -2 556 8 559 10 572 15 575 14 577 12 580 6 580 4 578 -4 576 -7 566 -11 563 -12 559 -10 556 -8 554 -5ZM562 163 563 167 568 174 572 177 575 177 584 176 587 174 588 171 588 160 587 157 584 155 570 154 567 155 563 158ZM571 291 571 296 574 300 576 301 589 302 592 301 594 299 599 288 599 283 597 280 588 273 584 271 582 272 579 273 578 275ZM561 36 559 39 559 42 561 47 563 49 565 50 568 51 572 50 575 48 577 45 577 43 576 35 574 32 571 30 567 31 565 32ZM568 188 568 192 572 202 575 205 578 206 582 205 592 197 594 195 595 188 595 185 592 182 590 180 587 179 573 182 570 184ZM576 419 580 421 583 421 593 418 596 416 597 414 598 408 595 399 593 397 589 395 585 396 574 407 573 409 573 413ZM558 455 557 458 558 461 571 475 573 476 577 475 582 472 585 470 585 465 581 450 580 447 578 445 573 445 563 448 560 450ZM556 254 556 258 558 261 576 268 579 268 582 266 584 264 585 260 585 256 579 244 577 242 575 241 572 241 560 243 558 246ZM581 40 582 43 584 45 586 46 590 46 599 40 600 37 600 33 599 31 597 29 589 26 585 26 582 28 580 31ZM571 360 566 364 565 367 564 374 565 378 568 380 579 383 582 383 585 381 587 378 587 374 579 362 577 361 574 360ZM578 509 577 513 577 516 578 518 581 520 591 522 594 522 598 520 600 518 602 512 601 510 600 507 598 505 596 504 584 504 581 505ZM573 98 572 101 572 104 579 117 581 119 583 120 586 119 588 118 591 115 593 108 593 105 591 102 584 95 582 94 577 95ZM584 232 581 238 582 240 586 249 589 252 592 253 595 252 602 249 604 246 605 243 604 240 601 233 598 230 595 230 587 229ZM579 435 580 439 583 443 587 443 596 441 599 439 601 437 602 432 602 429 599 424 596 422 593 423 582 427 580 429ZM585 81 583 85 584 89 593 98 595 100 600 100 610 95 613 93 614 91 615 85 614 83 609 77 607 75 593 75 590 76ZM588 348 585 349 582 350 581 353 580 355 581 359 588 367 591 369 594 369 604 364 605 361 605 359 604 353 603 351 599 349ZM592 173 594 177 599 183 602 183 608 182 611 181 618 172 619 169 619 166 618 163 609 154 606 153 598 154 595 156 593 158ZM591 377 590 385 591 388 593 390 596 391 599 390 613 386 616 384 617 381 617 372 616 370 614 368 610 367 607 367 593 375ZM596 308 600 315 603 316 606 317 608 316 621 308 623 305 622 301 619 298 608 293 605 293 602 293 600 296 596 304ZM589 263 588 266 590 269 597 275 601 276 604 276 615 269 617 267 618 264 615 254 613 251 609 250 606 251 592 258 590 260ZM584 332 582 335 581 339 583 342 587 344 602 344 605 342 608 338 608 334 605 326 603 324 600 322 598 322 595 323ZM591 483 589 480 585 480 581 482 579 485 579 489 582 496 583 498 586 499 593 499 595 498 597 495 597 492 597 490ZM583 -3 585 -0 588 1 600 0 604 -1 605 -4 606 -8 603 -18 602 -20 597 -22 594 -22 592 -21 583 -10 582 -7ZM598 469 595 471 593 476 594 479 598 485 601 487 605 487 612 483 613 480 615 475 614 471 613 469 610 468 608 467ZM608 410 604 412 601 416 601 420 604 424 606 425 610 425 618 424 622 422 623 420 623 417 623 415 621 412 617 411ZM588 460 590 463 594 465 606 463 609 462 611 460 612 458 612 455 610 452 603 445 599 444 592 446 588 448 586 451 586 454ZM583 221 585 223 588 225 599 225 602 224 605 220 606 218 606 214 605 212 598 204 596 203 592 203 584 208 582 211 581 215ZM610 359 612 363 619 366 622 365 630 362 633 359 635 350 636 347 635 345 633 342 630 341 616 340 612 341 610 343 608 347ZM598 194 598 196 599 200 609 210 611 212 614 212 618 211 623 205 623 201 622 198 613 189 611 187 608 187 602 188 600 190ZM600 125 595 126 592 129 592 132 593 144 595 147 597 149 606 149 609 147 614 141 615 139 615 136 612 129 610 127 608 126ZM582 11 582 15 584 19 599 26 602 26 605 24 609 16 609 13 607 8 605 6 602 5 587 6 584 8ZM601 71 605 70 608 68 612 51 612 49 611 46 609 44 606 43 602 44 590 50 588 52 587 55 587 58 591 68 595 70ZM596 112 596 116 598 120 601 121 608 122 610 122 613 120 616 116 617 113 615 104 613 102 609 101 606 101 599 105 597 108ZM616 -3 612 -1 611 3 611 6 613 11 615 13 618 13 624 14 628 12 630 9 631 3 631 1 630 -2 627 -3 625 -4ZM606 225 605 228 605 231 609 241 612 243 615 244 618 243 626 237 627 233 626 230 618 220 615 219 612 220 610 221ZM602 498 602 502 604 505 606 507 609 508 616 507 619 506 622 502 623 498 622 495 618 491 616 489 613 488 610 489 604 493 603 495ZM625 53 623 52 619 53 617 54 615 57 611 71 613 75 617 78 621 78 634 73 637 71 638 69 638 65 637 61ZM607 36 609 39 613 42 617 43 620 42 631 31 632 29 632 25 631 21 629 19 626 18 617 17 614 19 612 20 607 30 606 32ZM611 512 608 513 605 515 604 519 605 522 616 534 619 536 623 535 625 533 627 531 628 524 627 520 620 512 617 511ZM612 448 615 449 618 450 621 448 623 446 625 435 624 432 621 429 618 428 611 429 608 431 606 433 605 438 605 441 607 443ZM616 128 619 134 622 136 630 136 632 135 635 133 636 131 637 126 636 123 634 121 632 120 625 118 621 118 618 120 616 124ZM610 277 608 279 606 283 607 286 609 289 621 294 625 293 627 291 629 287 629 278 628 275 626 273 623 272 620 272ZM606 392 603 394 601 398 602 402 604 405 607 406 616 406 620 405 622 403 624 399 624 396 623 393 621 391 616 389ZM629 99 626 99 623 100 621 103 620 107 621 110 623 113 629 115 632 115 635 114 637 112 638 109 638 106 636 102ZM615 146 614 150 615 154 623 163 627 165 630 165 633 163 640 152 642 149 641 146 640 144 637 141 634 140 621 140 618 142ZM629 417 631 419 634 421 640 420 644 418 650 407 651 405 651 401 647 396 645 394 642 394 632 395 629 398 627 400 625 408 626 411ZM626 475 623 475 621 476 619 479 618 483 619 486 624 491 627 492 629 492 633 491 634 489 636 484 636 481 635 479 633 477ZM617 467 619 469 621 470 636 472 638 472 641 471 643 469 645 462 645 459 643 457 641 455 628 451 625 451 619 454 617 457 616 463ZM623 263 626 267 631 269 638 266 641 264 642 260 642 245 640 241 638 239 635 238 631 239 620 248 619 252ZM621 382 622 386 625 390 627 391 631 392 641 390 643 389 646 386 646 381 645 377 636 368 634 367 631 366 625 369 623 371 622 374ZM611 331 612 334 615 336 631 337 634 336 636 333 637 326 630 314 627 313 624 312 612 318 610 320 609 325ZM627 547 628 555 630 558 632 559 634 560 644 560 647 559 649 558 651 554 654 525 653 521 652 519 649 518 646 518 636 522 633 523 632 526ZM631 498 628 500 625 505 624 509 626 512 629 516 633 518 636 517 643 514 645 512 646 509 646 507 645 504 636 498 634 497ZM618 179 616 183 617 187 624 194 627 196 630 196 633 194 640 183 640 181 639 178 634 172 630 170 627 170 625 171ZM638 300 633 302 632 304 632 307 632 310 638 319 641 321 644 321 653 317 655 315 656 312 654 303 653 301 650 299 648 298ZM626 81 623 83 622 87 623 90 625 93 638 97 642 96 646 92 647 89 646 86 640 78 637 77 635 77ZM623 211 622 215 623 219 630 228 633 229 636 230 639 228 646 218 646 214 644 211 634 204 631 204 628 205ZM628 40 626 43 626 45 627 49 629 51 641 58 645 58 649 54 650 51 650 47 649 44 647 42 636 36 632 37ZM634 9 634 11 636 14 638 16 641 17 653 14 656 11 657 8 656 5 652 -1 646 -5 643 -5 640 -4 637 -2ZM647 120 644 121 641 124 640 136 641 138 645 144 648 145 651 145 653 144 656 142 662 129 662 125 661 122 658 120 655 119ZM639 489 639 492 640 495 647 501 650 501 653 501 655 500 657 497 658 490 657 486 655 484 650 480 646 480 643 481 640 484ZM633 288 635 293 639 295 651 294 654 292 656 290 657 286 653 275 652 272 650 270 644 269 635 272 634 274 633 276ZM628 441 629 445 631 447 641 450 644 451 647 449 649 447 652 440 652 437 650 434 644 426 641 424 635 425 632 426 630 429ZM640 335 640 338 641 341 643 343 646 343 661 345 665 343 667 340 667 337 663 325 661 323 658 321 655 321 643 326 641 329ZM643 177 647 179 655 180 662 176 663 173 666 167 664 158 662 156 655 151 650 150 646 152 637 164 637 167 637 169ZM638 194 637 197 638 201 646 208 648 209 651 209 654 208 656 206 657 203 657 201 655 189 652 186 648 184 644 185 642 187ZM642 104 643 112 644 114 646 116 650 116 656 115 658 114 661 111 661 108 660 105 655 98 653 97 650 96 647 97 643 101ZM637 358 637 361 638 364 646 373 649 374 653 374 663 369 665 367 666 364 664 354 663 351 660 350 646 348 643 348 639 351ZM644 229 642 232 643 236 645 238 648 240 663 240 666 238 668 235 668 231 667 228 658 220 655 219 652 219 649 221ZM643 21 639 22 637 25 637 29 638 32 647 38 650 38 653 37 656 34 657 31 656 25 655 23 653 21 651 20ZM642 69 642 72 643 75 649 83 652 84 655 84 657 84 663 80 665 76 665 67 664 64 662 61 655 59 651 59 645 62 644 64ZM649 388 650 392 655 400 659 402 664 402 678 395 680 393 681 390 683 381 681 379 679 377 671 372 667 371 652 379 650 382ZM672 14 669 12 666 12 662 13 660 16 660 19 661 28 663 31 665 32 670 33 673 33 675 31 678 28 678 25 678 22ZM655 505 653 509 653 513 656 517 659 519 666 519 668 518 671 516 674 512 675 509 674 506 672 504 670 503 663 501 661 501 658 502ZM647 468 647 471 649 474 657 480 659 481 663 481 668 478 670 476 671 474 671 468 669 464 667 463 657 460 653 460 650 462 649 464ZM648 424 655 433 658 434 665 433 669 431 671 428 671 424 666 411 664 409 662 407 658 407 655 409 648 419 648 422ZM655 41 654 45 654 50 655 53 658 55 664 58 668 58 675 55 677 51 678 49 677 46 675 40 672 38 664 36 661 36 658 38ZM646 250 647 263 648 265 651 267 653 267 657 266 664 261 666 260 667 256 668 250 667 247 664 245 661 244 652 244 649 245 647 247ZM671 293 662 292 659 294 658 297 657 300 660 312 663 314 667 315 671 313 673 311 676 299 676 297 673 294ZM661 86 658 89 658 93 659 96 666 106 669 108 671 108 678 105 680 102 680 99 677 88 676 86 671 83 668 82 665 83ZM656 441 653 450 653 453 656 455 658 456 669 459 673 457 675 453 674 442 673 439 670 437 667 437 658 439ZM671 184 668 183 664 183 661 184 659 187 659 190 660 197 662 199 665 201 668 201 674 200 677 198 678 196 678 193 677 190ZM701 -9 703 -6 705 -4 707 -3 711 -4 713 -5 726 -19 727 -22 728 -41 727 -45 724 -47 721 -48 701 -48 698 -47 696 -44 695 -40ZM670 346 669 349 668 352 671 364 672 367 685 375 688 375 694 372 695 369 700 357 700 354 698 351 696 349 680 343 674 344ZM660 142 660 145 661 149 664 151 668 152 679 146 681 143 681 140 681 137 679 135 674 131 670 130 667 131 665 133ZM662 491 662 494 665 497 675 500 678 500 681 498 682 496 683 492 683 489 681 486 675 482 672 481 669 482 664 485 662 488ZM660 283 662 287 665 288 671 289 675 287 678 284 679 274 679 271 678 268 673 265 670 264 667 265 660 269 658 271 658 274ZM669 330 671 333 673 334 676 335 679 334 682 331 684 327 684 324 683 322 681 320 676 317 673 317 671 318 669 320 668 323ZM674 421 677 424 680 425 682 425 685 423 693 415 693 412 692 409 683 400 680 399 678 400 672 403 670 405 670 410ZM670 74 671 77 673 79 676 81 680 80 688 74 689 71 689 68 688 65 681 59 679 59 676 59 672 61 670 63 669 66ZM665 206 662 207 660 209 659 212 659 215 661 218 667 222 669 223 673 222 681 216 682 212 681 209 679 206 676 205ZM660 4 663 7 668 8 671 6 675 2 677 -0 677 -3 675 -10 672 -12 669 -13 665 -13 659 -6 658 -4 658 -1ZM685 500 685 504 687 507 692 510 696 510 704 505 705 503 706 493 706 490 704 487 700 486 697 486 691 489 688 492ZM673 112 671 114 669 117 670 121 671 123 683 132 687 132 691 130 693 126 693 123 687 111 685 109 681 109ZM679 243 675 245 672 248 672 256 673 260 680 264 683 265 685 265 694 262 696 259 699 252 699 249 697 247 693 244ZM675 -27 675 -23 681 -4 684 -2 686 -2 692 -2 694 -3 696 -6 697 -9 691 -38 689 -42 687 -43 684 -44 681 -43 679 -41 678 -39ZM680 170 677 171 675 172 673 175 673 178 674 182 678 185 681 187 684 187 687 185 689 183 690 181 690 178 689 174 687 172 685 171ZM678 5 676 9 676 12 677 15 682 21 686 22 694 22 697 21 699 19 700 16 701 8 700 5 698 3 694 2 683 3 680 3ZM672 233 674 237 677 239 691 240 694 240 696 238 698 236 698 233 697 230 692 221 689 219 687 218 683 219 674 227 673 229ZM679 308 679 312 681 315 686 317 690 317 692 315 694 313 696 305 696 302 694 299 692 297 687 296 685 297 681 300ZM683 463 679 463 676 467 675 473 676 477 684 484 687 485 690 485 696 482 699 480 700 476 696 466 693 464ZM676 517 675 520 675 524 677 528 681 530 684 530 687 529 691 524 692 522 693 518 691 516 686 512 683 511 681 512ZM689 441 684 440 680 443 679 446 679 454 681 457 684 458 692 459 695 459 698 457 700 454 701 451 700 449 698 445ZM675 153 672 155 671 159 672 162 675 165 677 166 686 167 690 165 692 162 693 159 692 156 691 153 686 150 681 149ZM679 40 681 43 685 45 688 44 695 41 697 39 698 37 698 32 697 29 695 27 693 26 687 26 683 27 682 29 679 35 678 37ZM682 199 682 203 685 208 688 210 692 210 695 209 705 200 707 197 707 194 706 192 704 189 696 187 693 187 684 192 683 194ZM682 284 682 288 684 291 687 292 693 293 696 292 698 290 702 285 702 281 696 270 693 268 690 268 686 269 684 272ZM685 391 685 394 687 397 696 406 700 408 703 407 705 405 714 394 715 390 714 387 712 385 699 377 695 377 691 378 688 381ZM684 95 686 99 690 100 693 100 698 97 700 94 702 83 701 80 700 78 697 76 693 76 683 83 682 85 682 88ZM689 136 687 139 687 144 689 147 692 150 695 150 698 150 701 149 707 141 709 138 708 135 707 132 705 131 700 130 696 131ZM686 333 685 337 687 340 689 342 696 344 699 344 702 341 704 334 704 331 702 328 698 325 694 324 692 324 689 326ZM696 45 687 50 685 53 685 55 687 59 696 68 700 68 704 67 705 65 708 59 708 55 707 53 702 47 699 45ZM715 8 710 7 706 9 704 12 703 18 704 20 705 23 708 25 718 27 721 27 724 25 725 23 725 16 723 13ZM711 238 707 239 704 242 703 247 705 251 707 252 722 259 725 259 728 258 730 255 730 253 730 246 729 243 725 241ZM705 419 701 417 697 418 689 426 687 428 687 431 687 433 689 436 698 440 702 440 705 438 706 435 708 425 707 422ZM700 184 703 184 707 182 709 179 711 172 710 169 708 167 703 164 700 163 697 163 695 165 693 168 692 171 695 180 697 182ZM697 122 701 126 708 127 711 125 714 121 713 111 712 108 709 105 702 102 699 102 695 103 693 105 692 108 692 112ZM709 258 705 257 702 258 700 261 699 265 704 276 707 278 710 278 714 277 716 275 719 270 719 267 719 264 717 262ZM699 225 702 227 705 228 708 228 711 226 719 213 719 209 716 204 712 203 709 203 697 212 696 215 696 217ZM698 314 698 317 698 320 704 325 707 325 710 325 712 324 714 321 715 313 713 310 711 308 706 306 702 307 699 310ZM703 43 712 51 715 52 722 50 725 48 728 43 729 40 729 37 727 34 724 33 710 30 707 30 704 31 702 35 702 40ZM704 477 707 481 712 481 721 479 726 473 726 471 726 468 721 455 718 453 712 451 708 451 705 453 701 459 700 462 700 465ZM701 367 700 370 702 374 713 381 715 382 719 381 721 379 727 373 728 369 727 366 721 358 719 356 716 355 710 355 706 357 704 359ZM701 511 699 514 698 516 699 520 701 522 705 525 709 525 712 524 715 521 716 518 716 515 714 512 712 510 709 509 707 509ZM715 527 713 530 713 533 718 555 720 557 722 558 725 559 727 558 730 556 731 554 736 527 735 523 731 518 729 517 725 517 722 519ZM708 147 704 152 703 156 704 158 706 161 712 164 715 165 720 164 723 161 724 157 723 153 716 146 713 145 710 146ZM710 439 710 444 712 446 717 448 720 448 723 447 729 441 731 439 731 435 727 427 725 425 722 424 717 424 714 425 712 427ZM702 291 701 296 703 299 705 301 715 305 717 306 720 305 724 303 726 300 727 296 725 293 714 285 711 284 707 285ZM713 136 716 140 724 148 726 149 731 149 735 146 737 144 738 141 738 139 735 131 734 128 730 127 720 126 717 127 714 131ZM710 66 709 71 711 74 724 79 726 80 730 78 731 76 734 71 734 68 733 66 728 57 724 55 720 55 715 57 713 59ZM706 343 706 347 709 350 712 351 718 351 721 350 727 342 729 339 729 336 728 334 725 332 718 329 714 329 711 330 709 332ZM711 191 714 194 719 195 731 188 733 186 734 184 735 178 733 174 727 169 725 168 722 168 718 169 716 172 711 186 710 188ZM709 418 713 420 721 420 724 419 726 417 728 414 728 411 726 403 723 400 719 398 715 399 708 408 707 410 707 413 708 416ZM704 92 704 96 706 99 711 102 715 102 718 101 727 95 728 93 729 90 728 87 725 84 715 81 712 80 710 81 707 83ZM711 491 710 502 712 505 721 512 724 513 727 512 730 510 733 502 732 498 724 487 722 485 719 485 714 485 712 488ZM718 319 719 322 721 325 726 328 729 328 733 326 736 322 737 320 738 317 736 313 731 308 728 307 726 307 722 309 720 311ZM720 276 719 279 720 282 721 285 726 288 729 289 731 289 734 288 736 286 737 283 736 272 735 269 733 267 730 266 726 267 724 269ZM730 22 731 26 732 28 735 29 739 29 749 24 751 21 751 17 750 15 745 9 743 8 739 8 733 12 731 13 730 17ZM732 372 725 382 725 385 727 389 730 391 738 391 742 390 744 388 747 382 748 379 746 375 743 372 740 371 736 371ZM728 477 726 481 727 485 734 494 737 496 740 496 753 493 755 491 757 488 758 486 757 482 749 472 746 471 743 470 732 472 730 474ZM727 349 725 353 725 356 731 364 733 365 736 366 738 365 740 364 742 362 745 353 744 350 743 347 737 344 734 344 730 345ZM726 237 729 236 732 235 733 233 734 229 732 220 729 217 725 216 723 217 720 219 716 226 715 229 716 232 718 234 720 236ZM742 449 739 445 734 444 731 445 726 450 725 453 725 456 729 464 732 467 735 468 740 467 742 466 744 463 745 459ZM737 518 740 520 742 521 755 519 758 518 760 515 761 512 759 502 757 500 754 498 752 497 740 500 738 502 736 504 734 512 735 515ZM733 88 735 91 738 92 750 90 753 89 754 87 756 82 756 78 752 73 749 71 747 71 740 72 738 74 733 82 732 84ZM718 116 719 120 723 122 732 123 736 121 738 118 739 114 734 103 731 100 728 100 720 105 717 109ZM728 159 728 162 729 165 735 170 738 171 741 171 749 168 751 166 752 163 752 161 750 151 748 148 744 147 740 147 731 153 729 155ZM723 208 725 211 731 213 735 214 746 208 747 205 747 201 745 198 738 193 735 192 733 192 724 197 722 199 721 203ZM731 -21 732 -17 739 -7 741 -6 745 -5 747 -5 752 -9 754 -11 755 -15 749 -43 748 -45 745 -47 742 -48 738 -48 735 -47 733 -45 732 -41ZM724 8 727 9 730 8 736 5 737 2 738 -1 737 -4 733 -9 730 -11 726 -11 724 -10 718 -4 717 -2 716 1 718 4 720 6ZM742 313 746 315 751 314 753 313 756 309 757 300 756 297 753 293 741 290 737 291 733 294 731 296 731 300 732 304ZM736 416 733 418 731 420 730 423 730 425 736 435 739 436 743 436 746 434 747 432 751 424 750 419 748 417 745 415ZM734 255 736 260 740 262 749 261 752 260 754 257 755 253 752 243 750 241 748 239 746 238 741 238 737 240 735 244ZM742 48 738 48 735 49 733 52 732 56 733 59 738 65 741 67 745 67 748 66 750 63 752 58 752 56 749 51ZM735 330 734 334 736 339 743 343 747 343 750 341 751 339 758 328 758 324 756 321 753 319 746 319 742 321ZM756 442 753 441 750 442 748 443 746 446 746 450 747 453 749 455 752 457 754 457 757 456 760 454 761 451 762 448 761 446 759 444ZM740 411 743 410 745 408 746 405 745 402 743 398 741 396 738 395 734 395 732 397 730 400 730 403 731 407 732 410 735 411 737 412ZM767 402 757 408 755 411 755 414 756 416 759 419 766 421 769 421 772 419 776 410 776 407 775 405 773 403 771 402ZM738 184 738 187 740 189 748 195 751 195 754 195 756 193 757 191 757 187 755 178 753 175 751 174 747 173 741 176 739 179ZM743 32 740 34 739 38 739 41 741 44 753 48 757 47 759 45 761 42 760 35 759 33 756 30 753 28 750 28ZM742 120 739 125 739 128 742 139 744 142 747 143 751 144 754 143 758 141 760 137 761 127 760 123 758 121 755 119 745 119ZM738 228 739 231 742 234 750 234 753 233 757 229 758 227 758 223 752 215 749 213 745 213 740 216 738 219 737 222ZM757 353 753 352 750 354 748 357 745 365 746 368 747 370 752 374 755 375 758 375 761 374 763 372 763 369 763 358 761 355ZM748 399 752 403 756 403 758 402 770 396 772 393 772 390 769 382 767 381 764 380 757 380 753 381 751 383 747 392 747 395ZM741 280 742 284 745 286 750 288 754 286 756 284 760 274 759 271 758 268 755 266 753 265 746 266 744 267 742 269 741 271ZM742 110 743 113 746 115 757 115 759 114 761 112 762 109 762 107 761 104 755 96 753 95 749 95 743 96 740 99 739 103ZM766 234 763 233 760 233 757 235 755 239 755 241 758 249 760 251 763 253 766 253 772 251 774 248 775 246 775 242 774 240ZM755 462 753 464 752 467 752 469 754 472 762 482 765 482 769 481 775 474 777 471 777 467 772 458 770 456 766 455ZM763 319 765 321 771 322 776 322 791 315 793 311 792 306 790 303 777 296 774 296 765 299 763 300 761 302 760 312 760 316ZM750 -3 748 1 748 5 750 9 753 11 756 12 759 11 766 7 768 4 769 0 767 -3 765 -5 761 -7 756 -7ZM752 205 752 207 753 210 759 217 762 219 765 219 768 218 774 213 776 210 776 207 774 204 769 198 765 196 761 196 755 200 753 201ZM754 64 754 67 755 70 760 75 764 76 767 75 769 73 775 64 776 60 774 56 772 55 766 52 762 52 760 53 758 55ZM775 118 770 118 766 121 765 123 764 135 765 138 768 140 776 143 778 143 790 136 792 133 793 130 792 127 789 125ZM756 159 758 162 761 165 769 165 772 164 775 162 776 159 776 152 776 149 774 147 771 146 764 144 760 144 756 147 755 150ZM773 169 763 169 761 171 759 174 759 176 762 186 764 188 768 188 772 187 777 180 779 178 779 175 778 172 775 170ZM772 490 769 488 765 490 762 493 762 496 765 513 768 515 774 516 778 515 785 508 786 506 787 503 786 500 784 498ZM763 441 768 442 771 440 773 436 773 432 771 428 769 426 761 424 757 424 755 426 753 428 753 431 753 434 755 437ZM767 363 768 367 770 369 774 370 777 370 785 362 787 359 786 355 785 353 781 351 778 350 775 351 770 354 768 356 767 358ZM756 340 755 343 756 347 758 349 764 351 767 351 772 348 774 346 775 343 773 332 771 329 768 328 764 328 762 330ZM760 284 760 288 761 291 764 293 768 294 771 293 774 290 775 288 775 281 774 279 772 277 770 276 767 276 765 277 763 278ZM760 84 757 90 758 94 763 100 765 101 768 102 771 101 777 95 777 91 776 88 768 81 765 81 762 82ZM760 15 757 18 756 22 758 26 762 29 765 30 767 29 775 26 777 23 778 20 777 15 776 12 773 11 771 10 768 10ZM766 257 762 260 761 264 762 268 765 271 778 273 785 270 787 267 788 263 787 260 779 254 775 254ZM773 219 768 223 767 226 768 229 770 232 774 235 777 236 781 235 784 233 785 230 785 226 784 224 781 220 779 219 776 218ZM765 43 766 46 768 48 773 50 777 50 779 49 788 41 790 37 789 34 787 31 784 29 781 28 778 29 767 34 765 37ZM773 -8 772 -4 773 0 776 3 780 4 812 -8 814 -10 815 -12 816 -15 816 -42 814 -46 812 -47 809 -48 805 -48 802 -46ZM774 104 773 107 773 110 775 113 777 115 805 127 812 127 814 125 815 123 816 120 816 96 815 93 812 90 808 90 784 93 782 95ZM777 201 779 203 784 203 811 193 814 192 815 189 815 187 815 184 813 181 810 180 790 177 786 178 783 179 774 191 773 196ZM774 72 773 76 774 80 780 87 783 88 786 89 797 87 800 85 802 83 802 79 800 75 784 67 781 67 778 68Z"/>
</g>
</svg>
<svg class="bgx" width="768" height="512" viewBox="0 0 768 512" style="position:absolute;left:0;top:0">
<g fill="none" stroke-linecap="round" stroke-linejoin="round">
<g stroke="#9fc393" stroke-opacity="0.36">
<path d="M190.0,-4.0 C185.7,-3.1 175.2,-0.0 164.0,1.4 C152.8,2.8 136.7,3.3 123.0,4.5 C109.3,5.7 93.0,6.9 82.0,8.5 C71.0,10.1 60.9,11.2 57.0,14.0 C53.1,16.8 58.2,21.3 58.5,25.0 C58.8,28.7 59.9,29.7 58.8,36.0 C57.7,42.3 55.0,55.3 52.0,63.0 C49.0,70.7 46.0,75.2 41.0,82.0 C36.0,88.8 27.8,98.0 22.0,104.0 C16.2,110.0 9.0,108.7 6.0,118.0 C3.0,127.3 4.3,141.3 4.0,160.0 C3.7,178.7 3.7,210.0 4.0,230.0 C4.3,250.0 4.2,263.8 6.0,280.0 C7.8,296.2 10.8,310.7 15.0,327.0 C19.2,343.3 27.5,363.5 31.0,378.0 C34.5,392.5 35.7,399.5 36.0,414.0 C36.3,428.5 34.3,448.0 33.0,465.0 C31.7,482.0 28.8,507.5 28.0,516.0" stroke-width="9"/>
<path d="M200.0,-4.0 C203.5,-0.7 213.8,9.8 221.0,15.6 C228.2,21.4 235.2,27.1 243.0,31.0 C250.8,34.9 259.7,37.4 268.0,39.0 C276.3,40.6 284.2,40.9 293.0,40.6 C301.8,40.4 312.2,39.1 321.0,37.5 C329.8,35.9 338.7,33.1 346.0,31.0 C353.3,28.9 359.8,25.0 365.0,25.0 C370.2,25.0 373.3,27.3 377.5,31.0 C381.7,34.7 386.2,42.3 390.0,47.0 C393.8,51.7 397.2,54.3 400.0,59.0 C402.8,63.7 405.8,68.5 407.0,75.0 C408.2,81.5 408.0,90.2 407.0,98.0 C406.0,105.8 403.3,114.2 401.0,122.0 C398.7,129.8 395.5,138.3 393.0,145.0 C390.5,151.7 388.0,153.8 386.0,162.0 C384.0,170.2 382.2,182.5 381.0,194.0 C379.8,205.5 378.7,219.3 379.0,231.0 C379.3,242.7 380.7,253.0 383.0,264.0 C385.3,275.0 389.3,286.5 393.0,297.0 C396.7,307.5 401.0,317.5 405.0,327.0 C409.0,336.5 410.8,344.7 417.0,354.0 C423.2,363.3 433.0,374.0 442.0,383.0 C451.0,392.0 462.3,401.2 471.0,408.0 C479.7,414.8 489.2,417.2 494.0,424.0 C498.8,430.8 500.3,440.7 500.0,449.0 C499.7,457.3 495.5,466.3 492.0,474.0 C488.5,481.7 485.2,489.5 479.0,495.0 C472.8,500.5 463.2,503.5 455.0,507.0 C446.8,510.5 434.2,514.5 430.0,516.0" stroke-width="10"/>
<circle cx="147.5" cy="80" r="28" stroke-width="11"/>
</g>
<g stroke="#dfeedb" stroke-opacity="0.35">
<path d="M190.0,-4.0 C185.7,-3.1 175.2,-0.0 164.0,1.4 C152.8,2.8 136.7,3.3 123.0,4.5 C109.3,5.7 93.0,6.9 82.0,8.5 C71.0,10.1 60.9,11.2 57.0,14.0 C53.1,16.8 58.2,21.3 58.5,25.0 C58.8,28.7 59.9,29.7 58.8,36.0 C57.7,42.3 55.0,55.3 52.0,63.0 C49.0,70.7 46.0,75.2 41.0,82.0 C36.0,88.8 27.8,98.0 22.0,104.0 C16.2,110.0 9.0,108.7 6.0,118.0 C3.0,127.3 4.3,141.3 4.0,160.0 C3.7,178.7 3.7,210.0 4.0,230.0 C4.3,250.0 4.2,263.8 6.0,280.0 C7.8,296.2 10.8,310.7 15.0,327.0 C19.2,343.3 27.5,363.5 31.0,378.0 C34.5,392.5 35.7,399.5 36.0,414.0 C36.3,428.5 34.3,448.0 33.0,465.0 C31.7,482.0 28.8,507.5 28.0,516.0" stroke-width="4"/>
<path d="M200.0,-4.0 C203.5,-0.7 213.8,9.8 221.0,15.6 C228.2,21.4 235.2,27.1 243.0,31.0 C250.8,34.9 259.7,37.4 268.0,39.0 C276.3,40.6 284.2,40.9 293.0,40.6 C301.8,40.4 312.2,39.1 321.0,37.5 C329.8,35.9 338.7,33.1 346.0,31.0 C353.3,28.9 359.8,25.0 365.0,25.0 C370.2,25.0 373.3,27.3 377.5,31.0 C381.7,34.7 386.2,42.3 390.0,47.0 C393.8,51.7 397.2,54.3 400.0,59.0 C402.8,63.7 405.8,68.5 407.0,75.0 C408.2,81.5 408.0,90.2 407.0,98.0 C406.0,105.8 403.3,114.2 401.0,122.0 C398.7,129.8 395.5,138.3 393.0,145.0 C390.5,151.7 388.0,153.8 386.0,162.0 C384.0,170.2 382.2,182.5 381.0,194.0 C379.8,205.5 378.7,219.3 379.0,231.0 C379.3,242.7 380.7,253.0 383.0,264.0 C385.3,275.0 389.3,286.5 393.0,297.0 C396.7,307.5 401.0,317.5 405.0,327.0 C409.0,336.5 410.8,344.7 417.0,354.0 C423.2,363.3 433.0,374.0 442.0,383.0 C451.0,392.0 462.3,401.2 471.0,408.0 C479.7,414.8 489.2,417.2 494.0,424.0 C498.8,430.8 500.3,440.7 500.0,449.0 C499.7,457.3 495.5,466.3 492.0,474.0 C488.5,481.7 485.2,489.5 479.0,495.0 C472.8,500.5 463.2,503.5 455.0,507.0 C446.8,510.5 434.2,514.5 430.0,516.0" stroke-width="5"/>
<circle cx="147.5" cy="80" r="28" stroke-width="5"/>
</g>
</g></svg>
<svg width="768" height="512" viewBox="0 0 768 512">
  <!-- edge strips -->
  <rect x="0" y="0" width="2" height="512" fill="#58784a"/>
  <rect x="2" y="0" width="1.2" height="512" fill="#a9c09c"/>
  <rect x="765.6" y="0" width="2.4" height="512" fill="#7c8f72"/>
  <!-- circle -->
  <circle cx="163" cy="260" r="117.3" fill="#e6e5e7" stroke="#8e9486" stroke-width="1.4"/>
  <!-- circle underlines -->
  <rect x="118.5" y="179.2" width="98" height="2" fill="#3a3a3a"/>
  <rect x="86.5" y="205.5" width="163" height="2" fill="#3a3a3a"/>
  <!-- divider -->
  <rect x="56" y="292.9" width="212.5" height="1.3" fill="#7f8577"/>
  <!-- arc -->
  <path d="M265.6,130.9 A189.9,189.9 0 0 1 276.4,394.8" fill="none" stroke="#d3e6cb" stroke-width="4.4" stroke-linecap="round"/>
  <path d="M265.6,130.9 A189.9,189.9 0 0 1 276.4,394.8" fill="none" stroke="#4b7f3c" stroke-width="2.2" stroke-linecap="round"/>
  <!-- pink bars -->
  <rect x="337.8" y="59.9" width="29.6" height="409.3" fill="#fce4d6"/>
  <rect x="717" y="56.4" width="28.9" height="409.4" fill="#fce4d6"/>
  <!-- header lines -->
  <g stroke-linecap="butt">
  <path d="M367.3,84.4 L716.8,82.7 M367.3,202.3 L716.8,200.7 M367.3,315.7 L716.8,313.75 M367.3,420.7 L716.8,418.7" stroke="#d6e2d0" stroke-width="3.2" fill="none"/>
  <path d="M367.3,84.4 L716.8,82.7 M367.3,202.3 L716.8,200.7 M367.3,315.7 L716.8,313.75 M367.3,420.7 L716.8,418.7" stroke="#97a48e" stroke-width="1.4" fill="none"/>
  </g>
</svg>
<div class='t v' id='v1' style='left:345.78px;top:423.34px;font-size:14.79px;letter-spacing:2.910px;transform:rotate(-90deg)'>MONTLY PERFORMANC: JUNE 25</div>
<div class='t v' id='v2' style='left:724.42px;top:445.30px;font-size:15.21px;letter-spacing:2.959px;transform:rotate(-90deg)'>YTD PERFORMANC:JUL 24 &ndash; JUNE 25</div>
<div class='t' id='title' style='left:226.23px;top:-9.08px;font-size:27.18px;transform:scaleX(0.9338)'>GROWTH</div>
<div class='t' id='title2' style='left:349.97px;top:-9.37px;font-size:27.97px;transform:scaleX(0.9049)'>IN</div>
<div class='t' id='title3' style='left:384.22px;top:-9.08px;font-size:27.18px;transform:scaleX(1.0105)'>2024-25.</div>
<div class='t' id='c1' style='left:118.19px;top:162.69px;font-size:17.51px;transform:scaleX(0.9851)'>LEATHER &amp;</div>
<div class='t' id='c2' style='left:86.58px;top:188.74px;font-size:17.68px;transform:scaleX(0.9848)'>FOOTWEAR TOTAL</div>
<div class='t' id='c3' style='left:63.93px;top:224.59px;font-size:32.33px;transform:scaleX(1.0604)'>1667.66</div>
<div class='t' id='c4' style='left:192.00px;top:239.01px;font-size:15.85px;transform:scaleX(1.0704)'>MILLION</div>
<div class='t' id='c5' style='left:113.35px;top:265.43px;font-size:16.45px;transform:scaleX(0.9833)'><span style='color:#19ac5a'>+15%</span></div>
<div class='t' id='c5b' style='left:160.40px;top:265.64px;font-size:16.79px;transform:scaleX(0.9259)'>vs YTD</div>
<div class='t' id='c6' style='left:81.02px;top:303.08px;font-size:20.73px;transform:scaleX(1.1386)'>115.56</div>
<div class='t' id='c6b' style='left:157.33px;top:303.36px;font-size:20.73px;transform:scaleX(1.1025)'>MILLION</div>
<div class='t' id='c7' style='left:115.77px;top:332.25px;font-size:16.45px;transform:scaleX(0.9881)'><span style='color:#e3141c'>- 15%</span></div>
<div class='t' id='c7b' style='left:163.35px;top:332.60px;font-size:16.79px;transform:scaleX(0.9238)'>LY JUN</div>
<div class='t' id='h1' style='left:374.59px;top:57.70px;font-size:17.26px;transform:scaleX(0.9970)'>HS: 41 - LEATHER</div>
<div class='t' id='a1' style='left:399.58px;top:86.12px;font-size:29.38px;transform:scaleX(1.0554)'>8.43</div>
<div class='t' id='a2' style='left:466.38px;top:101.05px;font-size:12.91px;transform:scaleX(1.1911)'>MILLION</div>
<div class='t' id='a3' style='left:422.10px;top:121.13px;font-size:17.22px;transform:scaleX(1.0977)'><span style='color:#e3141c'>-33.1%</span></div>
<div class='t' id='a3b' style='left:487.09px;top:121.54px;font-size:17.80px;transform:scaleX(0.8966)'>vs LY</div>
<div class='t' id='a4' style='left:543.20px;top:88.15px;font-size:29.93px;transform:scaleX(1.0270)'>128.21</div>
<div class='t' id='a5' style='left:644.43px;top:102.30px;font-size:13.61px;transform:scaleX(1.1184)'>MILLION</div>
<div class='t' id='a6' style='left:593.78px;top:123.13px;font-size:17.83px;transform:scaleX(1.0174)'><span style='color:#e3141c'>- 10%</span></div>
<div class='t' id='a6b' style='left:647.48px;top:122.09px;font-size:18.08px;transform:scaleX(0.9593)'>vs YTD</div>
<div class='t' id='h2' style='left:376.27px;top:175.39px;font-size:17.55px;transform:scaleX(0.9824)'>HS: 42 &ndash; LEATHER PRODUCTS</div>
<div class='t' id='b1' style='left:385.64px;top:205.19px;font-size:29.23px;transform:scaleX(1.0520)'>26.92</div>
<div class='t' id='b2' style='left:469.49px;top:217.87px;font-size:13.19px;transform:scaleX(1.1492)'>MILLION</div>
<div class='t' id='b3' style='left:431.08px;top:238.97px;font-size:17.35px;transform:scaleX(1.0813)'><span style='color:#19ac5a'>14.3%</span></div>
<div class='t' id='b3b' style='left:490.44px;top:239.72px;font-size:17.94px;transform:scaleX(0.8441)'>vs LY</div>
<div class='t' id='b4' style='left:546.54px;top:206.95px;font-size:28.53px;transform:scaleX(1.0795)'>344.79</div>
<div class='t' id='b5' style='left:648.00px;top:219.97px;font-size:13.46px;transform:scaleX(1.1149)'>MILLION</div>
<div class='t' id='b6' style='left:607.15px;top:240.47px;font-size:18.11px;transform:scaleX(1.0355)'><span style='color:#e3141c'>- 2%</span></div>
<div class='t' id='b6b' style='left:649.47px;top:239.50px;font-size:18.37px;transform:scaleX(0.9479)'>vs YTD</div>
<div class='t' id='h3' style='left:378.51px;top:287.13px;font-size:17.07px;transform:scaleX(1.0312)'>HS: 6403 &ndash; LEATHER FOOTWEAR</div>
<div class='t' id='d1' style='left:379.96px;top:318.48px;font-size:28.67px;transform:scaleX(1.0748)'>51.90</div>
<div class='t' id='d2' style='left:463.74px;top:331.38px;font-size:13.04px;transform:scaleX(1.1584)'>MILLION</div>
<div class='t' id='d3' style='left:415.97px;top:352.58px;font-size:17.40px;transform:scaleX(1.0579)'><span style='color:#e3141c'>- 17.8%</span></div>
<div class='t' id='d3b' style='left:485.33px;top:353.37px;font-size:17.65px;transform:scaleX(0.9032)'>vs LY</div>
<div class='t' id='d4' style='left:541.26px;top:319.54px;font-size:27.20px;transform:scaleX(1.1423)'>672.07</div>
<div class='t' id='d5' style='left:642.99px;top:332.29px;font-size:13.32px;transform:scaleX(1.1183)'>MILLION</div>
<div class='t' id='d6' style='left:587.86px;top:353.35px;font-size:18.11px;transform:scaleX(1.0163)'><span style='color:#19ac5a'>+ 24%</span></div>
<div class='t' id='d6b' style='left:645.28px;top:352.70px;font-size:18.37px;transform:scaleX(0.9375)'>vs YTD</div>
<div class='t' id='h4' style='left:380.11px;top:395.47px;font-size:16.14px;transform:scaleX(1.0865)'>HS: 64 &ndash; OTHERS FOOTWEAR</div>
<div class='t' id='e1' style='left:379.97px;top:422.26px;font-size:28.39px;transform:scaleX(1.0836)'>28.31</div>
<div class='t' id='e2' style='left:464.80px;top:436.13px;font-size:13.04px;transform:scaleX(1.1452)'>MILLION</div>
<div class='t' id='e3' style='left:415.78px;top:457.71px;font-size:17.13px;transform:scaleX(1.0782)'><span style='color:#e3141c'>- 24.2%</span></div>
<div class='t' id='e3b' style='left:485.40px;top:458.00px;font-size:17.36px;transform:scaleX(0.8923)'>vs LY</div>
<div class='t' id='e4' style='left:540.57px;top:424.98px;font-size:27.20px;transform:scaleX(1.1495)'>522.59</div>
<div class='t' id='e5' style='left:642.99px;top:436.89px;font-size:13.32px;transform:scaleX(1.1183)'>MILLION</div>
<div class='t' id='e6' style='left:591.62px;top:459.48px;font-size:17.68px;transform:scaleX(1.0523)'><span style='color:#19ac5a'>+25%</span></div>
<div class='t' id='e6b' style='left:645.28px;top:459.12px;font-size:17.94px;transform:scaleX(0.9549)'>vs YTD</div>
</body></html>
